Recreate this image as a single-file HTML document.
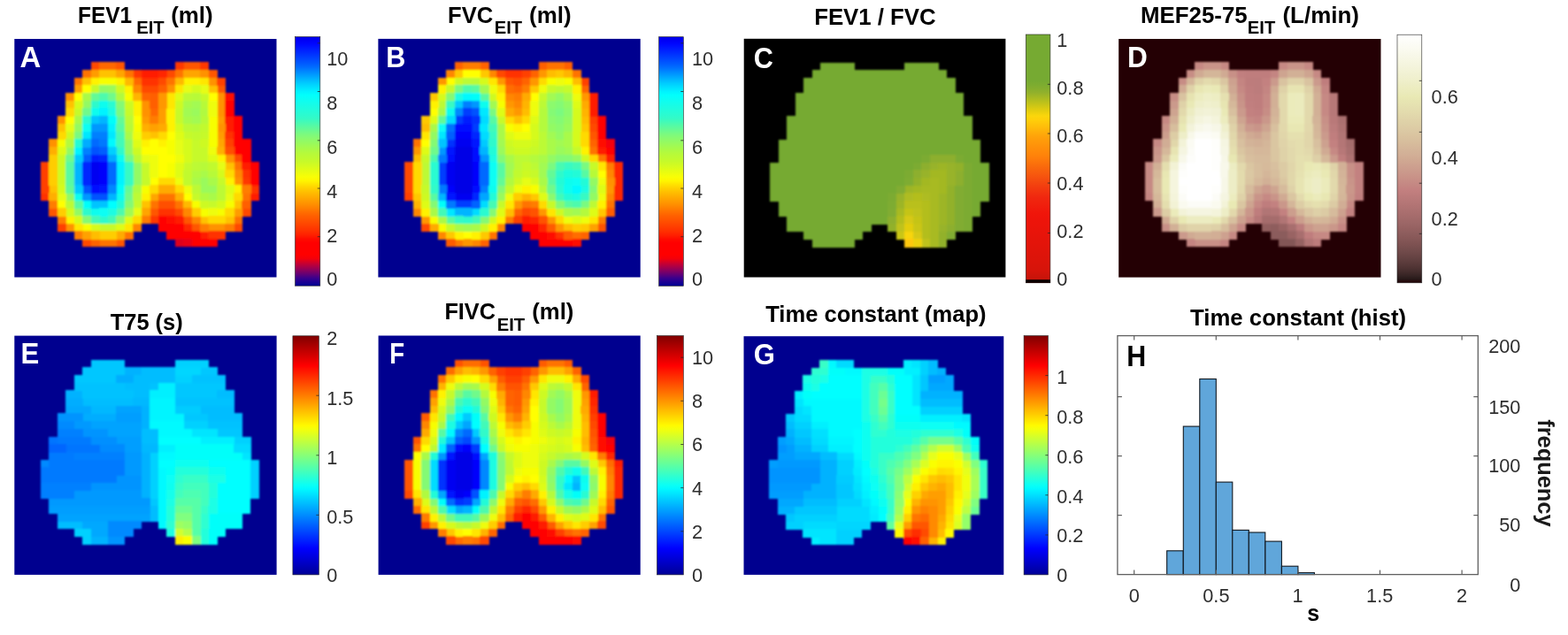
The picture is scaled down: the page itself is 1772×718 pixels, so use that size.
<!DOCTYPE html>
<html><head><meta charset="utf-8"><title>EIT regional lung function maps</title>
<style>html,body{margin:0;padding:0;background:#fff}svg{display:block}text{font-family:"Liberation Sans",sans-serif}</style>
</head><body>
<svg width="1772" height="718" viewBox="0 0 1772 718">
<defs><filter id="soft" x="-5%" y="-5%" width="110%" height="110%"><feGaussianBlur stdDeviation="0.9"/></filter></defs>
<rect width="1772" height="718" fill="#fff"/>
<rect x="16.3" y="44.0" width="296.20" height="269.50" fill="#00008f"/>
<g filter="url(#soft)" shape-rendering="crispEdges">
<path fill="#ff4800" d="M102.7 70.3h10.1v9.3h-10.1zM188.0 79.0h10.1v9.3h-10.1zM178.6 87.7h10.1v9.3h-10.1zM159.6 96.3h19.6v9.3h-19.6zM263.9 174.6h10.1v9.3h-10.1zM197.5 235.4h10.1v9.3h-10.1zM273.4 235.4h10.1v9.3h-10.1zM263.9 252.8h10.1v9.3h-10.1zM93.2 270.1h10.1v9.3h-10.1z"/>
<path fill="#ff6800" d="M112.2 70.3h19.6v9.3h-19.6zM150.1 87.7h10.1v9.3h-10.1zM169.1 122.4h10.1v9.3h-10.1z"/>
<path fill="#ff5700" d="M131.2 70.3h10.1v9.3h-10.1zM207.0 70.3h19.6v9.3h-19.6zM235.4 79.0h10.1v9.3h-10.1zM244.9 96.3h10.1v9.3h-10.1zM55.3 235.4h10.1v9.3h-10.1zM169.1 235.4h10.1v9.3h-10.1zM207.0 244.1h10.1v9.3h-10.1zM216.5 252.8h10.1v9.3h-10.1zM131.2 270.1h10.1v9.3h-10.1z"/>
<path fill="#ff3800" d="M197.5 70.3h10.1v9.3h-10.1zM226.0 70.3h10.1v9.3h-10.1zM150.1 79.0h10.1v9.3h-10.1zM273.4 200.6h10.1v9.3h-10.1zM169.1 244.1h10.1v9.3h-10.1z"/>
<path fill="#ff7300" d="M93.2 79.0h10.1v9.3h-10.1zM140.6 79.0h10.1v9.3h-10.1zM197.5 79.0h10.1v9.3h-10.1zM83.8 87.7h10.1v9.3h-10.1zM188.0 87.7h10.1v9.3h-10.1zM263.9 183.2h10.1v9.3h-10.1zM178.6 218.0h19.6v9.3h-19.6zM273.4 218.0h10.1v9.3h-10.1zM169.1 226.7h10.1v9.3h-10.1zM197.5 226.7h10.1v9.3h-10.1zM263.9 244.1h10.1v9.3h-10.1zM140.6 261.4h10.1v9.3h-10.1zM112.2 270.1h19.6v9.3h-19.6z"/>
<path fill="#ff9c00" d="M102.7 79.0h10.1v9.3h-10.1zM83.8 96.3h10.1v9.3h-10.1zM178.6 122.4h10.1v9.3h-10.1zM159.6 131.1h10.1v9.3h-10.1zM178.6 131.1h10.1v9.3h-10.1zM244.9 131.1h10.1v9.3h-10.1zM244.9 148.5h10.1v9.3h-10.1zM263.9 235.4h10.1v9.3h-10.1z"/>
<path fill="#ffc200" d="M112.2 79.0h19.6v9.3h-19.6zM93.2 87.7h10.1v9.3h-10.1zM235.4 96.3h10.1v9.3h-10.1zM74.3 113.7h10.1v9.3h-10.1zM64.8 139.8h10.1v9.3h-10.1zM169.1 148.5h10.1v9.3h-10.1zM254.4 183.2h10.1v9.3h-10.1zM55.3 209.3h10.1v9.3h-10.1zM159.6 226.7h10.1v9.3h-10.1zM263.9 226.7h10.1v9.3h-10.1zM226.0 244.1h10.1v9.3h-10.1zM254.4 244.1h10.1v9.3h-10.1z"/>
<path fill="#ffa500" d="M131.2 79.0h10.1v9.3h-10.1zM207.0 79.0h19.6v9.3h-19.6zM244.9 157.2h10.1v9.3h-10.1zM169.1 218.0h10.1v9.3h-10.1zM159.6 235.4h10.1v9.3h-10.1z"/>
<path fill="#ff1b00" d="M159.6 79.0h19.6v9.3h-19.6zM254.4 131.1h10.1v9.3h-10.1zM254.4 139.8h10.1v9.3h-10.1zM273.4 183.2h10.1v9.3h-10.1zM282.8 218.0h10.1v9.3h-10.1zM197.5 244.1h10.1v9.3h-10.1zM226.0 261.4h10.1v9.3h-10.1z"/>
<path fill="#ff2800" d="M178.6 79.0h10.1v9.3h-10.1zM207.0 252.8h10.1v9.3h-10.1z"/>
<path fill="#ff9200" d="M226.0 79.0h10.1v9.3h-10.1zM235.4 87.7h10.1v9.3h-10.1zM188.0 96.3h10.1v9.3h-10.1zM74.3 105.0h10.1v9.3h-10.1zM244.9 105.0h10.1v9.3h-10.1zM159.6 113.7h10.1v9.3h-10.1zM244.9 113.7h10.1v9.3h-10.1zM159.6 122.4h10.1v9.3h-10.1zM244.9 122.4h10.1v9.3h-10.1zM64.8 131.1h10.1v9.3h-10.1zM244.9 139.8h10.1v9.3h-10.1zM55.3 157.2h10.1v9.3h-10.1zM254.4 174.6h10.1v9.3h-10.1zM263.9 200.6h10.1v9.3h-10.1zM74.3 252.8h10.1v9.3h-10.1zM235.4 252.8h19.6v9.3h-19.6z"/>
<path fill="#fff200" d="M102.7 87.7h10.1v9.3h-10.1zM131.2 87.7h10.1v9.3h-10.1zM207.0 87.7h19.6v9.3h-19.6zM140.6 96.3h10.1v9.3h-10.1zM150.1 113.7h10.1v9.3h-10.1zM150.1 122.4h10.1v9.3h-10.1zM188.0 122.4h10.1v9.3h-10.1zM188.0 131.1h10.1v9.3h-10.1zM188.0 139.8h10.1v9.3h-10.1zM159.6 157.2h10.1v9.3h-10.1zM178.6 157.2h10.1v9.3h-10.1zM244.9 174.6h10.1v9.3h-10.1zM254.4 200.6h10.1v9.3h-10.1zM263.9 209.3h10.1v9.3h-10.1zM159.6 218.0h10.1v9.3h-10.1zM74.3 244.1h10.1v9.3h-10.1z"/>
<path fill="#f7fe06" d="M112.2 87.7h19.6v9.3h-19.6zM140.6 105.0h10.1v9.3h-10.1zM235.4 131.1h10.1v9.3h-10.1zM150.1 139.8h10.1v9.3h-10.1zM235.4 139.8h10.1v9.3h-10.1zM235.4 148.5h10.1v9.3h-10.1zM64.8 157.2h10.1v9.3h-10.1zM188.0 157.2h10.1v9.3h-10.1zM235.4 157.2h10.1v9.3h-10.1zM188.0 165.9h10.1v9.3h-10.1zM188.0 183.2h10.1v9.3h-10.1zM188.0 191.9h10.1v9.3h-10.1zM159.6 209.3h10.1v9.3h-10.1zM216.5 226.7h10.1v9.3h-10.1zM254.4 226.7h10.1v9.3h-10.1zM226.0 235.4h10.1v9.3h-10.1zM244.9 235.4h10.1v9.3h-10.1zM93.2 252.8h10.1v9.3h-10.1z"/>
<path fill="#ffb900" d="M140.6 87.7h10.1v9.3h-10.1zM197.5 87.7h10.1v9.3h-10.1zM207.0 226.7h10.1v9.3h-10.1z"/>
<path fill="#ff3000" d="M159.6 87.7h19.6v9.3h-19.6zM254.4 148.5h10.1v9.3h-10.1zM273.4 191.9h10.1v9.3h-10.1zM282.8 209.3h10.1v9.3h-10.1zM45.8 218.0h10.1v9.3h-10.1zM178.6 235.4h19.6v9.3h-19.6zM235.4 261.4h19.6v9.3h-19.6z"/>
<path fill="#ffe600" d="M226.0 87.7h10.1v9.3h-10.1zM197.5 96.3h10.1v9.3h-10.1zM188.0 105.0h10.1v9.3h-10.1zM188.0 113.7h10.1v9.3h-10.1zM83.8 252.8h10.1v9.3h-10.1zM140.6 252.8h10.1v9.3h-10.1z"/>
<path fill="#ff4000" d="M244.9 87.7h10.1v9.3h-10.1zM254.4 157.2h10.1v9.3h-10.1zM45.8 183.2h10.1v9.3h-10.1zM45.8 191.9h10.1v9.3h-10.1zM45.8 200.6h10.1v9.3h-10.1zM45.8 209.3h10.1v9.3h-10.1zM64.8 252.8h10.1v9.3h-10.1z"/>
<path fill="#ffff00" d="M93.2 96.3h10.1v9.3h-10.1zM83.8 105.0h10.1v9.3h-10.1zM235.4 105.0h10.1v9.3h-10.1zM74.3 131.1h10.1v9.3h-10.1zM150.1 131.1h10.1v9.3h-10.1zM188.0 148.5h10.1v9.3h-10.1zM169.1 157.2h10.1v9.3h-10.1zM159.6 165.9h29.0v9.3h-29.0zM178.6 174.6h19.6v9.3h-19.6zM178.6 183.2h10.1v9.3h-10.1zM178.6 191.9h10.1v9.3h-10.1zM169.1 200.6h10.1v9.3h-10.1zM207.0 218.0h10.1v9.3h-10.1zM64.8 226.7h10.1v9.3h-10.1z"/>
<path fill="#c6fa2a" d="M102.7 96.3h10.1v9.3h-10.1zM226.0 105.0h10.1v9.3h-10.1zM83.8 122.4h10.1v9.3h-10.1zM140.6 122.4h10.1v9.3h-10.1zM197.5 122.4h10.1v9.3h-10.1zM197.5 131.1h10.1v9.3h-10.1zM207.0 148.5h10.1v9.3h-10.1zM226.0 148.5h10.1v9.3h-10.1zM216.5 157.2h10.1v9.3h-10.1zM216.5 165.9h19.6v9.3h-19.6zM216.5 174.6h19.6v9.3h-19.6zM159.6 183.2h10.1v9.3h-10.1zM207.0 183.2h10.1v9.3h-10.1zM159.6 191.9h10.1v9.3h-10.1zM159.6 200.6h10.1v9.3h-10.1zM244.9 200.6h10.1v9.3h-10.1zM216.5 218.0h10.1v9.3h-10.1zM150.1 226.7h10.1v9.3h-10.1zM235.4 226.7h10.1v9.3h-10.1zM112.2 252.8h19.6v9.3h-19.6z"/>
<path fill="#93fa64" d="M112.2 96.3h10.1v9.3h-10.1zM93.2 113.7h10.1v9.3h-10.1zM83.8 139.8h10.1v9.3h-10.1zM140.6 157.2h10.1v9.3h-10.1zM74.3 165.9h10.1v9.3h-10.1zM140.6 165.9h10.1v9.3h-10.1zM150.1 183.2h10.1v9.3h-10.1zM150.1 191.9h10.1v9.3h-10.1zM150.1 200.6h10.1v9.3h-10.1zM74.3 218.0h10.1v9.3h-10.1zM83.8 235.4h10.1v9.3h-10.1z"/>
<path fill="#9afa5b" d="M121.7 96.3h10.1v9.3h-10.1zM216.5 122.4h10.1v9.3h-10.1zM226.0 200.6h10.1v9.3h-10.1zM226.0 209.3h19.6v9.3h-19.6z"/>
<path fill="#cdfa24" d="M131.2 96.3h10.1v9.3h-10.1zM140.6 113.7h10.1v9.3h-10.1zM197.5 113.7h10.1v9.3h-10.1zM74.3 148.5h10.1v9.3h-10.1zM226.0 157.2h10.1v9.3h-10.1zM150.1 165.9h10.1v9.3h-10.1zM64.8 174.6h10.1v9.3h-10.1zM64.8 183.2h10.1v9.3h-10.1zM64.8 191.9h10.1v9.3h-10.1zM64.8 200.6h10.1v9.3h-10.1zM226.0 226.7h10.1v9.3h-10.1z"/>
<path fill="#ff8700" d="M150.1 96.3h10.1v9.3h-10.1zM263.9 191.9h10.1v9.3h-10.1zM207.0 235.4h10.1v9.3h-10.1zM216.5 244.1h10.1v9.3h-10.1zM150.1 252.8h10.1v9.3h-10.1z"/>
<path fill="#ff5f00" d="M178.6 96.3h10.1v9.3h-10.1zM169.1 105.0h10.1v9.3h-10.1zM169.1 113.7h10.1v9.3h-10.1zM273.4 226.7h10.1v9.3h-10.1z"/>
<path fill="#e6fd12" d="M207.0 96.3h10.1v9.3h-10.1zM226.0 96.3h10.1v9.3h-10.1zM74.3 139.8h10.1v9.3h-10.1zM197.5 157.2h10.1v9.3h-10.1zM197.5 165.9h10.1v9.3h-10.1zM159.6 174.6h10.1v9.3h-10.1zM244.9 183.2h10.1v9.3h-10.1zM64.8 218.0h10.1v9.3h-10.1zM254.4 218.0h10.1v9.3h-10.1zM150.1 235.4h10.1v9.3h-10.1z"/>
<path fill="#d5fb1e" d="M216.5 96.3h10.1v9.3h-10.1zM83.8 113.7h10.1v9.3h-10.1zM197.5 139.8h10.1v9.3h-10.1zM207.0 157.2h10.1v9.3h-10.1zM207.0 165.9h10.1v9.3h-10.1zM207.0 174.6h10.1v9.3h-10.1zM244.9 191.9h10.1v9.3h-10.1zM64.8 209.3h10.1v9.3h-10.1zM244.9 226.7h10.1v9.3h-10.1zM74.3 235.4h10.1v9.3h-10.1zM83.8 244.1h10.1v9.3h-10.1zM102.7 252.8h10.1v9.3h-10.1z"/>
<path fill="#a9fa49" d="M93.2 105.0h10.1v9.3h-10.1zM207.0 113.7h10.1v9.3h-10.1zM83.8 131.1h10.1v9.3h-10.1zM207.0 131.1h10.1v9.3h-10.1zM140.6 148.5h10.1v9.3h-10.1zM226.0 191.9h10.1v9.3h-10.1zM216.5 200.6h10.1v9.3h-10.1zM235.4 200.6h10.1v9.3h-10.1zM235.4 218.0h10.1v9.3h-10.1z"/>
<path fill="#64fa96" d="M102.7 105.0h10.1v9.3h-10.1zM131.2 131.1h10.1v9.3h-10.1zM74.3 209.3h10.1v9.3h-10.1zM140.6 209.3h10.1v9.3h-10.1z"/>
<path fill="#4dfaad" d="M112.2 105.0h10.1v9.3h-10.1zM131.2 235.4h10.1v9.3h-10.1z"/>
<path fill="#6ffa8b" d="M121.7 105.0h10.1v9.3h-10.1zM93.2 122.4h10.1v9.3h-10.1zM74.3 174.6h10.1v9.3h-10.1zM140.6 218.0h10.1v9.3h-10.1z"/>
<path fill="#b0fa40" d="M131.2 105.0h10.1v9.3h-10.1zM226.0 122.4h10.1v9.3h-10.1zM216.5 191.9h10.1v9.3h-10.1zM150.1 209.3h10.1v9.3h-10.1zM226.0 218.0h10.1v9.3h-10.1z"/>
<path fill="#ffb400" d="M150.1 105.0h10.1v9.3h-10.1z"/>
<path fill="#ff6300" d="M159.6 105.0h10.1v9.3h-10.1zM102.7 270.1h10.1v9.3h-10.1z"/>
<path fill="#ff9700" d="M178.6 105.0h10.1v9.3h-10.1zM178.6 113.7h10.1v9.3h-10.1z"/>
<path fill="#defc18" d="M197.5 105.0h10.1v9.3h-10.1zM197.5 148.5h10.1v9.3h-10.1zM150.1 157.2h10.1v9.3h-10.1zM64.8 165.9h10.1v9.3h-10.1zM235.4 174.6h10.1v9.3h-10.1zM197.5 183.2h10.1v9.3h-10.1zM197.5 191.9h10.1v9.3h-10.1zM254.4 209.3h10.1v9.3h-10.1zM140.6 244.1h10.1v9.3h-10.1zM131.2 252.8h10.1v9.3h-10.1z"/>
<path fill="#bcfa34" d="M207.0 105.0h10.1v9.3h-10.1zM140.6 131.1h10.1v9.3h-10.1zM207.0 139.8h10.1v9.3h-10.1zM150.1 174.6h10.1v9.3h-10.1zM216.5 183.2h10.1v9.3h-10.1zM216.5 209.3h10.1v9.3h-10.1zM244.9 209.3h10.1v9.3h-10.1zM150.1 218.0h10.1v9.3h-10.1zM244.9 218.0h10.1v9.3h-10.1zM74.3 226.7h10.1v9.3h-10.1z"/>
<path fill="#b7fa39" d="M216.5 105.0h10.1v9.3h-10.1zM226.0 113.7h10.1v9.3h-10.1zM226.0 131.1h10.1v9.3h-10.1zM140.6 139.8h10.1v9.3h-10.1zM216.5 139.8h10.1v9.3h-10.1zM226.0 183.2h10.1v9.3h-10.1zM235.4 191.9h10.1v9.3h-10.1z"/>
<path fill="#ff0d00" d="M254.4 105.0h10.1v9.3h-10.1z"/>
<path fill="#2ffacb" d="M102.7 113.7h10.1v9.3h-10.1zM131.2 165.9h10.1v9.3h-10.1zM93.2 235.4h10.1v9.3h-10.1zM112.2 244.1h10.1v9.3h-10.1z"/>
<path fill="#10fdee" d="M112.2 113.7h10.1v9.3h-10.1zM102.7 122.4h10.1v9.3h-10.1zM131.2 174.6h10.1v9.3h-10.1zM83.8 218.0h10.1v9.3h-10.1zM131.2 218.0h10.1v9.3h-10.1zM102.7 235.4h10.1v9.3h-10.1z"/>
<path fill="#2afbd1" d="M121.7 113.7h10.1v9.3h-10.1zM93.2 131.1h10.1v9.3h-10.1z"/>
<path fill="#84fa75" d="M131.2 113.7h10.1v9.3h-10.1zM140.6 226.7h10.1v9.3h-10.1zM93.2 244.1h10.1v9.3h-10.1z"/>
<path fill="#a2fa52" d="M216.5 113.7h10.1v9.3h-10.1zM207.0 122.4h10.1v9.3h-10.1zM216.5 131.1h10.1v9.3h-10.1zM140.6 235.4h10.1v9.3h-10.1z"/>
<path fill="#eefd0c" d="M235.4 113.7h10.1v9.3h-10.1zM235.4 122.4h10.1v9.3h-10.1zM150.1 148.5h10.1v9.3h-10.1zM235.4 165.9h10.1v9.3h-10.1zM169.1 174.6h10.1v9.3h-10.1zM197.5 174.6h10.1v9.3h-10.1zM169.1 183.2h10.1v9.3h-10.1zM169.1 191.9h10.1v9.3h-10.1zM197.5 200.6h10.1v9.3h-10.1zM207.0 209.3h10.1v9.3h-10.1zM235.4 235.4h10.1v9.3h-10.1z"/>
<path fill="#ff0000" d="M254.4 113.7h10.1v9.3h-10.1zM254.4 122.4h10.1v9.3h-10.1zM263.9 131.1h10.1v9.3h-10.1zM263.9 139.8h10.1v9.3h-10.1zM263.9 148.5h10.1v9.3h-10.1zM263.9 157.2h19.6v9.3h-19.6zM263.9 165.9h19.6v9.3h-19.6zM273.4 174.6h10.1v9.3h-10.1zM282.8 183.2h10.1v9.3h-10.1zM282.8 191.9h10.1v9.3h-10.1zM282.8 200.6h10.1v9.3h-10.1zM178.6 244.1h10.1v9.3h-10.1zM178.6 252.8h29.0v9.3h-29.0zM188.0 261.4h38.5v9.3h-38.5zM216.5 270.1h29.0v9.3h-29.0z"/>
<path fill="#ffda00" d="M74.3 122.4h10.1v9.3h-10.1zM64.8 148.5h10.1v9.3h-10.1zM178.6 148.5h10.1v9.3h-10.1zM254.4 191.9h10.1v9.3h-10.1zM178.6 200.6h19.6v9.3h-19.6zM169.1 209.3h10.1v9.3h-10.1zM197.5 209.3h10.1v9.3h-10.1zM263.9 218.0h10.1v9.3h-10.1zM254.4 235.4h10.1v9.3h-10.1zM150.1 244.1h10.1v9.3h-10.1zM235.4 244.1h19.6v9.3h-19.6z"/>
<path fill="#00f3ff" d="M112.2 122.4h10.1v9.3h-10.1zM121.7 139.8h10.1v9.3h-10.1zM83.8 165.9h10.1v9.3h-10.1zM131.2 183.2h10.1v9.3h-10.1zM131.2 191.9h10.1v9.3h-10.1zM131.2 200.6h10.1v9.3h-10.1z"/>
<path fill="#1afce2" d="M121.7 122.4h10.1v9.3h-10.1zM121.7 235.4h10.1v9.3h-10.1z"/>
<path fill="#7afa80" d="M131.2 122.4h10.1v9.3h-10.1zM83.8 148.5h10.1v9.3h-10.1zM140.6 174.6h10.1v9.3h-10.1z"/>
<path fill="#00c4ff" d="M102.7 131.1h10.1v9.3h-10.1zM102.7 226.7h19.6v9.3h-19.6z"/>
<path fill="#00b5ff" d="M112.2 131.1h10.1v9.3h-10.1zM83.8 183.2h10.1v9.3h-10.1zM83.8 191.9h10.1v9.3h-10.1zM83.8 200.6h10.1v9.3h-10.1zM121.7 218.0h10.1v9.3h-10.1z"/>
<path fill="#05fef9" d="M121.7 131.1h10.1v9.3h-10.1zM131.2 209.3h10.1v9.3h-10.1zM93.2 226.7h10.1v9.3h-10.1z"/>
<path fill="#ff7d00" d="M169.1 131.1h10.1v9.3h-10.1zM273.4 209.3h10.1v9.3h-10.1zM55.3 226.7h10.1v9.3h-10.1zM64.8 244.1h10.1v9.3h-10.1zM159.6 244.1h10.1v9.3h-10.1zM226.0 252.8h10.1v9.3h-10.1zM254.4 252.8h10.1v9.3h-10.1zM83.8 261.4h10.1v9.3h-10.1z"/>
<path fill="#0afef4" d="M93.2 139.8h10.1v9.3h-10.1zM112.2 235.4h10.1v9.3h-10.1z"/>
<path fill="#0097ff" d="M102.7 139.8h19.6v9.3h-19.6zM93.2 218.0h10.1v9.3h-10.1z"/>
<path fill="#58faa2" d="M131.2 139.8h10.1v9.3h-10.1zM74.3 183.2h10.1v9.3h-10.1zM74.3 191.9h10.1v9.3h-10.1zM74.3 200.6h10.1v9.3h-10.1zM83.8 226.7h10.1v9.3h-10.1z"/>
<path fill="#ffaf00" d="M159.6 139.8h10.1v9.3h-10.1zM55.3 165.9h10.1v9.3h-10.1zM244.9 165.9h10.1v9.3h-10.1zM55.3 218.0h10.1v9.3h-10.1zM197.5 218.0h10.1v9.3h-10.1z"/>
<path fill="#ffa100" d="M169.1 139.8h10.1v9.3h-10.1zM93.2 261.4h10.1v9.3h-10.1z"/>
<path fill="#ffaa00" d="M178.6 139.8h10.1v9.3h-10.1zM178.6 209.3h19.6v9.3h-19.6zM131.2 261.4h10.1v9.3h-10.1z"/>
<path fill="#c1fa2f" d="M226.0 139.8h10.1v9.3h-10.1zM216.5 148.5h10.1v9.3h-10.1zM235.4 183.2h10.1v9.3h-10.1zM207.0 191.9h10.1v9.3h-10.1zM207.0 200.6h10.1v9.3h-10.1z"/>
<path fill="#00e8ff" d="M93.2 148.5h10.1v9.3h-10.1zM121.7 148.5h10.1v9.3h-10.1z"/>
<path fill="#0080ff" d="M102.7 148.5h19.6v9.3h-19.6zM93.2 165.9h10.1v9.3h-10.1z"/>
<path fill="#47fab3" d="M131.2 148.5h10.1v9.3h-10.1z"/>
<path fill="#ffcd00" d="M159.6 148.5h10.1v9.3h-10.1zM55.3 174.6h10.1v9.3h-10.1zM55.3 183.2h10.1v9.3h-10.1zM55.3 191.9h10.1v9.3h-10.1zM55.3 200.6h10.1v9.3h-10.1zM64.8 235.4h10.1v9.3h-10.1zM216.5 235.4h10.1v9.3h-10.1zM112.2 261.4h19.6v9.3h-19.6z"/>
<path fill="#b4fa3c" d="M74.3 157.2h10.1v9.3h-10.1z"/>
<path fill="#24fbd7" d="M83.8 157.2h10.1v9.3h-10.1zM131.2 226.7h10.1v9.3h-10.1z"/>
<path fill="#00adff" d="M93.2 157.2h10.1v9.3h-10.1zM121.7 174.6h10.1v9.3h-10.1z"/>
<path fill="#006aff" d="M102.7 157.2h10.1v9.3h-10.1zM121.7 183.2h10.1v9.3h-10.1zM121.7 191.9h10.1v9.3h-10.1zM121.7 200.6h10.1v9.3h-10.1z"/>
<path fill="#0079ff" d="M112.2 157.2h10.1v9.3h-10.1z"/>
<path fill="#00f9ff" d="M121.7 157.2h10.1v9.3h-10.1z"/>
<path fill="#42fab8" d="M131.2 157.2h10.1v9.3h-10.1zM102.7 244.1h10.1v9.3h-10.1zM121.7 244.1h10.1v9.3h-10.1z"/>
<path fill="#0053ff" d="M102.7 165.9h10.1v9.3h-10.1zM93.2 209.3h10.1v9.3h-10.1zM102.7 218.0h19.6v9.3h-19.6z"/>
<path fill="#005eff" d="M112.2 165.9h10.1v9.3h-10.1zM93.2 174.6h10.1v9.3h-10.1z"/>
<path fill="#00d0ff" d="M121.7 165.9h10.1v9.3h-10.1z"/>
<path fill="#ff4f00" d="M254.4 165.9h10.1v9.3h-10.1zM178.6 226.7h19.6v9.3h-19.6z"/>
<path fill="#00caff" d="M83.8 174.6h10.1v9.3h-10.1zM83.8 209.3h10.1v9.3h-10.1z"/>
<path fill="#001dff" d="M102.7 174.6h10.1v9.3h-10.1z"/>
<path fill="#0028ff" d="M112.2 174.6h10.1v9.3h-10.1zM93.2 183.2h10.1v9.3h-10.1zM93.2 191.9h10.1v9.3h-10.1zM93.2 200.6h10.1v9.3h-10.1z"/>
<path fill="#0000f1" d="M102.7 183.2h10.1v9.3h-10.1zM102.7 191.9h10.1v9.3h-10.1zM102.7 200.6h10.1v9.3h-10.1z"/>
<path fill="#0000fc" d="M112.2 183.2h10.1v9.3h-10.1zM112.2 191.9h10.1v9.3h-10.1zM112.2 200.6h10.1v9.3h-10.1z"/>
<path fill="#37fac3" d="M140.6 183.2h10.1v9.3h-10.1zM140.6 191.9h10.1v9.3h-10.1zM140.6 200.6h10.1v9.3h-10.1z"/>
<path fill="#000dff" d="M102.7 209.3h10.1v9.3h-10.1z"/>
<path fill="#0012ff" d="M112.2 209.3h10.1v9.3h-10.1z"/>
<path fill="#0088ff" d="M121.7 209.3h10.1v9.3h-10.1z"/>
<path fill="#00ffff" d="M121.7 226.7h10.1v9.3h-10.1z"/>
<path fill="#8cfa6d" d="M131.2 244.1h10.1v9.3h-10.1z"/>
<path fill="#ff0700" d="M188.0 244.1h10.1v9.3h-10.1z"/>
<path fill="#ffbd00" d="M102.7 261.4h10.1v9.3h-10.1z"/>
<path fill="#de001e" d="M197.5 270.1h10.1v9.3h-10.1z"/>
<path fill="#e90014" d="M207.0 270.1h10.1v9.3h-10.1z"/>
</g>
<rect x="427.4" y="43.9" width="296.30" height="269.60" fill="#00008f"/>
<g filter="url(#soft)" shape-rendering="crispEdges">
<path fill="#ff6300" d="M513.9 70.3h10.1v9.3h-10.1zM542.4 70.3h10.1v9.3h-10.1zM599.2 79.0h10.1v9.3h-10.1zM589.8 87.7h10.1v9.3h-10.1zM580.3 96.3h10.1v9.3h-10.1zM656.1 96.3h10.1v9.3h-10.1zM665.6 157.2h10.1v9.3h-10.1zM580.3 235.4h10.1v9.3h-10.1zM656.1 261.4h10.1v9.3h-10.1zM542.4 270.1h10.1v9.3h-10.1z"/>
<path fill="#ff7d00" d="M523.4 70.3h19.6v9.3h-19.6zM589.8 96.3h10.1v9.3h-10.1zM580.3 105.0h10.1v9.3h-10.1zM684.6 183.2h10.1v9.3h-10.1zM599.2 226.7h10.1v9.3h-10.1zM570.8 244.1h10.1v9.3h-10.1zM675.1 244.1h10.1v9.3h-10.1zM513.9 270.1h10.1v9.3h-10.1z"/>
<path fill="#ff5f00" d="M608.7 70.3h10.1v9.3h-10.1zM637.2 70.3h10.1v9.3h-10.1z"/>
<path fill="#ff7300" d="M618.2 70.3h19.6v9.3h-19.6zM646.6 79.0h10.1v9.3h-10.1zM466.5 157.2h10.1v9.3h-10.1zM665.6 165.9h10.1v9.3h-10.1zM675.1 174.6h10.1v9.3h-10.1zM589.8 226.7h10.1v9.3h-10.1zM684.6 226.7h10.1v9.3h-10.1zM551.8 261.4h10.1v9.3h-10.1z"/>
<path fill="#ff8700" d="M504.4 79.0h10.1v9.3h-10.1zM551.8 79.0h10.1v9.3h-10.1zM570.8 105.0h10.1v9.3h-10.1zM580.3 113.7h10.1v9.3h-10.1zM684.6 191.9h10.1v9.3h-10.1zM684.6 218.0h10.1v9.3h-10.1zM466.5 235.4h10.1v9.3h-10.1zM561.3 252.8h10.1v9.3h-10.1zM495.0 261.4h10.1v9.3h-10.1zM532.9 270.1h10.1v9.3h-10.1z"/>
<path fill="#ffc800" d="M513.9 79.0h10.1v9.3h-10.1zM542.4 79.0h10.1v9.3h-10.1zM627.7 79.0h10.1v9.3h-10.1zM599.2 96.3h10.1v9.3h-10.1zM485.5 105.0h10.1v9.3h-10.1zM476.0 131.1h10.1v9.3h-10.1zM656.1 139.8h10.1v9.3h-10.1zM466.5 218.0h10.1v9.3h-10.1zM599.2 218.0h10.1v9.3h-10.1zM675.1 235.4h10.1v9.3h-10.1zM656.1 252.8h10.1v9.3h-10.1zM504.4 261.4h10.1v9.3h-10.1zM542.4 261.4h10.1v9.3h-10.1z"/>
<path fill="#ffff00" d="M523.4 79.0h19.6v9.3h-19.6zM504.4 87.7h10.1v9.3h-10.1zM599.2 105.0h10.1v9.3h-10.1zM485.5 122.4h10.1v9.3h-10.1zM589.8 139.8h10.1v9.3h-10.1zM476.0 157.2h10.1v9.3h-10.1zM675.1 191.9h10.1v9.3h-10.1zM523.4 261.4h10.1v9.3h-10.1z"/>
<path fill="#ff4800" d="M561.3 79.0h10.1v9.3h-10.1zM665.6 139.8h10.1v9.3h-10.1zM457.0 183.2h10.1v9.3h-10.1zM457.0 191.9h10.1v9.3h-10.1zM457.0 200.6h10.1v9.3h-10.1zM457.0 209.3h10.1v9.3h-10.1zM589.8 235.4h10.1v9.3h-10.1zM476.0 252.8h10.1v9.3h-10.1z"/>
<path fill="#ff3000" d="M570.8 79.0h19.6v9.3h-19.6zM627.7 261.4h10.1v9.3h-10.1z"/>
<path fill="#ff4000" d="M589.8 79.0h10.1v9.3h-10.1zM656.1 87.7h10.1v9.3h-10.1zM665.6 131.1h10.1v9.3h-10.1zM457.0 218.0h10.1v9.3h-10.1zM580.3 244.1h10.1v9.3h-10.1z"/>
<path fill="#ff9700" d="M608.7 79.0h10.1v9.3h-10.1zM495.0 87.7h10.1v9.3h-10.1zM561.3 87.7h10.1v9.3h-10.1zM599.2 87.7h10.1v9.3h-10.1zM656.1 105.0h10.1v9.3h-10.1zM570.8 113.7h10.1v9.3h-10.1zM580.3 122.4h10.1v9.3h-10.1zM466.5 165.9h10.1v9.3h-10.1zM684.6 209.3h10.1v9.3h-10.1zM580.3 226.7h10.1v9.3h-10.1zM608.7 235.4h10.1v9.3h-10.1zM476.0 244.1h10.1v9.3h-10.1zM618.2 244.1h10.1v9.3h-10.1zM627.7 252.8h10.1v9.3h-10.1zM523.4 270.1h10.1v9.3h-10.1z"/>
<path fill="#ffbd00" d="M618.2 79.0h10.1v9.3h-10.1zM646.6 87.7h10.1v9.3h-10.1zM589.8 122.4h10.1v9.3h-10.1zM580.3 131.1h10.1v9.3h-10.1zM656.1 131.1h10.1v9.3h-10.1zM476.0 139.8h10.1v9.3h-10.1zM466.5 174.6h10.1v9.3h-10.1zM570.8 235.4h10.1v9.3h-10.1zM637.2 252.8h10.1v9.3h-10.1z"/>
<path fill="#ffb400" d="M637.2 79.0h10.1v9.3h-10.1zM589.8 113.7h10.1v9.3h-10.1zM656.1 122.4h10.1v9.3h-10.1zM589.8 218.0h10.1v9.3h-10.1zM466.5 226.7h10.1v9.3h-10.1z"/>
<path fill="#cdfa24" d="M513.9 87.7h10.1v9.3h-10.1zM551.8 105.0h10.1v9.3h-10.1zM570.8 157.2h10.1v9.3h-10.1zM599.2 157.2h10.1v9.3h-10.1zM580.3 165.9h19.6v9.3h-19.6zM656.1 174.6h10.1v9.3h-10.1zM589.8 191.9h10.1v9.3h-10.1zM580.3 200.6h10.1v9.3h-10.1zM476.0 218.0h10.1v9.3h-10.1zM627.7 235.4h10.1v9.3h-10.1zM551.8 244.1h10.1v9.3h-10.1zM542.4 252.8h10.1v9.3h-10.1z"/>
<path fill="#bcfa34" d="M523.4 87.7h19.6v9.3h-19.6zM627.7 96.3h10.1v9.3h-10.1zM495.0 113.7h10.1v9.3h-10.1zM608.7 113.7h10.1v9.3h-10.1zM608.7 148.5h10.1v9.3h-10.1zM608.7 157.2h10.1v9.3h-10.1zM608.7 165.9h10.1v9.3h-10.1zM580.3 174.6h19.6v9.3h-19.6zM476.0 183.2h10.1v9.3h-10.1zM580.3 183.2h10.1v9.3h-10.1zM599.2 183.2h10.1v9.3h-10.1zM476.0 191.9h10.1v9.3h-10.1zM476.0 200.6h10.1v9.3h-10.1zM608.7 209.3h10.1v9.3h-10.1zM665.6 226.7h10.1v9.3h-10.1z"/>
<path fill="#d5fb1e" d="M542.4 87.7h10.1v9.3h-10.1zM495.0 105.0h10.1v9.3h-10.1zM646.6 122.4h10.1v9.3h-10.1zM646.6 131.1h10.1v9.3h-10.1zM599.2 139.8h10.1v9.3h-10.1zM646.6 139.8h10.1v9.3h-10.1zM599.2 148.5h10.1v9.3h-10.1zM646.6 148.5h10.1v9.3h-10.1zM580.3 157.2h19.6v9.3h-19.6zM646.6 157.2h10.1v9.3h-10.1zM599.2 200.6h10.1v9.3h-10.1z"/>
<path fill="#ffe600" d="M551.8 87.7h10.1v9.3h-10.1zM476.0 148.5h10.1v9.3h-10.1zM675.1 183.2h10.1v9.3h-10.1zM570.8 226.7h10.1v9.3h-10.1zM618.2 235.4h10.1v9.3h-10.1zM665.6 244.1h10.1v9.3h-10.1z"/>
<path fill="#ff5700" d="M570.8 87.7h10.1v9.3h-10.1zM665.6 148.5h10.1v9.3h-10.1z"/>
<path fill="#ff4f00" d="M580.3 87.7h10.1v9.3h-10.1z"/>
<path fill="#ffda00" d="M608.7 87.7h10.1v9.3h-10.1zM561.3 96.3h10.1v9.3h-10.1zM570.8 131.1h10.1v9.3h-10.1zM589.8 131.1h10.1v9.3h-10.1zM656.1 148.5h10.1v9.3h-10.1zM656.1 157.2h10.1v9.3h-10.1zM665.6 174.6h10.1v9.3h-10.1zM466.5 183.2h10.1v9.3h-10.1zM466.5 191.9h10.1v9.3h-10.1zM466.5 200.6h10.1v9.3h-10.1zM466.5 209.3h10.1v9.3h-10.1zM608.7 226.7h10.1v9.3h-10.1zM627.7 244.1h10.1v9.3h-10.1z"/>
<path fill="#f7fe06" d="M618.2 87.7h10.1v9.3h-10.1zM637.2 87.7h10.1v9.3h-10.1zM561.3 113.7h10.1v9.3h-10.1zM570.8 139.8h10.1v9.3h-10.1zM599.2 209.3h10.1v9.3h-10.1zM485.5 244.1h10.1v9.3h-10.1zM495.0 252.8h10.1v9.3h-10.1z"/>
<path fill="#eefd0c" d="M627.7 87.7h10.1v9.3h-10.1zM551.8 96.3h10.1v9.3h-10.1zM608.7 96.3h10.1v9.3h-10.1zM646.6 105.0h10.1v9.3h-10.1zM599.2 113.7h10.1v9.3h-10.1zM599.2 122.4h10.1v9.3h-10.1zM580.3 148.5h19.6v9.3h-19.6zM675.1 200.6h10.1v9.3h-10.1zM580.3 209.3h10.1v9.3h-10.1zM570.8 218.0h10.1v9.3h-10.1zM675.1 218.0h10.1v9.3h-10.1zM637.2 244.1h10.1v9.3h-10.1zM656.1 244.1h10.1v9.3h-10.1z"/>
<path fill="#fff200" d="M495.0 96.3h10.1v9.3h-10.1zM646.6 96.3h10.1v9.3h-10.1zM561.3 105.0h10.1v9.3h-10.1zM485.5 113.7h10.1v9.3h-10.1zM580.3 139.8h10.1v9.3h-10.1zM656.1 165.9h10.1v9.3h-10.1zM589.8 209.3h10.1v9.3h-10.1zM675.1 226.7h10.1v9.3h-10.1zM476.0 235.4h10.1v9.3h-10.1zM561.3 244.1h10.1v9.3h-10.1zM551.8 252.8h10.1v9.3h-10.1zM513.9 261.4h10.1v9.3h-10.1zM532.9 261.4h10.1v9.3h-10.1z"/>
<path fill="#c6fa2a" d="M504.4 96.3h10.1v9.3h-10.1zM618.2 96.3h10.1v9.3h-10.1zM637.2 96.3h10.1v9.3h-10.1zM608.7 105.0h10.1v9.3h-10.1zM561.3 131.1h10.1v9.3h-10.1zM570.8 165.9h10.1v9.3h-10.1zM599.2 165.9h10.1v9.3h-10.1zM646.6 165.9h10.1v9.3h-10.1zM476.0 174.6h10.1v9.3h-10.1zM589.8 183.2h10.1v9.3h-10.1zM665.6 183.2h10.1v9.3h-10.1zM599.2 191.9h10.1v9.3h-10.1zM476.0 209.3h10.1v9.3h-10.1zM570.8 209.3h10.1v9.3h-10.1zM561.3 226.7h10.1v9.3h-10.1zM618.2 226.7h10.1v9.3h-10.1zM504.4 252.8h10.1v9.3h-10.1z"/>
<path fill="#7afa80" d="M513.9 96.3h10.1v9.3h-10.1zM551.8 122.4h10.1v9.3h-10.1zM627.7 122.4h10.1v9.3h-10.1zM618.2 183.2h10.1v9.3h-10.1zM656.1 183.2h10.1v9.3h-10.1zM656.1 226.7h10.1v9.3h-10.1z"/>
<path fill="#4dfaad" d="M523.4 96.3h10.1v9.3h-10.1zM485.5 174.6h10.1v9.3h-10.1zM646.6 226.7h10.1v9.3h-10.1z"/>
<path fill="#58faa2" d="M532.9 96.3h10.1v9.3h-10.1zM542.4 105.0h10.1v9.3h-10.1zM551.8 131.1h10.1v9.3h-10.1zM561.3 183.2h10.1v9.3h-10.1zM561.3 191.9h10.1v9.3h-10.1zM656.1 191.9h10.1v9.3h-10.1zM618.2 200.6h10.1v9.3h-10.1zM485.5 218.0h10.1v9.3h-10.1zM637.2 226.7h10.1v9.3h-10.1zM504.4 244.1h10.1v9.3h-10.1z"/>
<path fill="#a2fa52" d="M542.4 96.3h10.1v9.3h-10.1zM618.2 105.0h10.1v9.3h-10.1zM551.8 113.7h10.1v9.3h-10.1zM618.2 148.5h10.1v9.3h-10.1zM561.3 157.2h10.1v9.3h-10.1zM627.7 157.2h10.1v9.3h-10.1zM637.2 165.9h10.1v9.3h-10.1zM570.8 183.2h10.1v9.3h-10.1zM608.7 183.2h10.1v9.3h-10.1zM570.8 191.9h10.1v9.3h-10.1zM608.7 191.9h10.1v9.3h-10.1zM646.6 235.4h10.1v9.3h-10.1zM523.4 252.8h10.1v9.3h-10.1z"/>
<path fill="#ff6d00" d="M570.8 96.3h10.1v9.3h-10.1zM646.6 261.4h10.1v9.3h-10.1z"/>
<path fill="#84fa75" d="M504.4 105.0h10.1v9.3h-10.1zM627.7 113.7h10.1v9.3h-10.1zM618.2 122.4h10.1v9.3h-10.1zM627.7 131.1h10.1v9.3h-10.1zM485.5 157.2h10.1v9.3h-10.1zM561.3 174.6h10.1v9.3h-10.1zM627.7 174.6h19.6v9.3h-19.6zM561.3 209.3h10.1v9.3h-10.1zM665.6 209.3h10.1v9.3h-10.1zM485.5 226.7h10.1v9.3h-10.1zM627.7 226.7h10.1v9.3h-10.1zM551.8 235.4h10.1v9.3h-10.1zM542.4 244.1h10.1v9.3h-10.1z"/>
<path fill="#1afce2" d="M513.9 105.0h10.1v9.3h-10.1zM551.8 174.6h10.1v9.3h-10.1zM656.1 209.3h10.1v9.3h-10.1zM646.6 218.0h10.1v9.3h-10.1z"/>
<path fill="#00f9ff" d="M523.4 105.0h10.1v9.3h-10.1zM646.6 209.3h10.1v9.3h-10.1z"/>
<path fill="#05fef9" d="M532.9 105.0h10.1v9.3h-10.1zM495.0 226.7h10.1v9.3h-10.1z"/>
<path fill="#ffaa00" d="M589.8 105.0h10.1v9.3h-10.1zM656.1 113.7h10.1v9.3h-10.1zM570.8 122.4h10.1v9.3h-10.1zM485.5 252.8h10.1v9.3h-10.1z"/>
<path fill="#93fa64" d="M627.7 105.0h10.1v9.3h-10.1zM637.2 113.7h10.1v9.3h-10.1zM637.2 131.1h10.1v9.3h-10.1zM618.2 139.8h10.1v9.3h-10.1zM485.5 148.5h10.1v9.3h-10.1zM627.7 148.5h10.1v9.3h-10.1zM618.2 174.6h10.1v9.3h-10.1zM646.6 174.6h10.1v9.3h-10.1zM665.6 200.6h10.1v9.3h-10.1zM665.6 218.0h10.1v9.3h-10.1z"/>
<path fill="#a9fa49" d="M637.2 105.0h10.1v9.3h-10.1zM495.0 122.4h10.1v9.3h-10.1zM485.5 139.8h10.1v9.3h-10.1zM561.3 139.8h10.1v9.3h-10.1zM561.3 148.5h10.1v9.3h-10.1zM637.2 148.5h10.1v9.3h-10.1zM618.2 157.2h10.1v9.3h-10.1zM637.2 157.2h10.1v9.3h-10.1zM618.2 165.9h10.1v9.3h-10.1zM570.8 174.6h10.1v9.3h-10.1zM608.7 174.6h10.1v9.3h-10.1zM608.7 200.6h10.1v9.3h-10.1zM485.5 235.4h10.1v9.3h-10.1zM637.2 235.4h10.1v9.3h-10.1zM495.0 244.1h10.1v9.3h-10.1zM513.9 252.8h10.1v9.3h-10.1zM532.9 252.8h10.1v9.3h-10.1z"/>
<path fill="#ff1b00" d="M665.6 105.0h10.1v9.3h-10.1zM665.6 113.7h10.1v9.3h-10.1zM665.6 122.4h10.1v9.3h-10.1zM675.1 165.9h10.1v9.3h-10.1zM684.6 174.6h10.1v9.3h-10.1zM589.8 244.1h10.1v9.3h-10.1z"/>
<path fill="#37fac3" d="M504.4 113.7h10.1v9.3h-10.1zM551.8 148.5h10.1v9.3h-10.1zM637.2 183.2h10.1v9.3h-10.1zM656.1 218.0h10.1v9.3h-10.1z"/>
<path fill="#00caff" d="M513.9 113.7h10.1v9.3h-10.1zM542.4 157.2h10.1v9.3h-10.1z"/>
<path fill="#0080ff" d="M523.4 113.7h10.1v9.3h-10.1zM542.4 209.3h10.1v9.3h-10.1z"/>
<path fill="#0097ff" d="M532.9 113.7h10.1v9.3h-10.1zM495.0 165.9h10.1v9.3h-10.1zM542.4 174.6h10.1v9.3h-10.1z"/>
<path fill="#10fdee" d="M542.4 113.7h10.1v9.3h-10.1zM504.4 122.4h10.1v9.3h-10.1zM637.2 200.6h10.1v9.3h-10.1zM551.8 209.3h10.1v9.3h-10.1z"/>
<path fill="#8cfa6d" d="M618.2 113.7h10.1v9.3h-10.1zM637.2 122.4h10.1v9.3h-10.1zM618.2 131.1h10.1v9.3h-10.1zM627.7 139.8h10.1v9.3h-10.1zM618.2 218.0h10.1v9.3h-10.1z"/>
<path fill="#defc18" d="M646.6 113.7h10.1v9.3h-10.1zM561.3 122.4h10.1v9.3h-10.1zM485.5 131.1h10.1v9.3h-10.1zM599.2 131.1h10.1v9.3h-10.1zM570.8 148.5h10.1v9.3h-10.1zM476.0 165.9h10.1v9.3h-10.1zM675.1 209.3h10.1v9.3h-10.1zM608.7 218.0h10.1v9.3h-10.1zM476.0 226.7h10.1v9.3h-10.1zM561.3 235.4h10.1v9.3h-10.1zM665.6 235.4h10.1v9.3h-10.1zM646.6 244.1h10.1v9.3h-10.1z"/>
<path fill="#0088ff" d="M513.9 122.4h10.1v9.3h-10.1z"/>
<path fill="#003dff" d="M523.4 122.4h10.1v9.3h-10.1zM513.9 131.1h10.1v9.3h-10.1zM532.9 139.8h10.1v9.3h-10.1zM495.0 183.2h10.1v9.3h-10.1zM495.0 191.9h10.1v9.3h-10.1zM495.0 200.6h10.1v9.3h-10.1zM513.9 226.7h19.6v9.3h-19.6z"/>
<path fill="#0053ff" d="M532.9 122.4h10.1v9.3h-10.1z"/>
<path fill="#00e8ff" d="M542.4 122.4h10.1v9.3h-10.1zM542.4 139.8h10.1v9.3h-10.1zM495.0 148.5h10.1v9.3h-10.1zM504.4 235.4h10.1v9.3h-10.1z"/>
<path fill="#b4fa3c" d="M608.7 122.4h10.1v9.3h-10.1zM608.7 131.1h10.1v9.3h-10.1zM608.7 139.8h10.1v9.3h-10.1zM599.2 174.6h10.1v9.3h-10.1zM656.1 235.4h10.1v9.3h-10.1z"/>
<path fill="#64fa96" d="M495.0 131.1h10.1v9.3h-10.1zM618.2 191.9h10.1v9.3h-10.1zM561.3 200.6h10.1v9.3h-10.1z"/>
<path fill="#00dcff" d="M504.4 131.1h10.1v9.3h-10.1zM542.4 131.1h10.1v9.3h-10.1zM542.4 148.5h10.1v9.3h-10.1zM542.4 226.7h10.1v9.3h-10.1zM532.9 235.4h10.1v9.3h-10.1z"/>
<path fill="#001dff" d="M523.4 131.1h10.1v9.3h-10.1z"/>
<path fill="#0033ff" d="M532.9 131.1h10.1v9.3h-10.1zM504.4 157.2h10.1v9.3h-10.1z"/>
<path fill="#ff0000" d="M675.1 131.1h10.1v9.3h-10.1zM675.1 139.8h10.1v9.3h-10.1zM675.1 148.5h10.1v9.3h-10.1zM684.6 165.9h10.1v9.3h-10.1zM589.8 252.8h19.6v9.3h-19.6zM599.2 261.4h19.6v9.3h-19.6zM608.7 270.1h38.5v9.3h-38.5z"/>
<path fill="#0afef4" d="M495.0 139.8h10.1v9.3h-10.1zM551.8 183.2h10.1v9.3h-10.1zM551.8 191.9h10.1v9.3h-10.1zM551.8 200.6h10.1v9.3h-10.1zM646.6 200.6h10.1v9.3h-10.1z"/>
<path fill="#0071ff" d="M504.4 139.8h10.1v9.3h-10.1z"/>
<path fill="#0008ff" d="M513.9 139.8h19.6v9.3h-19.6zM532.9 165.9h10.1v9.3h-10.1zM504.4 174.6h10.1v9.3h-10.1zM532.9 174.6h10.1v9.3h-10.1zM532.9 209.3h10.1v9.3h-10.1z"/>
<path fill="#42fab8" d="M551.8 139.8h10.1v9.3h-10.1zM646.6 183.2h10.1v9.3h-10.1zM627.7 218.0h10.1v9.3h-10.1zM495.0 235.4h10.1v9.3h-10.1zM532.9 244.1h10.1v9.3h-10.1z"/>
<path fill="#9afa5b" d="M637.2 139.8h10.1v9.3h-10.1zM561.3 165.9h10.1v9.3h-10.1zM627.7 165.9h10.1v9.3h-10.1zM561.3 218.0h10.1v9.3h-10.1z"/>
<path fill="#005eff" d="M504.4 148.5h10.1v9.3h-10.1z"/>
<path fill="#0000fc" d="M513.9 148.5h19.6v9.3h-19.6zM532.9 183.2h10.1v9.3h-10.1zM532.9 191.9h10.1v9.3h-10.1zM532.9 200.6h10.1v9.3h-10.1zM504.4 209.3h10.1v9.3h-10.1z"/>
<path fill="#0028ff" d="M532.9 148.5h10.1v9.3h-10.1zM532.9 218.0h10.1v9.3h-10.1z"/>
<path fill="#00c4ff" d="M495.0 157.2h10.1v9.3h-10.1z"/>
<path fill="#0000f1" d="M513.9 157.2h19.6v9.3h-19.6zM504.4 183.2h10.1v9.3h-10.1zM504.4 191.9h10.1v9.3h-10.1zM504.4 200.6h10.1v9.3h-10.1zM513.9 218.0h19.6v9.3h-19.6z"/>
<path fill="#0012ff" d="M532.9 157.2h10.1v9.3h-10.1zM504.4 165.9h10.1v9.3h-10.1z"/>
<path fill="#2ffacb" d="M551.8 157.2h10.1v9.3h-10.1zM627.7 191.9h10.1v9.3h-10.1zM523.4 244.1h10.1v9.3h-10.1z"/>
<path fill="#ff0d00" d="M675.1 157.2h10.1v9.3h-10.1zM618.2 261.4h10.1v9.3h-10.1zM646.6 270.1h10.1v9.3h-10.1z"/>
<path fill="#f4000a" d="M684.6 157.2h10.1v9.3h-10.1z"/>
<path fill="#6ffa8b" d="M485.5 165.9h10.1v9.3h-10.1zM618.2 209.3h10.1v9.3h-10.1z"/>
<path fill="#0000e6" d="M513.9 165.9h19.6v9.3h-19.6zM513.9 174.6h19.6v9.3h-19.6zM513.9 183.2h19.6v9.3h-19.6zM513.9 191.9h19.6v9.3h-19.6zM513.9 200.6h19.6v9.3h-19.6zM513.9 209.3h19.6v9.3h-19.6z"/>
<path fill="#00b5ff" d="M542.4 165.9h10.1v9.3h-10.1zM495.0 218.0h10.1v9.3h-10.1zM513.9 235.4h19.6v9.3h-19.6z"/>
<path fill="#24fbd7" d="M551.8 165.9h10.1v9.3h-10.1zM646.6 191.9h10.1v9.3h-10.1zM627.7 200.6h10.1v9.3h-10.1zM656.1 200.6h10.1v9.3h-10.1zM551.8 218.0h10.1v9.3h-10.1zM637.2 218.0h10.1v9.3h-10.1z"/>
<path fill="#0079ff" d="M495.0 174.6h10.1v9.3h-10.1zM495.0 209.3h10.1v9.3h-10.1zM504.4 226.7h10.1v9.3h-10.1z"/>
<path fill="#2afbd1" d="M485.5 183.2h10.1v9.3h-10.1zM485.5 191.9h10.1v9.3h-10.1zM485.5 200.6h10.1v9.3h-10.1zM627.7 209.3h10.1v9.3h-10.1zM542.4 235.4h10.1v9.3h-10.1z"/>
<path fill="#006aff" d="M542.4 183.2h10.1v9.3h-10.1zM542.4 191.9h10.1v9.3h-10.1zM542.4 200.6h10.1v9.3h-10.1z"/>
<path fill="#47fab3" d="M627.7 183.2h10.1v9.3h-10.1zM551.8 226.7h10.1v9.3h-10.1z"/>
<path fill="#ff2800" d="M694.0 183.2h10.1v9.3h-10.1zM694.0 191.9h10.1v9.3h-10.1zM694.0 200.6h10.1v9.3h-10.1zM694.0 209.3h10.1v9.3h-10.1zM694.0 218.0h10.1v9.3h-10.1zM599.2 244.1h10.1v9.3h-10.1zM608.7 252.8h10.1v9.3h-10.1z"/>
<path fill="#c1fa2f" d="M580.3 191.9h10.1v9.3h-10.1z"/>
<path fill="#1ffcdd" d="M637.2 191.9h10.1v9.3h-10.1z"/>
<path fill="#b7fa39" d="M665.6 191.9h10.1v9.3h-10.1z"/>
<path fill="#b0fa40" d="M570.8 200.6h10.1v9.3h-10.1z"/>
<path fill="#e6fd12" d="M589.8 200.6h10.1v9.3h-10.1z"/>
<path fill="#ff9200" d="M684.6 200.6h10.1v9.3h-10.1z"/>
<path fill="#31fac9" d="M485.5 209.3h10.1v9.3h-10.1zM513.9 244.1h10.1v9.3h-10.1z"/>
<path fill="#0dfef1" d="M637.2 209.3h10.1v9.3h-10.1z"/>
<path fill="#0018ff" d="M504.4 218.0h10.1v9.3h-10.1z"/>
<path fill="#00a6ff" d="M542.4 218.0h10.1v9.3h-10.1z"/>
<path fill="#ffcd00" d="M580.3 218.0h10.1v9.3h-10.1zM646.6 252.8h10.1v9.3h-10.1z"/>
<path fill="#0063ff" d="M532.9 226.7h10.1v9.3h-10.1z"/>
<path fill="#ff5300" d="M599.2 235.4h10.1v9.3h-10.1zM608.7 244.1h10.1v9.3h-10.1zM675.1 252.8h10.1v9.3h-10.1z"/>
<path fill="#ff5b00" d="M684.6 235.4h10.1v9.3h-10.1zM618.2 252.8h10.1v9.3h-10.1zM637.2 261.4h10.1v9.3h-10.1zM504.4 270.1h10.1v9.3h-10.1z"/>
<path fill="#ffa100" d="M665.6 252.8h10.1v9.3h-10.1z"/>
</g>
<rect x="840.7" y="43.8" width="295.70" height="269.70" fill="#000000"/>
<g filter="url(#soft)" shape-rendering="crispEdges">
<path fill="#76aa32" d="M927.3 70.6h38.5v9.3h-38.5zM1022.1 70.6h38.5v9.3h-38.5zM917.8 79.3h152.3v9.3h-152.3zM908.4 87.9h171.2v9.3h-171.2zM908.4 96.6h171.2v9.3h-171.2zM898.9 105.3h190.2v9.3h-190.2zM898.9 114.0h190.2v9.3h-190.2zM898.9 122.7h190.2v9.3h-190.2zM889.4 131.4h209.2v9.3h-209.2zM889.4 140.1h209.2v9.3h-209.2zM889.4 148.8h209.2v9.3h-209.2zM879.9 157.5h228.1v9.3h-228.1zM879.9 166.2h228.1v9.3h-228.1zM879.9 174.8h161.8v9.3h-161.8zM1088.5 174.8h19.6v9.3h-19.6zM870.4 183.5h161.8v9.3h-161.8zM1098.0 183.5h19.6v9.3h-19.6zM870.4 192.2h152.3v9.3h-152.3zM1098.0 192.2h19.6v9.3h-19.6zM870.4 200.9h152.3v9.3h-152.3zM1098.0 200.9h19.6v9.3h-19.6zM870.4 209.6h142.8v9.3h-142.8zM1098.0 209.6h19.6v9.3h-19.6zM870.4 218.3h133.3v9.3h-133.3zM1098.0 218.3h19.6v9.3h-19.6zM879.9 227.0h123.8v9.3h-123.8zM1098.0 227.0h10.1v9.3h-10.1zM879.9 235.7h123.8v9.3h-123.8zM1098.0 235.7h10.1v9.3h-10.1zM889.4 244.4h114.4v9.3h-114.4zM889.4 253.1h95.4v9.3h-95.4zM908.4 261.8h67.0v9.3h-67.0zM917.8 270.4h48.0v9.3h-48.0z"/>
<path fill="#7bab31" d="M1041.1 174.8h10.1v9.3h-10.1zM1079.0 174.8h10.1v9.3h-10.1zM1031.6 183.5h10.1v9.3h-10.1zM1088.5 183.5h10.1v9.3h-10.1zM1022.1 192.2h10.1v9.3h-10.1zM1088.5 192.2h10.1v9.3h-10.1zM1088.5 200.9h10.1v9.3h-10.1zM1088.5 209.6h10.1v9.3h-10.1zM1003.2 218.3h10.1v9.3h-10.1zM1088.5 218.3h10.1v9.3h-10.1zM1088.5 227.0h10.1v9.3h-10.1zM1088.5 235.7h10.1v9.3h-10.1zM1088.5 244.4h10.1v9.3h-10.1zM1088.5 253.1h10.1v9.3h-10.1z"/>
<path fill="#8daf2d" d="M1050.6 174.8h29.0v9.3h-29.0zM1041.1 183.5h10.1v9.3h-10.1zM1031.6 192.2h10.1v9.3h-10.1zM1079.0 192.2h10.1v9.3h-10.1zM1079.0 200.9h10.1v9.3h-10.1zM1003.2 244.4h10.1v9.3h-10.1zM1069.5 253.1h10.1v9.3h-10.1z"/>
<path fill="#98b329" d="M1050.6 183.5h10.1v9.3h-10.1zM1069.5 183.5h10.1v9.3h-10.1zM1041.1 192.2h10.1v9.3h-10.1zM1069.5 192.2h10.1v9.3h-10.1zM1069.5 200.9h10.1v9.3h-10.1zM1012.6 218.3h10.1v9.3h-10.1zM1060.0 253.1h10.1v9.3h-10.1z"/>
<path fill="#9db527" d="M1060.0 183.5h10.1v9.3h-10.1zM1022.1 209.6h10.1v9.3h-10.1zM1060.0 218.3h10.1v9.3h-10.1zM1012.6 227.0h10.1v9.3h-10.1zM1060.0 227.0h10.1v9.3h-10.1zM1060.0 235.7h10.1v9.3h-10.1zM1060.0 244.4h10.1v9.3h-10.1z"/>
<path fill="#92b12b" d="M1079.0 183.5h10.1v9.3h-10.1zM1031.6 200.9h10.1v9.3h-10.1zM1069.5 209.6h10.1v9.3h-10.1zM1069.5 218.3h10.1v9.3h-10.1zM1069.5 227.0h10.1v9.3h-10.1zM1069.5 235.7h10.1v9.3h-10.1zM1069.5 244.4h10.1v9.3h-10.1zM1003.2 253.1h10.1v9.3h-10.1zM1060.0 261.8h10.1v9.3h-10.1zM1060.0 270.4h10.1v9.3h-10.1z"/>
<path fill="#a3b824" d="M1050.6 192.2h19.6v9.3h-19.6zM1041.1 200.9h10.1v9.3h-10.1zM1060.0 200.9h10.1v9.3h-10.1zM1031.6 209.6h10.1v9.3h-10.1zM1060.0 209.6h10.1v9.3h-10.1z"/>
<path fill="#7eac30" d="M1022.1 200.9h10.1v9.3h-10.1zM1003.2 227.0h10.1v9.3h-10.1z"/>
<path fill="#a8ba22" d="M1050.6 200.9h10.1v9.3h-10.1zM1041.1 209.6h19.6v9.3h-19.6zM1050.6 218.3h10.1v9.3h-10.1zM1050.6 227.0h10.1v9.3h-10.1zM1012.6 235.7h10.1v9.3h-10.1zM1050.6 235.7h10.1v9.3h-10.1zM1050.6 244.4h10.1v9.3h-10.1zM1050.6 253.1h10.1v9.3h-10.1zM1050.6 261.8h10.1v9.3h-10.1zM1050.6 270.4h10.1v9.3h-10.1z"/>
<path fill="#81ac30" d="M1012.6 209.6h10.1v9.3h-10.1zM1079.0 209.6h10.1v9.3h-10.1zM1079.0 218.3h10.1v9.3h-10.1zM1079.0 227.0h10.1v9.3h-10.1zM1003.2 235.7h10.1v9.3h-10.1zM1079.0 235.7h10.1v9.3h-10.1zM1079.0 244.4h10.1v9.3h-10.1zM1079.0 253.1h10.1v9.3h-10.1zM1069.5 261.8h10.1v9.3h-10.1z"/>
<path fill="#aebc20" d="M1022.1 218.3h10.1v9.3h-10.1zM1041.1 218.3h10.1v9.3h-10.1z"/>
<path fill="#b3be1e" d="M1031.6 218.3h10.1v9.3h-10.1zM1041.1 227.0h10.1v9.3h-10.1zM1041.1 235.7h10.1v9.3h-10.1zM1012.6 244.4h10.1v9.3h-10.1zM1041.1 244.4h10.1v9.3h-10.1zM1041.1 253.1h10.1v9.3h-10.1zM1041.1 261.8h10.1v9.3h-10.1z"/>
<path fill="#b9c01c" d="M1022.1 227.0h19.6v9.3h-19.6z"/>
<path fill="#c5c418" d="M1022.1 235.7h10.1v9.3h-10.1zM1031.6 244.4h10.1v9.3h-10.1z"/>
<path fill="#bfc21a" d="M1031.6 235.7h10.1v9.3h-10.1zM1012.6 253.1h10.1v9.3h-10.1zM1041.1 270.4h10.1v9.3h-10.1z"/>
<path fill="#d6c913" d="M1022.1 244.4h10.1v9.3h-10.1zM1031.6 261.8h10.1v9.3h-10.1z"/>
<path fill="#e2cd0f" d="M1022.1 253.1h10.1v9.3h-10.1z"/>
<path fill="#cac616" d="M1031.6 253.1h10.1v9.3h-10.1zM1012.6 261.8h10.1v9.3h-10.1z"/>
<path fill="#f8d50b" d="M1022.1 261.8h10.1v9.3h-10.1z"/>
<path fill="#ffc80a" d="M1022.1 270.4h10.1v9.3h-10.1z"/>
<path fill="#edd10d" d="M1031.6 270.4h10.1v9.3h-10.1z"/>
</g>
<rect x="1264.2" y="44.0" width="296.30" height="269.60" fill="#240004"/>
<g filter="url(#soft)" shape-rendering="crispEdges">
<path fill="#c68984" d="M1350.4 70.3h10.1v9.3h-10.1zM1378.9 70.3h10.1v9.3h-10.1zM1445.2 70.3h10.1v9.3h-10.1zM1473.7 70.3h10.1v9.3h-10.1zM1483.1 79.0h10.1v9.3h-10.1zM1397.8 96.3h10.1v9.3h-10.1zM1426.3 105.0h10.1v9.3h-10.1zM1492.6 105.0h10.1v9.3h-10.1zM1426.3 113.7h10.1v9.3h-10.1zM1492.6 113.7h10.1v9.3h-10.1zM1492.6 122.4h10.1v9.3h-10.1zM1312.5 131.1h10.1v9.3h-10.1zM1407.3 131.1h10.1v9.3h-10.1zM1303.0 157.2h10.1v9.3h-10.1zM1502.1 165.9h10.1v9.3h-10.1zM1293.5 183.2h10.1v9.3h-10.1zM1293.5 191.9h10.1v9.3h-10.1zM1293.5 200.6h10.1v9.3h-10.1zM1293.5 209.3h10.1v9.3h-10.1zM1426.3 218.0h10.1v9.3h-10.1zM1416.8 226.7h10.1v9.3h-10.1zM1521.1 226.7h10.1v9.3h-10.1zM1407.3 244.1h10.1v9.3h-10.1zM1397.8 252.8h10.1v9.3h-10.1zM1388.3 261.4h10.1v9.3h-10.1zM1483.1 261.4h19.6v9.3h-19.6z"/>
<path fill="#c99489" d="M1359.9 70.3h19.6v9.3h-19.6zM1454.7 70.3h19.6v9.3h-19.6zM1397.8 113.7h10.1v9.3h-10.1zM1312.5 139.8h10.1v9.3h-10.1zM1416.8 139.8h10.1v9.3h-10.1zM1492.6 139.8h10.1v9.3h-10.1zM1303.0 165.9h10.1v9.3h-10.1zM1521.1 200.6h10.1v9.3h-10.1zM1416.8 218.0h10.1v9.3h-10.1zM1435.7 218.0h10.1v9.3h-10.1zM1521.1 218.0h10.1v9.3h-10.1z"/>
<path fill="#c78d85" d="M1340.9 79.0h10.1v9.3h-10.1zM1331.5 87.7h10.1v9.3h-10.1zM1322.0 105.0h10.1v9.3h-10.1zM1426.3 122.4h10.1v9.3h-10.1z"/>
<path fill="#d0aa93" d="M1350.4 79.0h10.1v9.3h-10.1zM1378.9 79.0h10.1v9.3h-10.1zM1331.5 96.3h10.1v9.3h-10.1zM1435.7 96.3h10.1v9.3h-10.1zM1483.1 96.3h10.1v9.3h-10.1zM1407.3 148.5h10.1v9.3h-10.1zM1492.6 165.9h10.1v9.3h-10.1zM1445.2 218.0h10.1v9.3h-10.1zM1312.5 244.1h10.1v9.3h-10.1zM1502.1 244.1h10.1v9.3h-10.1zM1340.9 261.4h10.1v9.3h-10.1z"/>
<path fill="#d4b699" d="M1359.9 79.0h19.6v9.3h-19.6zM1340.9 87.7h10.1v9.3h-10.1zM1483.1 139.8h10.1v9.3h-10.1zM1426.3 157.2h10.1v9.3h-10.1zM1426.3 191.9h10.1v9.3h-10.1zM1511.6 200.6h10.1v9.3h-10.1zM1511.6 218.0h10.1v9.3h-10.1zM1454.7 226.7h10.1v9.3h-10.1zM1397.8 235.4h10.1v9.3h-10.1zM1492.6 244.1h10.1v9.3h-10.1z"/>
<path fill="#c89087" d="M1388.3 79.0h10.1v9.3h-10.1zM1397.8 105.0h10.1v9.3h-10.1zM1492.6 131.1h10.1v9.3h-10.1zM1521.1 183.2h10.1v9.3h-10.1zM1521.1 191.9h10.1v9.3h-10.1zM1511.6 244.1h10.1v9.3h-10.1zM1312.5 252.8h10.1v9.3h-10.1zM1350.4 270.1h29.0v9.3h-29.0z"/>
<path fill="#c17f7f" d="M1397.8 79.0h10.1v9.3h-10.1zM1407.3 113.7h10.1v9.3h-10.1zM1416.8 122.4h10.1v9.3h-10.1zM1530.5 218.0h10.1v9.3h-10.1z"/>
<path fill="#bf7d7d" d="M1407.3 79.0h29.0v9.3h-29.0zM1492.6 87.7h10.1v9.3h-10.1zM1407.3 96.3h10.1v9.3h-10.1zM1416.8 105.0h10.1v9.3h-10.1zM1416.8 113.7h10.1v9.3h-10.1zM1511.6 174.6h10.1v9.3h-10.1zM1426.3 226.7h10.1v9.3h-10.1zM1416.8 235.4h10.1v9.3h-10.1zM1473.7 261.4h10.1v9.3h-10.1z"/>
<path fill="#c48582" d="M1435.7 79.0h10.1v9.3h-10.1zM1397.8 87.7h10.1v9.3h-10.1zM1426.3 96.3h10.1v9.3h-10.1zM1492.6 96.3h10.1v9.3h-10.1zM1416.8 131.1h10.1v9.3h-10.1zM1293.5 218.0h10.1v9.3h-10.1zM1511.6 252.8h10.1v9.3h-10.1zM1340.9 270.1h10.1v9.3h-10.1zM1378.9 270.1h10.1v9.3h-10.1z"/>
<path fill="#cea490" d="M1445.2 79.0h10.1v9.3h-10.1zM1473.7 79.0h10.1v9.3h-10.1zM1322.0 122.4h10.1v9.3h-10.1zM1397.8 131.1h10.1v9.3h-10.1zM1426.3 139.8h10.1v9.3h-10.1zM1416.8 148.5h10.1v9.3h-10.1zM1416.8 209.3h10.1v9.3h-10.1zM1435.7 209.3h10.1v9.3h-10.1zM1407.3 226.7h10.1v9.3h-10.1zM1388.3 252.8h10.1v9.3h-10.1z"/>
<path fill="#d2b096" d="M1454.7 79.0h19.6v9.3h-19.6zM1388.3 105.0h10.1v9.3h-10.1zM1435.7 105.0h10.1v9.3h-10.1zM1483.1 105.0h10.1v9.3h-10.1zM1435.7 113.7h10.1v9.3h-10.1zM1483.1 113.7h10.1v9.3h-10.1zM1483.1 122.4h10.1v9.3h-10.1zM1322.0 131.1h10.1v9.3h-10.1zM1397.8 139.8h10.1v9.3h-10.1zM1426.3 148.5h10.1v9.3h-10.1zM1416.8 157.2h10.1v9.3h-10.1zM1303.0 183.2h10.1v9.3h-10.1zM1511.6 183.2h10.1v9.3h-10.1zM1426.3 200.6h10.1v9.3h-10.1zM1407.3 218.0h10.1v9.3h-10.1zM1303.0 226.7h10.1v9.3h-10.1zM1473.7 244.1h10.1v9.3h-10.1zM1322.0 252.8h10.1v9.3h-10.1zM1350.4 261.4h19.6v9.3h-19.6z"/>
<path fill="#dfd2a8" d="M1350.4 87.7h10.1v9.3h-10.1zM1454.7 87.7h19.6v9.3h-19.6zM1340.9 96.3h10.1v9.3h-10.1zM1445.2 96.3h10.1v9.3h-10.1zM1473.7 96.3h10.1v9.3h-10.1zM1331.5 113.7h10.1v9.3h-10.1zM1388.3 139.8h10.1v9.3h-10.1zM1445.2 165.9h10.1v9.3h-10.1zM1445.2 174.6h10.1v9.3h-10.1zM1502.1 183.2h10.1v9.3h-10.1zM1454.7 209.3h10.1v9.3h-10.1zM1397.8 218.0h10.1v9.3h-10.1zM1322.0 244.1h10.1v9.3h-10.1z"/>
<path fill="#e3dbad" d="M1359.9 87.7h10.1v9.3h-10.1zM1388.3 157.2h10.1v9.3h-10.1zM1454.7 157.2h10.1v9.3h-10.1zM1397.8 191.9h10.1v9.3h-10.1zM1397.8 200.6h10.1v9.3h-10.1zM1464.2 218.0h10.1v9.3h-10.1zM1473.7 226.7h10.1v9.3h-10.1zM1492.6 226.7h10.1v9.3h-10.1z"/>
<path fill="#e1d7aa" d="M1369.4 87.7h10.1v9.3h-10.1zM1388.3 148.5h10.1v9.3h-10.1zM1322.0 157.2h10.1v9.3h-10.1zM1454.7 191.9h10.1v9.3h-10.1zM1502.1 191.9h10.1v9.3h-10.1zM1454.7 200.6h10.1v9.3h-10.1z"/>
<path fill="#dac6a1" d="M1378.9 87.7h10.1v9.3h-10.1zM1435.7 148.5h10.1v9.3h-10.1zM1435.7 157.2h10.1v9.3h-10.1zM1397.8 165.9h10.1v9.3h-10.1zM1435.7 165.9h10.1v9.3h-10.1zM1483.1 165.9h10.1v9.3h-10.1zM1312.5 174.6h10.1v9.3h-10.1zM1435.7 174.6h10.1v9.3h-10.1zM1407.3 183.2h10.1v9.3h-10.1zM1407.3 200.6h10.1v9.3h-10.1zM1445.2 200.6h10.1v9.3h-10.1zM1454.7 218.0h10.1v9.3h-10.1zM1397.8 226.7h10.1v9.3h-10.1z"/>
<path fill="#cda18f" d="M1388.3 87.7h10.1v9.3h-10.1zM1492.6 157.2h10.1v9.3h-10.1zM1511.6 235.4h10.1v9.3h-10.1zM1397.8 244.1h10.1v9.3h-10.1zM1483.1 252.8h19.6v9.3h-19.6zM1378.9 261.4h10.1v9.3h-10.1z"/>
<path fill="#bd7c7c" d="M1407.3 87.7h10.1v9.3h-10.1z"/>
<path fill="#bc7b7b" d="M1416.8 87.7h10.1v9.3h-10.1zM1416.8 96.3h10.1v9.3h-10.1zM1502.1 139.8h10.1v9.3h-10.1zM1464.2 252.8h10.1v9.3h-10.1zM1483.1 270.1h10.1v9.3h-10.1z"/>
<path fill="#c38180" d="M1426.3 87.7h10.1v9.3h-10.1zM1407.3 122.4h10.1v9.3h-10.1zM1502.1 157.2h10.1v9.3h-10.1zM1530.5 183.2h10.1v9.3h-10.1zM1530.5 191.9h10.1v9.3h-10.1zM1530.5 200.6h10.1v9.3h-10.1zM1530.5 209.3h10.1v9.3h-10.1zM1435.7 226.7h10.1v9.3h-10.1zM1445.2 235.4h10.1v9.3h-10.1zM1521.1 235.4h10.1v9.3h-10.1zM1454.7 244.1h10.1v9.3h-10.1z"/>
<path fill="#cb9a8c" d="M1435.7 87.7h10.1v9.3h-10.1zM1483.1 87.7h10.1v9.3h-10.1zM1322.0 113.7h10.1v9.3h-10.1zM1397.8 122.4h10.1v9.3h-10.1zM1407.3 139.8h10.1v9.3h-10.1zM1492.6 148.5h10.1v9.3h-10.1zM1303.0 174.6h10.1v9.3h-10.1zM1502.1 174.6h10.1v9.3h-10.1zM1426.3 209.3h10.1v9.3h-10.1zM1303.0 235.4h10.1v9.3h-10.1zM1331.5 261.4h10.1v9.3h-10.1z"/>
<path fill="#d9c3a0" d="M1445.2 87.7h10.1v9.3h-10.1zM1473.7 87.7h10.1v9.3h-10.1zM1331.5 105.0h10.1v9.3h-10.1z"/>
<path fill="#e8e6b3" d="M1350.4 96.3h10.1v9.3h-10.1z"/>
<path fill="#eaeaba" d="M1359.9 96.3h10.1v9.3h-10.1zM1473.7 191.9h10.1v9.3h-10.1z"/>
<path fill="#e9e9b6" d="M1369.4 96.3h10.1v9.3h-10.1zM1340.9 113.7h10.1v9.3h-10.1zM1378.9 122.4h10.1v9.3h-10.1zM1331.5 139.8h10.1v9.3h-10.1z"/>
<path fill="#e0d4a9" d="M1378.9 96.3h10.1v9.3h-10.1zM1502.1 218.0h10.1v9.3h-10.1z"/>
<path fill="#cfa792" d="M1388.3 96.3h10.1v9.3h-10.1z"/>
<path fill="#e7e4b2" d="M1454.7 96.3h19.6v9.3h-19.6zM1322.0 165.9h10.1v9.3h-10.1zM1492.6 183.2h10.1v9.3h-10.1zM1464.2 200.6h10.1v9.3h-10.1zM1464.2 209.3h10.1v9.3h-10.1zM1312.5 218.0h10.1v9.3h-10.1z"/>
<path fill="#e6e3b1" d="M1340.9 105.0h10.1v9.3h-10.1z"/>
<path fill="#ececc0" d="M1350.4 105.0h10.1v9.3h-10.1z"/>
<path fill="#eeeec7" d="M1359.9 105.0h10.1v9.3h-10.1z"/>
<path fill="#ededc3" d="M1369.4 105.0h10.1v9.3h-10.1z"/>
<path fill="#e5e0b0" d="M1378.9 105.0h10.1v9.3h-10.1z"/>
<path fill="#c07e7e" d="M1407.3 105.0h10.1v9.3h-10.1zM1502.1 148.5h10.1v9.3h-10.1z"/>
<path fill="#e2d9ac" d="M1445.2 105.0h10.1v9.3h-10.1zM1473.7 105.0h10.1v9.3h-10.1zM1445.2 113.7h10.1v9.3h-10.1zM1473.7 113.7h10.1v9.3h-10.1zM1331.5 122.4h10.1v9.3h-10.1zM1445.2 122.4h10.1v9.3h-10.1zM1473.7 122.4h10.1v9.3h-10.1zM1445.2 131.1h10.1v9.3h-10.1zM1473.7 131.1h10.1v9.3h-10.1zM1454.7 165.9h10.1v9.3h-10.1zM1473.7 165.9h10.1v9.3h-10.1zM1454.7 174.6h10.1v9.3h-10.1zM1397.8 183.2h10.1v9.3h-10.1zM1502.1 200.6h10.1v9.3h-10.1zM1397.8 209.3h10.1v9.3h-10.1zM1502.1 209.3h10.1v9.3h-10.1zM1378.9 244.1h10.1v9.3h-10.1z"/>
<path fill="#ebebbb" d="M1454.7 105.0h10.1v9.3h-10.1zM1454.7 113.7h10.1v9.3h-10.1zM1454.7 122.4h10.1v9.3h-10.1zM1322.0 174.6h10.1v9.3h-10.1zM1492.6 200.6h10.1v9.3h-10.1zM1492.6 209.3h10.1v9.3h-10.1zM1483.1 218.0h10.1v9.3h-10.1zM1322.0 235.4h10.1v9.3h-10.1z"/>
<path fill="#ebebbd" d="M1464.2 105.0h10.1v9.3h-10.1zM1464.2 113.7h10.1v9.3h-10.1zM1464.2 122.4h10.1v9.3h-10.1z"/>
<path fill="#b77878" d="M1502.1 105.0h10.1v9.3h-10.1zM1502.1 113.7h10.1v9.3h-10.1zM1502.1 122.4h10.1v9.3h-10.1zM1511.6 165.9h10.1v9.3h-10.1zM1416.8 244.1h10.1v9.3h-10.1z"/>
<path fill="#eeeec9" d="M1350.4 113.7h10.1v9.3h-10.1z"/>
<path fill="#f0f0ce" d="M1359.9 113.7h10.1v9.3h-10.1z"/>
<path fill="#efefcb" d="M1369.4 113.7h10.1v9.3h-10.1zM1378.9 139.8h10.1v9.3h-10.1z"/>
<path fill="#e7e5b2" d="M1378.9 113.7h10.1v9.3h-10.1z"/>
<path fill="#d5b89a" d="M1388.3 113.7h10.1v9.3h-10.1zM1435.7 131.1h10.1v9.3h-10.1zM1397.8 148.5h10.1v9.3h-10.1zM1483.1 148.5h10.1v9.3h-10.1zM1312.5 165.9h10.1v9.3h-10.1zM1426.3 165.9h10.1v9.3h-10.1zM1492.6 174.6h10.1v9.3h-10.1zM1303.0 191.9h10.1v9.3h-10.1zM1416.8 200.6h10.1v9.3h-10.1zM1435.7 200.6h10.1v9.3h-10.1zM1511.6 209.3h10.1v9.3h-10.1zM1303.0 218.0h10.1v9.3h-10.1zM1464.2 235.4h10.1v9.3h-10.1zM1483.1 244.1h10.1v9.3h-10.1z"/>
<path fill="#ececc2" d="M1340.9 122.4h10.1v9.3h-10.1zM1388.3 183.2h10.1v9.3h-10.1z"/>
<path fill="#f1f1d4" d="M1350.4 122.4h10.1v9.3h-10.1zM1369.4 122.4h10.1v9.3h-10.1z"/>
<path fill="#f2f2d7" d="M1359.9 122.4h10.1v9.3h-10.1z"/>
<path fill="#d8c09f" d="M1388.3 122.4h10.1v9.3h-10.1zM1435.7 139.8h10.1v9.3h-10.1zM1397.8 157.2h10.1v9.3h-10.1zM1483.1 157.2h10.1v9.3h-10.1zM1435.7 183.2h10.1v9.3h-10.1zM1388.3 244.1h10.1v9.3h-10.1z"/>
<path fill="#d3b398" d="M1435.7 122.4h10.1v9.3h-10.1zM1483.1 131.1h10.1v9.3h-10.1zM1407.3 157.2h10.1v9.3h-10.1zM1511.6 191.9h10.1v9.3h-10.1z"/>
<path fill="#e6e2b1" d="M1331.5 131.1h10.1v9.3h-10.1zM1464.2 191.9h10.1v9.3h-10.1z"/>
<path fill="#efefcd" d="M1340.9 131.1h10.1v9.3h-10.1z"/>
<path fill="#f4f4dd" d="M1350.4 131.1h10.1v9.3h-10.1z"/>
<path fill="#f6f6e3" d="M1359.9 131.1h10.1v9.3h-10.1z"/>
<path fill="#f4f4dc" d="M1369.4 131.1h10.1v9.3h-10.1z"/>
<path fill="#ececbf" d="M1378.9 131.1h10.1v9.3h-10.1zM1483.1 191.9h10.1v9.3h-10.1zM1473.7 200.6h10.1v9.3h-10.1zM1473.7 209.3h10.1v9.3h-10.1zM1388.3 218.0h10.1v9.3h-10.1z"/>
<path fill="#dccba4" d="M1388.3 131.1h10.1v9.3h-10.1zM1445.2 183.2h10.1v9.3h-10.1zM1445.2 191.9h10.1v9.3h-10.1zM1502.1 226.7h10.1v9.3h-10.1zM1492.6 235.4h10.1v9.3h-10.1zM1331.5 252.8h10.1v9.3h-10.1z"/>
<path fill="#ca978a" d="M1426.3 131.1h10.1v9.3h-10.1zM1521.1 209.3h10.1v9.3h-10.1zM1445.2 226.7h10.1v9.3h-10.1zM1407.3 235.4h10.1v9.3h-10.1zM1473.7 252.8h10.1v9.3h-10.1zM1502.1 252.8h10.1v9.3h-10.1z"/>
<path fill="#eaeab8" d="M1454.7 131.1h19.6v9.3h-19.6zM1483.1 183.2h10.1v9.3h-10.1zM1369.4 244.1h10.1v9.3h-10.1z"/>
<path fill="#b97979" d="M1502.1 131.1h10.1v9.3h-10.1z"/>
<path fill="#ab7070" d="M1511.6 131.1h10.1v9.3h-10.1z"/>
<path fill="#d7be9d" d="M1322.0 139.8h10.1v9.3h-10.1zM1416.8 183.2h10.1v9.3h-10.1zM1416.8 191.9h10.1v9.3h-10.1zM1435.7 191.9h10.1v9.3h-10.1zM1303.0 200.6h10.1v9.3h-10.1zM1303.0 209.3h10.1v9.3h-10.1zM1378.9 252.8h10.1v9.3h-10.1z"/>
<path fill="#f3f3da" d="M1340.9 139.8h10.1v9.3h-10.1z"/>
<path fill="#f8f8e9" d="M1350.4 139.8h10.1v9.3h-10.1zM1340.9 148.5h10.1v9.3h-10.1z"/>
<path fill="#f9f9ee" d="M1359.9 139.8h10.1v9.3h-10.1z"/>
<path fill="#f7f7e7" d="M1369.4 139.8h10.1v9.3h-10.1zM1378.9 174.6h10.1v9.3h-10.1zM1378.9 200.6h10.1v9.3h-10.1zM1378.9 209.3h10.1v9.3h-10.1z"/>
<path fill="#e2d8ab" d="M1445.2 139.8h10.1v9.3h-10.1zM1473.7 139.8h10.1v9.3h-10.1zM1388.3 235.4h10.1v9.3h-10.1z"/>
<path fill="#e8e7b3" d="M1454.7 139.8h19.6v9.3h-19.6zM1388.3 174.6h10.1v9.3h-10.1zM1312.5 191.9h10.1v9.3h-10.1zM1492.6 218.0h10.1v9.3h-10.1z"/>
<path fill="#ae7272" d="M1511.6 139.8h10.1v9.3h-10.1zM1521.1 174.6h10.1v9.3h-10.1z"/>
<path fill="#cc9e8d" d="M1312.5 148.5h10.1v9.3h-10.1zM1454.7 235.4h10.1v9.3h-10.1zM1464.2 244.1h10.1v9.3h-10.1z"/>
<path fill="#ddcda5" d="M1322.0 148.5h10.1v9.3h-10.1zM1397.8 174.6h10.1v9.3h-10.1zM1464.2 226.7h10.1v9.3h-10.1zM1312.5 235.4h10.1v9.3h-10.1z"/>
<path fill="#eeeec8" d="M1331.5 148.5h10.1v9.3h-10.1z"/>
<path fill="#fcfcf7" d="M1350.4 148.5h19.6v9.3h-19.6zM1340.9 165.9h10.1v9.3h-10.1zM1331.5 183.2h10.1v9.3h-10.1zM1331.5 218.0h10.1v9.3h-10.1zM1369.4 218.0h10.1v9.3h-10.1zM1340.9 226.7h29.0v9.3h-29.0z"/>
<path fill="#fbfbf2" d="M1369.4 148.5h10.1v9.3h-10.1z"/>
<path fill="#f2f2d6" d="M1378.9 148.5h10.1v9.3h-10.1z"/>
<path fill="#e1d6aa" d="M1445.2 148.5h10.1v9.3h-10.1zM1473.7 148.5h10.1v9.3h-10.1zM1473.7 157.2h10.1v9.3h-10.1zM1454.7 183.2h10.1v9.3h-10.1z"/>
<path fill="#e5e0af" d="M1454.7 148.5h19.6v9.3h-19.6zM1388.3 165.9h10.1v9.3h-10.1zM1464.2 174.6h10.1v9.3h-10.1zM1464.2 183.2h10.1v9.3h-10.1zM1483.1 226.7h10.1v9.3h-10.1z"/>
<path fill="#b17474" d="M1511.6 148.5h10.1v9.3h-10.1zM1426.3 235.4h10.1v9.3h-10.1zM1445.2 244.1h10.1v9.3h-10.1zM1473.7 270.1h10.1v9.3h-10.1z"/>
<path fill="#d1ad95" d="M1312.5 157.2h10.1v9.3h-10.1zM1511.6 226.7h10.1v9.3h-10.1z"/>
<path fill="#f3f3d8" d="M1331.5 157.2h10.1v9.3h-10.1zM1378.9 226.7h10.1v9.3h-10.1zM1331.5 235.4h10.1v9.3h-10.1z"/>
<path fill="#fbfbf3" d="M1340.9 157.2h10.1v9.3h-10.1z"/>
<path fill="#ffffff" d="M1350.4 157.2h19.6v9.3h-19.6zM1350.4 165.9h19.6v9.3h-19.6zM1350.4 174.6h19.6v9.3h-19.6zM1340.9 183.2h29.0v9.3h-29.0zM1340.9 191.9h38.5v9.3h-38.5zM1331.5 200.6h48.0v9.3h-48.0zM1340.9 209.3h29.0v9.3h-29.0zM1340.9 218.0h29.0v9.3h-29.0z"/>
<path fill="#fefefb" d="M1369.4 157.2h10.1v9.3h-10.1z"/>
<path fill="#f5f5e1" d="M1378.9 157.2h10.1v9.3h-10.1zM1331.5 165.9h10.1v9.3h-10.1zM1378.9 218.0h10.1v9.3h-10.1zM1340.9 235.4h29.0v9.3h-29.0z"/>
<path fill="#e0d3a9" d="M1445.2 157.2h10.1v9.3h-10.1zM1340.9 252.8h29.0v9.3h-29.0z"/>
<path fill="#e4deae" d="M1464.2 157.2h10.1v9.3h-10.1zM1464.2 165.9h10.1v9.3h-10.1zM1473.7 174.6h10.1v9.3h-10.1zM1312.5 183.2h10.1v9.3h-10.1zM1312.5 226.7h10.1v9.3h-10.1z"/>
<path fill="#b47676" d="M1511.6 157.2h10.1v9.3h-10.1zM1435.7 235.4h10.1v9.3h-10.1z"/>
<path fill="#a56c6c" d="M1521.1 157.2h10.1v9.3h-10.1zM1426.3 244.1h19.6v9.3h-19.6z"/>
<path fill="#fefefc" d="M1369.4 165.9h10.1v9.3h-10.1zM1369.4 174.6h10.1v9.3h-10.1zM1369.4 183.2h10.1v9.3h-10.1zM1331.5 191.9h10.1v9.3h-10.1zM1331.5 209.3h10.1v9.3h-10.1zM1369.4 209.3h10.1v9.3h-10.1z"/>
<path fill="#f6f6e4" d="M1378.9 165.9h10.1v9.3h-10.1z"/>
<path fill="#d6bb9c" d="M1407.3 165.9h10.1v9.3h-10.1zM1416.8 174.6h19.6v9.3h-19.6zM1407.3 209.3h10.1v9.3h-10.1zM1445.2 209.3h10.1v9.3h-10.1zM1502.1 235.4h10.1v9.3h-10.1z"/>
<path fill="#d5b79a" d="M1416.8 165.9h10.1v9.3h-10.1z"/>
<path fill="#a86e6e" d="M1521.1 165.9h10.1v9.3h-10.1zM1454.7 252.8h10.1v9.3h-10.1zM1464.2 261.4h10.1v9.3h-10.1z"/>
<path fill="#f8f8ea" d="M1331.5 174.6h10.1v9.3h-10.1zM1378.9 183.2h10.1v9.3h-10.1zM1378.9 191.9h10.1v9.3h-10.1z"/>
<path fill="#fdfdfa" d="M1340.9 174.6h10.1v9.3h-10.1z"/>
<path fill="#d8bf9e" d="M1407.3 174.6h10.1v9.3h-10.1z"/>
<path fill="#ded0a7" d="M1483.1 174.6h10.1v9.3h-10.1zM1483.1 235.4h10.1v9.3h-10.1zM1369.4 252.8h10.1v9.3h-10.1z"/>
<path fill="#f2f2d5" d="M1322.0 183.2h10.1v9.3h-10.1zM1322.0 226.7h10.1v9.3h-10.1z"/>
<path fill="#d6ba9b" d="M1426.3 183.2h10.1v9.3h-10.1z"/>
<path fill="#e9e9b4" d="M1473.7 183.2h10.1v9.3h-10.1zM1492.6 191.9h10.1v9.3h-10.1zM1312.5 200.6h10.1v9.3h-10.1zM1312.5 209.3h10.1v9.3h-10.1zM1473.7 218.0h10.1v9.3h-10.1zM1388.3 226.7h10.1v9.3h-10.1zM1331.5 244.1h10.1v9.3h-10.1z"/>
<path fill="#f5f5de" d="M1322.0 191.9h10.1v9.3h-10.1zM1322.0 200.6h10.1v9.3h-10.1zM1322.0 209.3h10.1v9.3h-10.1z"/>
<path fill="#ededc6" d="M1388.3 191.9h10.1v9.3h-10.1zM1388.3 200.6h10.1v9.3h-10.1zM1483.1 200.6h10.1v9.3h-10.1zM1388.3 209.3h10.1v9.3h-10.1zM1483.1 209.3h10.1v9.3h-10.1zM1378.9 235.4h10.1v9.3h-10.1z"/>
<path fill="#dbc8a3" d="M1407.3 191.9h10.1v9.3h-10.1zM1473.7 235.4h10.1v9.3h-10.1z"/>
<path fill="#f4f4db" d="M1322.0 218.0h10.1v9.3h-10.1zM1369.4 235.4h10.1v9.3h-10.1z"/>
<path fill="#fafaef" d="M1331.5 226.7h10.1v9.3h-10.1zM1369.4 226.7h10.1v9.3h-10.1z"/>
<path fill="#ececc1" d="M1340.9 244.1h29.0v9.3h-29.0z"/>
<path fill="#925f5f" d="M1426.3 252.8h10.1v9.3h-10.1z"/>
<path fill="#8e5d5d" d="M1435.7 252.8h10.1v9.3h-10.1z"/>
<path fill="#996464" d="M1445.2 252.8h10.1v9.3h-10.1zM1454.7 261.4h10.1v9.3h-10.1z"/>
<path fill="#d2ae95" d="M1369.4 261.4h10.1v9.3h-10.1z"/>
<path fill="#8b5b5b" d="M1435.7 261.4h19.6v9.3h-19.6z"/>
<path fill="#835656" d="M1445.2 270.1h19.6v9.3h-19.6z"/>
<path fill="#956262" d="M1464.2 270.1h10.1v9.3h-10.1z"/>
</g>
<rect x="16.3" y="379.6" width="296.30" height="270.30" fill="#00008f"/>
<g filter="url(#soft)" shape-rendering="crispEdges">
<path fill="#00c7ff" d="M102.7 406.6h38.5v9.3h-38.5zM93.2 415.3h48.0v9.3h-48.0zM226.0 415.3h19.6v9.3h-19.6zM83.8 423.9h48.0v9.3h-48.0zM197.5 432.6h57.5v9.3h-57.5zM197.5 441.3h48.0v9.3h-48.0zM207.0 467.4h29.0v9.3h-29.0zM244.9 484.8h29.0v9.3h-29.0zM169.1 563.0h10.1v9.3h-10.1z"/>
<path fill="#00d1ff" d="M197.5 406.6h38.5v9.3h-38.5zM197.5 423.9h19.6v9.3h-19.6zM207.0 476.1h29.0v9.3h-29.0zM263.9 493.5h19.6v9.3h-19.6zM169.1 510.9h10.1v9.3h-10.1zM169.1 519.5h10.1v9.3h-10.1zM282.8 519.5h10.1v9.3h-10.1zM169.1 528.2h10.1v9.3h-10.1zM282.8 528.2h10.1v9.3h-10.1zM169.1 536.9h10.1v9.3h-10.1zM282.8 536.9h10.1v9.3h-10.1zM169.1 545.6h10.1v9.3h-10.1zM282.8 545.6h10.1v9.3h-10.1zM169.1 554.3h10.1v9.3h-10.1zM282.8 554.3h10.1v9.3h-10.1zM83.8 597.8h19.6v9.3h-19.6zM93.2 606.4h10.1v9.3h-10.1z"/>
<path fill="#00b2ff" d="M140.6 415.3h19.6v9.3h-19.6zM74.3 441.3h19.6v9.3h-19.6zM159.6 458.7h10.1v9.3h-10.1zM159.6 467.4h10.1v9.3h-10.1zM159.6 476.1h10.1v9.3h-10.1zM159.6 510.9h10.1v9.3h-10.1zM159.6 519.5h10.1v9.3h-10.1zM159.6 528.2h10.1v9.3h-10.1zM159.6 536.9h10.1v9.3h-10.1zM159.6 545.6h10.1v9.3h-10.1zM159.6 554.3h10.1v9.3h-10.1zM102.7 606.4h19.6v9.3h-19.6z"/>
<path fill="#00bdff" d="M159.6 415.3h38.5v9.3h-38.5zM150.1 423.9h48.0v9.3h-48.0zM140.6 432.6h29.0v9.3h-29.0zM150.1 441.3h19.6v9.3h-19.6zM244.9 441.3h19.6v9.3h-19.6zM93.2 450.0h57.5v9.3h-57.5zM226.0 458.7h38.5v9.3h-38.5zM235.4 467.4h38.5v9.3h-38.5zM159.6 484.8h19.6v9.3h-19.6zM159.6 493.5h19.6v9.3h-19.6zM169.1 571.7h10.1v9.3h-10.1zM169.1 580.4h10.1v9.3h-10.1zM64.8 589.1h29.0v9.3h-29.0z"/>
<path fill="#00d6ff" d="M197.5 415.3h29.0v9.3h-29.0z"/>
<path fill="#00adff" d="M131.2 423.9h19.6v9.3h-19.6zM74.3 450.0h19.6v9.3h-19.6zM93.2 467.4h38.5v9.3h-38.5z"/>
<path fill="#00c2ff" d="M216.5 423.9h38.5v9.3h-38.5zM83.8 432.6h57.5v9.3h-57.5zM169.1 432.6h10.1v9.3h-10.1zM93.2 441.3h57.5v9.3h-57.5zM197.5 450.0h67.0v9.3h-67.0zM235.4 476.1h38.5v9.3h-38.5z"/>
<path fill="#00f0ff" d="M178.6 432.6h19.6v9.3h-19.6zM169.1 441.3h29.0v9.3h-29.0zM226.0 493.5h38.5v9.3h-38.5zM178.6 502.2h19.6v9.3h-19.6z"/>
<path fill="#00b8ff" d="M150.1 450.0h19.6v9.3h-19.6zM102.7 458.7h29.0v9.3h-29.0zM159.6 502.2h19.6v9.3h-19.6z"/>
<path fill="#00f5ff" d="M169.1 450.0h29.0v9.3h-29.0zM169.1 458.7h29.0v9.3h-29.0zM169.1 467.4h38.5v9.3h-38.5z"/>
<path fill="#00a8ff" d="M74.3 458.7h29.0v9.3h-29.0zM93.2 589.1h29.0v9.3h-29.0zM102.7 597.8h19.6v9.3h-19.6z"/>
<path fill="#00a3ff" d="M131.2 458.7h29.0v9.3h-29.0zM102.7 476.1h57.5v9.3h-57.5zM121.7 484.8h38.5v9.3h-38.5zM64.8 580.4h104.9v9.3h-104.9z"/>
<path fill="#00ccff" d="M197.5 458.7h29.0v9.3h-29.0z"/>
<path fill="#0094ff" d="M64.8 467.4h29.0v9.3h-29.0zM93.2 484.8h29.0v9.3h-29.0zM131.2 536.9h29.0v9.3h-29.0zM102.7 545.6h57.5v9.3h-57.5zM121.7 606.4h19.6v9.3h-19.6z"/>
<path fill="#009eff" d="M131.2 467.4h29.0v9.3h-29.0zM131.2 493.5h29.0v9.3h-29.0zM140.6 502.2h19.6v9.3h-19.6zM55.3 571.7h114.4v9.3h-114.4z"/>
<path fill="#008aff" d="M64.8 476.1h19.6v9.3h-19.6zM112.2 502.2h29.0v9.3h-29.0zM45.8 519.5h10.1v9.3h-10.1zM121.7 589.1h38.5v9.3h-38.5zM121.7 597.8h29.0v9.3h-29.0z"/>
<path fill="#0099ff" d="M83.8 476.1h19.6v9.3h-19.6zM140.6 510.9h19.6v9.3h-19.6zM140.6 519.5h19.6v9.3h-19.6zM140.6 528.2h19.6v9.3h-19.6zM83.8 554.3h76.4v9.3h-76.4zM55.3 563.0h114.4v9.3h-114.4z"/>
<path fill="#00faff" d="M169.1 476.1h38.5v9.3h-38.5zM178.6 484.8h38.5v9.3h-38.5zM178.6 510.9h19.6v9.3h-19.6zM178.6 528.2h10.1v9.3h-10.1zM178.6 536.9h10.1v9.3h-10.1zM178.6 545.6h10.1v9.3h-10.1zM178.6 554.3h10.1v9.3h-10.1zM178.6 563.0h10.1v9.3h-10.1zM178.6 571.7h10.1v9.3h-10.1zM178.6 580.4h10.1v9.3h-10.1zM178.6 589.1h10.1v9.3h-10.1z"/>
<path fill="#0080ff" d="M64.8 484.8h29.0v9.3h-29.0zM83.8 510.9h57.5v9.3h-57.5zM45.8 545.6h57.5v9.3h-57.5zM45.8 554.3h38.5v9.3h-38.5z"/>
<path fill="#00e5ff" d="M216.5 484.8h29.0v9.3h-29.0zM273.4 510.9h10.1v9.3h-10.1z"/>
<path fill="#0075ff" d="M55.3 493.5h10.1v9.3h-10.1zM74.3 502.2h38.5v9.3h-38.5z"/>
<path fill="#007aff" d="M64.8 493.5h38.5v9.3h-38.5zM55.3 510.9h29.0v9.3h-29.0zM55.3 519.5h85.9v9.3h-85.9zM45.8 528.2h95.4v9.3h-95.4zM45.8 536.9h85.9v9.3h-85.9z"/>
<path fill="#008fff" d="M102.7 493.5h29.0v9.3h-29.0z"/>
<path fill="#00ffff" d="M178.6 493.5h48.0v9.3h-48.0zM178.6 519.5h19.6v9.3h-19.6zM235.4 519.5h48.0v9.3h-48.0zM254.4 528.2h29.0v9.3h-29.0zM254.4 536.9h29.0v9.3h-29.0zM244.9 545.6h38.5v9.3h-38.5zM244.9 554.3h38.5v9.3h-38.5zM244.9 563.0h38.5v9.3h-38.5zM244.9 571.7h38.5v9.3h-38.5z"/>
<path fill="#0066ff" d="M55.3 502.2h19.6v9.3h-19.6z"/>
<path fill="#05fffa" d="M197.5 502.2h67.0v9.3h-67.0zM197.5 510.9h76.4v9.3h-76.4zM188.0 528.2h10.1v9.3h-10.1zM235.4 580.4h38.5v9.3h-38.5zM235.4 589.1h38.5v9.3h-38.5zM235.4 597.8h19.6v9.3h-19.6zM235.4 606.4h10.1v9.3h-10.1z"/>
<path fill="#00dbff" d="M263.9 502.2h19.6v9.3h-19.6z"/>
<path fill="#0ffff0" d="M197.5 519.5h38.5v9.3h-38.5zM235.4 528.2h19.6v9.3h-19.6zM188.0 545.6h10.1v9.3h-10.1z"/>
<path fill="#24ffdb" d="M197.5 528.2h38.5v9.3h-38.5zM235.4 545.6h10.1v9.3h-10.1zM235.4 554.3h10.1v9.3h-10.1zM188.0 571.7h10.1v9.3h-10.1zM188.0 580.4h10.1v9.3h-10.1zM226.0 597.8h10.1v9.3h-10.1zM226.0 606.4h10.1v9.3h-10.1z"/>
<path fill="#0afff5" d="M188.0 536.9h10.1v9.3h-10.1z"/>
<path fill="#2effd1" d="M197.5 536.9h10.1v9.3h-10.1zM226.0 580.4h10.1v9.3h-10.1zM188.0 589.1h10.1v9.3h-10.1zM226.0 589.1h10.1v9.3h-10.1z"/>
<path fill="#38ffc7" d="M207.0 536.9h29.0v9.3h-29.0zM197.5 545.6h10.1v9.3h-10.1zM226.0 571.7h10.1v9.3h-10.1z"/>
<path fill="#1affe5" d="M235.4 536.9h19.6v9.3h-19.6zM188.0 563.0h10.1v9.3h-10.1zM235.4 563.0h10.1v9.3h-10.1zM235.4 571.7h10.1v9.3h-10.1zM188.0 597.8h10.1v9.3h-10.1z"/>
<path fill="#42ffbd" d="M207.0 545.6h29.0v9.3h-29.0zM197.5 554.3h10.1v9.3h-10.1zM226.0 554.3h10.1v9.3h-10.1zM226.0 563.0h10.1v9.3h-10.1z"/>
<path fill="#14ffeb" d="M188.0 554.3h10.1v9.3h-10.1z"/>
<path fill="#4dffb2" d="M207.0 554.3h19.6v9.3h-19.6z"/>
<path fill="#57ffa8" d="M197.5 563.0h29.0v9.3h-29.0zM216.5 571.7h10.1v9.3h-10.1zM216.5 580.4h10.1v9.3h-10.1zM216.5 589.1h10.1v9.3h-10.1zM216.5 597.8h10.1v9.3h-10.1z"/>
<path fill="#6bff94" d="M197.5 571.7h19.6v9.3h-19.6z"/>
<path fill="#80ff80" d="M197.5 580.4h19.6v9.3h-19.6zM216.5 606.4h10.1v9.3h-10.1z"/>
<path fill="#9eff61" d="M197.5 589.1h10.1v9.3h-10.1z"/>
<path fill="#94ff6b" d="M207.0 589.1h10.1v9.3h-10.1z"/>
<path fill="#d1ff2e" d="M197.5 597.8h10.1v9.3h-10.1z"/>
<path fill="#b3ff4c" d="M207.0 597.8h10.1v9.3h-10.1z"/>
<path fill="#fff000" d="M197.5 606.4h10.1v9.3h-10.1z"/>
<path fill="#faff05" d="M207.0 606.4h10.1v9.3h-10.1z"/>
</g>
<rect x="427.6" y="379.5" width="296.10" height="270.40" fill="#00008f"/>
<g filter="url(#soft)" shape-rendering="crispEdges">
<path fill="#ff5300" d="M513.9 406.6h10.1v9.3h-10.1zM542.4 406.6h10.1v9.3h-10.1zM570.8 432.6h19.6v9.3h-19.6zM665.6 484.8h10.1v9.3h-10.1zM466.5 493.5h10.1v9.3h-10.1zM589.8 563.0h10.1v9.3h-10.1zM684.6 571.7h10.1v9.3h-10.1z"/>
<path fill="#ff6d00" d="M523.4 406.6h19.6v9.3h-19.6zM504.4 415.3h10.1v9.3h-10.1zM684.6 519.5h10.1v9.3h-10.1zM599.2 563.0h10.1v9.3h-10.1zM466.5 571.7h10.1v9.3h-10.1zM561.3 589.1h10.1v9.3h-10.1zM513.9 606.4h10.1v9.3h-10.1z"/>
<path fill="#ff5b00" d="M608.7 406.6h10.1v9.3h-10.1zM637.2 406.6h10.1v9.3h-10.1zM561.3 423.9h10.1v9.3h-10.1zM589.8 423.9h10.1v9.3h-10.1zM580.3 441.3h10.1v9.3h-10.1zM580.3 450.0h10.1v9.3h-10.1zM476.0 467.4h10.1v9.3h-10.1zM665.6 493.5h10.1v9.3h-10.1zM608.7 580.4h10.1v9.3h-10.1zM618.2 589.1h10.1v9.3h-10.1z"/>
<path fill="#ff7300" d="M618.2 406.6h19.6v9.3h-19.6zM495.0 423.9h10.1v9.3h-10.1zM589.8 432.6h10.1v9.3h-10.1zM485.5 441.3h10.1v9.3h-10.1zM570.8 458.7h10.1v9.3h-10.1zM466.5 502.2h10.1v9.3h-10.1zM675.1 580.4h10.1v9.3h-10.1zM646.6 597.8h10.1v9.3h-10.1zM532.9 606.4h10.1v9.3h-10.1z"/>
<path fill="#ffa100" d="M513.9 415.3h10.1v9.3h-10.1zM637.2 415.3h10.1v9.3h-10.1zM551.8 423.9h10.1v9.3h-10.1zM485.5 450.0h10.1v9.3h-10.1zM656.1 450.0h10.1v9.3h-10.1zM589.8 458.7h10.1v9.3h-10.1zM580.3 554.3h10.1v9.3h-10.1zM627.7 589.1h10.1v9.3h-10.1zM665.6 589.1h10.1v9.3h-10.1z"/>
<path fill="#ffbd00" d="M523.4 415.3h10.1v9.3h-10.1zM618.2 415.3h19.6v9.3h-19.6zM485.5 458.7h10.1v9.3h-10.1zM570.8 476.1h10.1v9.3h-10.1zM656.1 476.1h10.1v9.3h-10.1zM656.1 484.8h10.1v9.3h-10.1zM656.1 502.2h10.1v9.3h-10.1zM589.8 545.6h10.1v9.3h-10.1zM675.1 571.7h10.1v9.3h-10.1zM561.3 580.4h10.1v9.3h-10.1z"/>
<path fill="#ffb400" d="M532.9 415.3h10.1v9.3h-10.1zM495.0 432.6h10.1v9.3h-10.1zM561.3 450.0h10.1v9.3h-10.1zM589.8 467.4h10.1v9.3h-10.1zM656.1 467.4h10.1v9.3h-10.1zM656.1 493.5h10.1v9.3h-10.1zM618.2 580.4h10.1v9.3h-10.1zM542.4 597.8h10.1v9.3h-10.1z"/>
<path fill="#ff9700" d="M542.4 415.3h10.1v9.3h-10.1zM608.7 415.3h10.1v9.3h-10.1zM599.2 423.9h10.1v9.3h-10.1zM656.1 441.3h10.1v9.3h-10.1zM589.8 450.0h10.1v9.3h-10.1zM570.8 467.4h10.1v9.3h-10.1zM608.7 571.7h10.1v9.3h-10.1zM485.5 589.1h10.1v9.3h-10.1z"/>
<path fill="#ff6300" d="M551.8 415.3h10.1v9.3h-10.1zM599.2 415.3h10.1v9.3h-10.1zM646.6 415.3h10.1v9.3h-10.1zM656.1 432.6h10.1v9.3h-10.1zM570.8 441.3h10.1v9.3h-10.1zM570.8 450.0h10.1v9.3h-10.1zM580.3 458.7h10.1v9.3h-10.1zM665.6 502.2h10.1v9.3h-10.1zM580.3 563.0h10.1v9.3h-10.1zM684.6 563.0h10.1v9.3h-10.1zM570.8 580.4h10.1v9.3h-10.1zM551.8 597.8h10.1v9.3h-10.1zM637.2 597.8h10.1v9.3h-10.1zM656.1 597.8h10.1v9.3h-10.1z"/>
<path fill="#ff4000" d="M561.3 415.3h10.1v9.3h-10.1zM589.8 415.3h10.1v9.3h-10.1zM570.8 423.9h19.6v9.3h-19.6zM665.6 467.4h10.1v9.3h-10.1zM580.3 571.7h10.1v9.3h-10.1zM476.0 589.1h10.1v9.3h-10.1zM627.7 597.8h10.1v9.3h-10.1z"/>
<path fill="#ff3000" d="M570.8 415.3h19.6v9.3h-19.6zM665.6 458.7h10.1v9.3h-10.1z"/>
<path fill="#ffc800" d="M504.4 423.9h10.1v9.3h-10.1zM599.2 432.6h10.1v9.3h-10.1zM561.3 458.7h10.1v9.3h-10.1zM675.1 519.5h10.1v9.3h-10.1zM608.7 563.0h10.1v9.3h-10.1zM504.4 597.8h10.1v9.3h-10.1z"/>
<path fill="#fff200" d="M513.9 423.9h10.1v9.3h-10.1zM637.2 423.9h10.1v9.3h-10.1zM495.0 441.3h10.1v9.3h-10.1zM599.2 450.0h10.1v9.3h-10.1zM580.3 493.5h10.1v9.3h-10.1zM646.6 493.5h10.1v9.3h-10.1zM675.1 528.2h10.1v9.3h-10.1zM589.8 536.9h10.1v9.3h-10.1zM608.7 554.3h10.1v9.3h-10.1zM675.1 554.3h10.1v9.3h-10.1zM618.2 571.7h10.1v9.3h-10.1zM485.5 580.4h10.1v9.3h-10.1zM627.7 580.4h10.1v9.3h-10.1zM495.0 589.1h10.1v9.3h-10.1zM513.9 597.8h10.1v9.3h-10.1z"/>
<path fill="#f7fe06" d="M523.4 423.9h10.1v9.3h-10.1zM551.8 441.3h10.1v9.3h-10.1zM485.5 476.1h10.1v9.3h-10.1zM561.3 476.1h10.1v9.3h-10.1zM599.2 476.1h10.1v9.3h-10.1zM599.2 484.8h10.1v9.3h-10.1zM646.6 484.8h10.1v9.3h-10.1zM570.8 493.5h10.1v9.3h-10.1zM599.2 493.5h10.1v9.3h-10.1zM580.3 502.2h19.6v9.3h-19.6zM646.6 502.2h10.1v9.3h-10.1zM466.5 519.5h10.1v9.3h-10.1zM466.5 528.2h10.1v9.3h-10.1zM589.8 528.2h19.6v9.3h-19.6zM466.5 536.9h10.1v9.3h-10.1zM675.1 536.9h10.1v9.3h-10.1zM466.5 545.6h10.1v9.3h-10.1zM570.8 545.6h10.1v9.3h-10.1zM675.1 545.6h10.1v9.3h-10.1z"/>
<path fill="#ffff00" d="M532.9 423.9h10.1v9.3h-10.1zM599.2 458.7h10.1v9.3h-10.1zM599.2 467.4h10.1v9.3h-10.1zM589.8 493.5h10.1v9.3h-10.1zM476.0 502.2h10.1v9.3h-10.1zM466.5 510.9h10.1v9.3h-10.1zM580.3 536.9h10.1v9.3h-10.1zM599.2 536.9h10.1v9.3h-10.1zM523.4 597.8h10.1v9.3h-10.1z"/>
<path fill="#ffda00" d="M542.4 423.9h10.1v9.3h-10.1zM551.8 432.6h10.1v9.3h-10.1zM476.0 493.5h10.1v9.3h-10.1zM599.2 545.6h10.1v9.3h-10.1zM570.8 554.3h10.1v9.3h-10.1zM675.1 563.0h10.1v9.3h-10.1z"/>
<path fill="#ffe600" d="M608.7 423.9h10.1v9.3h-10.1zM646.6 432.6h10.1v9.3h-10.1zM599.2 441.3h10.1v9.3h-10.1zM485.5 467.4h10.1v9.3h-10.1zM561.3 467.4h10.1v9.3h-10.1zM570.8 484.8h10.1v9.3h-10.1zM589.8 484.8h10.1v9.3h-10.1zM665.6 510.9h10.1v9.3h-10.1zM466.5 554.3h10.1v9.3h-10.1zM476.0 571.7h10.1v9.3h-10.1zM561.3 571.7h10.1v9.3h-10.1zM665.6 580.4h10.1v9.3h-10.1zM646.6 589.1h10.1v9.3h-10.1zM532.9 597.8h10.1v9.3h-10.1z"/>
<path fill="#eefd0c" d="M618.2 423.9h19.6v9.3h-19.6zM504.4 432.6h10.1v9.3h-10.1zM646.6 441.3h10.1v9.3h-10.1zM495.0 450.0h10.1v9.3h-10.1zM551.8 450.0h10.1v9.3h-10.1zM646.6 450.0h10.1v9.3h-10.1zM646.6 458.7h10.1v9.3h-10.1zM646.6 467.4h10.1v9.3h-10.1zM646.6 476.1h10.1v9.3h-10.1zM485.5 484.8h10.1v9.3h-10.1zM561.3 484.8h10.1v9.3h-10.1zM608.7 493.5h10.1v9.3h-10.1zM570.8 502.2h10.1v9.3h-10.1zM599.2 502.2h10.1v9.3h-10.1zM589.8 510.9h19.6v9.3h-19.6zM589.8 519.5h19.6v9.3h-19.6zM580.3 528.2h10.1v9.3h-10.1zM561.3 563.0h10.1v9.3h-10.1zM551.8 580.4h10.1v9.3h-10.1zM542.4 589.1h10.1v9.3h-10.1z"/>
<path fill="#ffaa00" d="M646.6 423.9h10.1v9.3h-10.1zM561.3 441.3h10.1v9.3h-10.1zM656.1 458.7h10.1v9.3h-10.1zM580.3 476.1h10.1v9.3h-10.1zM476.0 484.8h10.1v9.3h-10.1zM599.2 554.3h10.1v9.3h-10.1zM570.8 563.0h10.1v9.3h-10.1z"/>
<path fill="#ff4800" d="M656.1 423.9h10.1v9.3h-10.1zM665.6 476.1h10.1v9.3h-10.1zM457.0 554.3h10.1v9.3h-10.1zM599.2 571.7h10.1v9.3h-10.1zM675.1 589.1h10.1v9.3h-10.1zM504.4 606.4h10.1v9.3h-10.1zM542.4 606.4h10.1v9.3h-10.1z"/>
<path fill="#bcfa34" d="M513.9 432.6h10.1v9.3h-10.1zM618.2 432.6h10.1v9.3h-10.1zM551.8 476.1h10.1v9.3h-10.1zM618.2 476.1h10.1v9.3h-10.1zM637.2 476.1h10.1v9.3h-10.1zM485.5 502.2h10.1v9.3h-10.1zM570.8 519.5h10.1v9.3h-10.1zM570.8 528.2h10.1v9.3h-10.1zM665.6 528.2h10.1v9.3h-10.1zM485.5 571.7h10.1v9.3h-10.1zM551.8 571.7h10.1v9.3h-10.1zM495.0 580.4h10.1v9.3h-10.1zM513.9 589.1h10.1v9.3h-10.1z"/>
<path fill="#a2fa52" d="M523.4 432.6h10.1v9.3h-10.1zM618.2 441.3h10.1v9.3h-10.1z"/>
<path fill="#a9fa49" d="M532.9 432.6h10.1v9.3h-10.1zM637.2 441.3h10.1v9.3h-10.1zM504.4 450.0h10.1v9.3h-10.1zM618.2 467.4h10.1v9.3h-10.1zM637.2 467.4h10.1v9.3h-10.1zM495.0 476.1h10.1v9.3h-10.1zM627.7 476.1h10.1v9.3h-10.1zM551.8 484.8h10.1v9.3h-10.1zM476.0 510.9h10.1v9.3h-10.1zM637.2 510.9h10.1v9.3h-10.1zM618.2 519.5h10.1v9.3h-10.1zM656.1 571.7h10.1v9.3h-10.1z"/>
<path fill="#d5fb1e" d="M542.4 432.6h10.1v9.3h-10.1zM495.0 458.7h10.1v9.3h-10.1zM608.7 476.1h10.1v9.3h-10.1zM485.5 493.5h10.1v9.3h-10.1zM561.3 493.5h10.1v9.3h-10.1zM627.7 493.5h10.1v9.3h-10.1zM618.2 502.2h10.1v9.3h-10.1zM637.2 502.2h10.1v9.3h-10.1zM608.7 510.9h10.1v9.3h-10.1zM656.1 510.9h10.1v9.3h-10.1zM570.8 536.9h10.1v9.3h-10.1zM608.7 536.9h10.1v9.3h-10.1zM618.2 563.0h10.1v9.3h-10.1zM646.6 580.4h10.1v9.3h-10.1zM504.4 589.1h10.1v9.3h-10.1z"/>
<path fill="#ff7d00" d="M561.3 432.6h10.1v9.3h-10.1zM580.3 467.4h10.1v9.3h-10.1zM675.1 510.9h10.1v9.3h-10.1zM684.6 528.2h10.1v9.3h-10.1zM589.8 554.3h10.1v9.3h-10.1zM684.6 554.3h10.1v9.3h-10.1zM570.8 571.7h10.1v9.3h-10.1zM476.0 580.4h10.1v9.3h-10.1zM495.0 597.8h10.1v9.3h-10.1zM523.4 606.4h10.1v9.3h-10.1z"/>
<path fill="#defc18" d="M608.7 432.6h10.1v9.3h-10.1zM551.8 458.7h10.1v9.3h-10.1zM608.7 484.8h10.1v9.3h-10.1zM618.2 493.5h10.1v9.3h-10.1zM637.2 493.5h10.1v9.3h-10.1zM608.7 502.2h10.1v9.3h-10.1zM580.3 510.9h10.1v9.3h-10.1zM580.3 519.5h10.1v9.3h-10.1zM665.6 519.5h10.1v9.3h-10.1zM608.7 545.6h10.1v9.3h-10.1zM476.0 563.0h10.1v9.3h-10.1zM665.6 571.7h10.1v9.3h-10.1zM637.2 580.4h10.1v9.3h-10.1zM656.1 580.4h10.1v9.3h-10.1z"/>
<path fill="#b4fa3c" d="M627.7 432.6h10.1v9.3h-10.1zM542.4 441.3h10.1v9.3h-10.1zM627.7 510.9h10.1v9.3h-10.1zM646.6 510.9h10.1v9.3h-10.1zM618.2 554.3h10.1v9.3h-10.1zM523.4 589.1h10.1v9.3h-10.1z"/>
<path fill="#c6fa2a" d="M637.2 432.6h10.1v9.3h-10.1zM504.4 441.3h10.1v9.3h-10.1zM608.7 450.0h10.1v9.3h-10.1zM608.7 458.7h10.1v9.3h-10.1zM495.0 467.4h10.1v9.3h-10.1zM627.7 484.8h10.1v9.3h-10.1zM561.3 502.2h10.1v9.3h-10.1zM570.8 510.9h10.1v9.3h-10.1zM618.2 510.9h10.1v9.3h-10.1zM561.3 554.3h10.1v9.3h-10.1zM665.6 563.0h10.1v9.3h-10.1zM627.7 571.7h10.1v9.3h-10.1zM532.9 589.1h10.1v9.3h-10.1z"/>
<path fill="#84fa75" d="M513.9 441.3h10.1v9.3h-10.1zM627.7 450.0h10.1v9.3h-10.1zM542.4 458.7h10.1v9.3h-10.1zM627.7 458.7h10.1v9.3h-10.1zM476.0 519.5h10.1v9.3h-10.1zM561.3 519.5h10.1v9.3h-10.1zM627.7 519.5h10.1v9.3h-10.1zM476.0 528.2h10.1v9.3h-10.1zM561.3 528.2h10.1v9.3h-10.1zM476.0 536.9h10.1v9.3h-10.1zM561.3 536.9h10.1v9.3h-10.1zM476.0 545.6h10.1v9.3h-10.1zM561.3 545.6h10.1v9.3h-10.1zM485.5 563.0h10.1v9.3h-10.1z"/>
<path fill="#58faa2" d="M523.4 441.3h10.1v9.3h-10.1zM542.4 467.4h10.1v9.3h-10.1zM495.0 484.8h10.1v9.3h-10.1zM637.2 519.5h19.6v9.3h-19.6zM532.9 580.4h10.1v9.3h-10.1z"/>
<path fill="#6ffa8b" d="M532.9 441.3h10.1v9.3h-10.1zM551.8 502.2h10.1v9.3h-10.1zM656.1 563.0h10.1v9.3h-10.1zM504.4 580.4h10.1v9.3h-10.1z"/>
<path fill="#ff8700" d="M589.8 441.3h10.1v9.3h-10.1zM476.0 476.1h10.1v9.3h-10.1zM684.6 536.9h10.1v9.3h-10.1zM684.6 545.6h10.1v9.3h-10.1z"/>
<path fill="#cdfa24" d="M608.7 441.3h10.1v9.3h-10.1zM551.8 467.4h10.1v9.3h-10.1zM608.7 467.4h10.1v9.3h-10.1zM618.2 484.8h10.1v9.3h-10.1zM637.2 484.8h10.1v9.3h-10.1zM627.7 502.2h10.1v9.3h-10.1zM608.7 519.5h10.1v9.3h-10.1zM608.7 528.2h10.1v9.3h-10.1z"/>
<path fill="#93fa64" d="M627.7 441.3h10.1v9.3h-10.1zM542.4 450.0h10.1v9.3h-10.1zM618.2 450.0h10.1v9.3h-10.1zM618.2 458.7h10.1v9.3h-10.1zM627.7 467.4h10.1v9.3h-10.1zM551.8 493.5h10.1v9.3h-10.1zM656.1 519.5h10.1v9.3h-10.1zM618.2 528.2h10.1v9.3h-10.1zM665.6 536.9h10.1v9.3h-10.1zM618.2 545.6h10.1v9.3h-10.1zM646.6 571.7h10.1v9.3h-10.1z"/>
<path fill="#ff1b00" d="M665.6 441.3h10.1v9.3h-10.1zM694.0 519.5h10.1v9.3h-10.1zM580.3 580.4h10.1v9.3h-10.1zM599.2 580.4h10.1v9.3h-10.1zM608.7 589.1h10.1v9.3h-10.1z"/>
<path fill="#47fab3" d="M513.9 450.0h10.1v9.3h-10.1z"/>
<path fill="#2afbd1" d="M523.4 450.0h10.1v9.3h-10.1zM656.1 554.3h10.1v9.3h-10.1z"/>
<path fill="#42fab8" d="M532.9 450.0h10.1v9.3h-10.1zM504.4 467.4h10.1v9.3h-10.1zM542.4 476.1h10.1v9.3h-10.1zM656.1 528.2h10.1v9.3h-10.1zM646.6 563.0h10.1v9.3h-10.1zM513.9 580.4h19.6v9.3h-19.6z"/>
<path fill="#9efa56" d="M637.2 450.0h10.1v9.3h-10.1zM637.2 458.7h10.1v9.3h-10.1zM665.6 554.3h10.1v9.3h-10.1zM637.2 571.7h10.1v9.3h-10.1zM542.4 580.4h10.1v9.3h-10.1z"/>
<path fill="#ff2800" d="M665.6 450.0h10.1v9.3h-10.1zM684.6 510.9h10.1v9.3h-10.1zM694.0 528.2h10.1v9.3h-10.1zM694.0 536.9h10.1v9.3h-10.1zM694.0 545.6h10.1v9.3h-10.1zM694.0 554.3h10.1v9.3h-10.1zM589.8 571.7h10.1v9.3h-10.1z"/>
<path fill="#8cfa6d" d="M504.4 458.7h10.1v9.3h-10.1zM561.3 510.9h10.1v9.3h-10.1zM618.2 536.9h10.1v9.3h-10.1zM665.6 545.6h10.1v9.3h-10.1zM551.8 563.0h10.1v9.3h-10.1zM627.7 563.0h10.1v9.3h-10.1z"/>
<path fill="#24fbd7" d="M513.9 458.7h10.1v9.3h-10.1zM532.9 458.7h10.1v9.3h-10.1zM495.0 493.5h10.1v9.3h-10.1zM485.5 510.9h10.1v9.3h-10.1zM637.2 528.2h10.1v9.3h-10.1zM485.5 554.3h10.1v9.3h-10.1zM542.4 563.0h10.1v9.3h-10.1z"/>
<path fill="#0afef4" d="M523.4 458.7h10.1v9.3h-10.1z"/>
<path fill="#00f9ff" d="M513.9 467.4h10.1v9.3h-10.1zM504.4 484.8h10.1v9.3h-10.1zM637.2 536.9h10.1v9.3h-10.1z"/>
<path fill="#00caff" d="M523.4 467.4h10.1v9.3h-10.1zM513.9 476.1h10.1v9.3h-10.1zM532.9 484.8h10.1v9.3h-10.1z"/>
<path fill="#05fef9" d="M532.9 467.4h10.1v9.3h-10.1zM646.6 554.3h10.1v9.3h-10.1zM495.0 563.0h10.1v9.3h-10.1zM532.9 571.7h10.1v9.3h-10.1z"/>
<path fill="#ff0000" d="M675.1 467.4h10.1v9.3h-10.1zM675.1 476.1h10.1v9.3h-10.1zM675.1 484.8h10.1v9.3h-10.1zM684.6 502.2h10.1v9.3h-10.1zM589.8 580.4h10.1v9.3h-10.1zM589.8 589.1h19.6v9.3h-19.6zM599.2 597.8h19.6v9.3h-19.6zM608.7 606.4h38.5v9.3h-38.5z"/>
<path fill="#1afce2" d="M504.4 476.1h10.1v9.3h-10.1zM542.4 493.5h10.1v9.3h-10.1zM551.8 519.5h10.1v9.3h-10.1zM551.8 528.2h10.1v9.3h-10.1zM551.8 536.9h10.1v9.3h-10.1zM551.8 545.6h10.1v9.3h-10.1z"/>
<path fill="#00a6ff" d="M523.4 476.1h10.1v9.3h-10.1zM542.4 510.9h10.1v9.3h-10.1zM495.0 554.3h10.1v9.3h-10.1zM532.9 563.0h10.1v9.3h-10.1zM513.9 571.7h10.1v9.3h-10.1z"/>
<path fill="#00ffff" d="M532.9 476.1h10.1v9.3h-10.1zM542.4 502.2h10.1v9.3h-10.1z"/>
<path fill="#ffcd00" d="M589.8 476.1h10.1v9.3h-10.1zM580.3 484.8h10.1v9.3h-10.1zM580.3 545.6h10.1v9.3h-10.1zM551.8 589.1h10.1v9.3h-10.1zM637.2 589.1h10.1v9.3h-10.1zM656.1 589.1h10.1v9.3h-10.1z"/>
<path fill="#0088ff" d="M513.9 484.8h10.1v9.3h-10.1zM542.4 519.5h10.1v9.3h-10.1zM542.4 528.2h10.1v9.3h-10.1zM542.4 536.9h10.1v9.3h-10.1zM542.4 545.6h10.1v9.3h-10.1z"/>
<path fill="#006aff" d="M523.4 484.8h10.1v9.3h-10.1zM504.4 563.0h10.1v9.3h-10.1z"/>
<path fill="#31fac9" d="M542.4 484.8h10.1v9.3h-10.1zM627.7 536.9h10.1v9.3h-10.1zM627.7 545.6h10.1v9.3h-10.1z"/>
<path fill="#00c4ff" d="M504.4 493.5h10.1v9.3h-10.1zM646.6 536.9h10.1v9.3h-10.1z"/>
<path fill="#005eff" d="M513.9 493.5h10.1v9.3h-10.1z"/>
<path fill="#0048ff" d="M523.4 493.5h10.1v9.3h-10.1z"/>
<path fill="#0097ff" d="M532.9 493.5h10.1v9.3h-10.1zM495.0 510.9h10.1v9.3h-10.1z"/>
<path fill="#ff0d00" d="M675.1 493.5h10.1v9.3h-10.1zM675.1 502.2h10.1v9.3h-10.1zM618.2 597.8h10.1v9.3h-10.1zM646.6 606.4h10.1v9.3h-10.1z"/>
<path fill="#f4000a" d="M684.6 493.5h10.1v9.3h-10.1z"/>
<path fill="#00edff" d="M495.0 502.2h10.1v9.3h-10.1z"/>
<path fill="#0063ff" d="M504.4 502.2h10.1v9.3h-10.1z"/>
<path fill="#0008ff" d="M513.9 502.2h10.1v9.3h-10.1zM532.9 510.9h10.1v9.3h-10.1z"/>
<path fill="#0000fc" d="M523.4 502.2h10.1v9.3h-10.1zM532.9 519.5h10.1v9.3h-10.1zM532.9 528.2h10.1v9.3h-10.1zM532.9 536.9h10.1v9.3h-10.1zM532.9 545.6h10.1v9.3h-10.1zM523.4 554.3h10.1v9.3h-10.1z"/>
<path fill="#003dff" d="M532.9 502.2h10.1v9.3h-10.1zM523.4 563.0h10.1v9.3h-10.1z"/>
<path fill="#0012ff" d="M504.4 510.9h10.1v9.3h-10.1zM504.4 554.3h10.1v9.3h-10.1z"/>
<path fill="#0000e6" d="M513.9 510.9h19.6v9.3h-19.6zM513.9 519.5h19.6v9.3h-19.6zM513.9 528.2h19.6v9.3h-19.6zM513.9 536.9h19.6v9.3h-19.6zM513.9 545.6h19.6v9.3h-19.6z"/>
<path fill="#1ffcdd" d="M551.8 510.9h10.1v9.3h-10.1z"/>
<path fill="#ff5700" d="M457.0 519.5h10.1v9.3h-10.1zM457.0 528.2h10.1v9.3h-10.1zM457.0 536.9h10.1v9.3h-10.1zM457.0 545.6h10.1v9.3h-10.1z"/>
<path fill="#00dcff" d="M485.5 519.5h10.1v9.3h-10.1zM485.5 528.2h10.1v9.3h-10.1zM485.5 536.9h10.1v9.3h-10.1zM485.5 545.6h10.1v9.3h-10.1zM504.4 571.7h10.1v9.3h-10.1z"/>
<path fill="#0033ff" d="M495.0 519.5h10.1v9.3h-10.1zM495.0 528.2h10.1v9.3h-10.1zM495.0 536.9h10.1v9.3h-10.1zM495.0 545.6h10.1v9.3h-10.1zM513.9 563.0h10.1v9.3h-10.1z"/>
<path fill="#0000f1" d="M504.4 519.5h10.1v9.3h-10.1zM504.4 528.2h10.1v9.3h-10.1zM504.4 536.9h10.1v9.3h-10.1zM504.4 545.6h10.1v9.3h-10.1zM513.9 554.3h10.1v9.3h-10.1z"/>
<path fill="#4dfaad" d="M627.7 528.2h10.1v9.3h-10.1zM551.8 554.3h10.1v9.3h-10.1zM627.7 554.3h10.1v9.3h-10.1zM637.2 563.0h10.1v9.3h-10.1zM495.0 571.7h10.1v9.3h-10.1zM542.4 571.7h10.1v9.3h-10.1z"/>
<path fill="#10fdee" d="M646.6 528.2h10.1v9.3h-10.1zM656.1 536.9h10.1v9.3h-10.1z"/>
<path fill="#00e8ff" d="M637.2 545.6h10.1v9.3h-10.1z"/>
<path fill="#00b5ff" d="M646.6 545.6h10.1v9.3h-10.1zM523.4 571.7h10.1v9.3h-10.1z"/>
<path fill="#08fef6" d="M656.1 545.6h10.1v9.3h-10.1z"/>
<path fill="#b0fa40" d="M476.0 554.3h10.1v9.3h-10.1z"/>
<path fill="#0053ff" d="M532.9 554.3h10.1v9.3h-10.1z"/>
<path fill="#00f3ff" d="M542.4 554.3h10.1v9.3h-10.1z"/>
<path fill="#15fde8" d="M637.2 554.3h10.1v9.3h-10.1z"/>
<path fill="#ffaf00" d="M466.5 563.0h10.1v9.3h-10.1z"/>
</g>
<rect x="840.5" y="380.2" width="293.80" height="269.70" fill="#00008f"/>
<g filter="url(#soft)" shape-rendering="crispEdges">
<path fill="#38ffc7" d="M926.1 407.1h10.1v9.3h-10.1zM983.0 424.4h19.6v9.3h-19.6zM1002.0 441.8h10.1v9.3h-10.1zM1002.0 450.5h10.1v9.3h-10.1zM1002.0 459.2h10.1v9.3h-10.1zM983.0 467.9h10.1v9.3h-10.1zM1030.4 494.0h10.1v9.3h-10.1zM992.5 511.4h19.6v9.3h-19.6zM992.5 520.0h10.1v9.3h-10.1zM992.5 528.7h10.1v9.3h-10.1zM1106.2 528.7h10.1v9.3h-10.1zM1106.2 537.4h10.1v9.3h-10.1zM1106.2 546.1h10.1v9.3h-10.1zM1106.2 554.8h10.1v9.3h-10.1zM1002.0 563.5h10.1v9.3h-10.1zM1002.0 572.2h10.1v9.3h-10.1z"/>
<path fill="#00faff" d="M935.6 407.1h10.1v9.3h-10.1zM954.6 415.8h19.6v9.3h-19.6zM907.2 450.5h67.0v9.3h-67.0zM916.6 459.2h57.5v9.3h-57.5zM916.6 467.9h57.5v9.3h-57.5zM935.6 476.6h38.5v9.3h-38.5zM1077.8 476.6h19.6v9.3h-19.6zM935.6 485.3h29.0v9.3h-29.0zM964.0 511.4h10.1v9.3h-10.1zM973.5 537.4h10.1v9.3h-10.1zM983.0 563.5h10.1v9.3h-10.1z"/>
<path fill="#00dbff" d="M945.1 407.1h19.6v9.3h-19.6zM897.7 459.2h10.1v9.3h-10.1zM897.7 467.9h19.6v9.3h-19.6zM916.6 494.0h19.6v9.3h-19.6zM945.1 511.4h19.6v9.3h-19.6zM964.0 554.8h10.1v9.3h-10.1zM945.1 572.2h38.5v9.3h-38.5zM945.1 580.9h38.5v9.3h-38.5zM907.2 589.6h38.5v9.3h-38.5z"/>
<path fill="#00f0ff" d="M1020.9 407.1h10.1v9.3h-10.1zM1020.9 415.8h19.6v9.3h-19.6zM897.7 441.8h10.1v9.3h-10.1zM1039.9 467.9h48.0v9.3h-48.0zM916.6 476.6h19.6v9.3h-19.6zM935.6 502.7h29.0v9.3h-29.0zM964.0 520.0h10.1v9.3h-10.1zM973.5 554.8h10.1v9.3h-10.1zM983.0 572.2h10.1v9.3h-10.1zM916.6 606.9h10.1v9.3h-10.1z"/>
<path fill="#00e5ff" d="M1030.4 407.1h10.1v9.3h-10.1zM1030.4 424.4h10.1v9.3h-10.1zM1030.4 433.1h10.1v9.3h-10.1zM1030.4 441.8h10.1v9.3h-10.1zM897.7 450.5h10.1v9.3h-10.1zM1030.4 450.5h10.1v9.3h-10.1zM907.2 459.2h10.1v9.3h-10.1zM1087.3 467.9h10.1v9.3h-10.1zM964.0 537.4h10.1v9.3h-10.1zM973.5 563.5h10.1v9.3h-10.1zM907.2 598.2h38.5v9.3h-38.5zM926.1 606.9h19.6v9.3h-19.6z"/>
<path fill="#00d1ff" d="M1039.9 407.1h10.1v9.3h-10.1zM1039.9 415.8h10.1v9.3h-10.1zM1039.9 459.2h48.0v9.3h-48.0zM897.7 476.6h19.6v9.3h-19.6zM916.6 502.7h19.6v9.3h-19.6zM945.1 520.0h19.6v9.3h-19.6zM945.1 528.7h19.6v9.3h-19.6zM945.1 563.5h29.0v9.3h-29.0zM897.7 580.9h48.0v9.3h-48.0zM888.2 589.6h19.6v9.3h-19.6zM945.1 598.2h29.0v9.3h-29.0zM945.1 606.9h19.6v9.3h-19.6z"/>
<path fill="#00bdff" d="M1049.4 407.1h10.1v9.3h-10.1zM1049.4 415.8h10.1v9.3h-10.1zM1039.9 450.5h48.0v9.3h-48.0zM888.2 476.6h10.1v9.3h-10.1zM897.7 494.0h19.6v9.3h-19.6zM926.1 511.4h19.6v9.3h-19.6zM907.2 563.5h38.5v9.3h-38.5z"/>
<path fill="#2effd1" d="M916.6 415.8h19.6v9.3h-19.6zM1002.0 433.1h10.1v9.3h-10.1zM1002.0 467.9h10.1v9.3h-10.1zM983.0 476.6h10.1v9.3h-10.1zM1002.0 476.6h10.1v9.3h-10.1zM983.0 485.3h19.6v9.3h-19.6zM1039.9 485.3h38.5v9.3h-38.5zM1087.3 494.0h10.1v9.3h-10.1zM1011.4 502.7h10.1v9.3h-10.1zM1106.2 520.0h10.1v9.3h-10.1zM992.5 537.4h10.1v9.3h-10.1z"/>
<path fill="#05fffa" d="M935.6 415.8h19.6v9.3h-19.6zM1002.0 415.8h19.6v9.3h-19.6zM907.2 441.8h10.1v9.3h-10.1zM1011.4 467.9h29.0v9.3h-29.0zM1087.3 485.3h10.1v9.3h-10.1zM1096.8 494.0h10.1v9.3h-10.1zM973.5 520.0h10.1v9.3h-10.1zM983.0 554.8h10.1v9.3h-10.1zM992.5 572.2h10.1v9.3h-10.1z"/>
<path fill="#1affe5" d="M973.5 415.8h29.0v9.3h-29.0zM907.2 424.4h10.1v9.3h-10.1zM926.1 424.4h10.1v9.3h-10.1zM973.5 424.4h10.1v9.3h-10.1zM916.6 433.1h10.1v9.3h-10.1zM973.5 433.1h10.1v9.3h-10.1zM973.5 441.8h10.1v9.3h-10.1zM973.5 450.5h10.1v9.3h-10.1zM973.5 459.2h10.1v9.3h-10.1zM973.5 467.9h10.1v9.3h-10.1zM1011.4 485.3h19.6v9.3h-19.6zM1077.8 485.3h10.1v9.3h-10.1zM983.0 528.7h10.1v9.3h-10.1zM992.5 554.8h10.1v9.3h-10.1z"/>
<path fill="#00b2ff" d="M1058.8 415.8h10.1v9.3h-10.1zM1039.9 441.8h48.0v9.3h-48.0zM888.2 485.3h10.1v9.3h-10.1zM897.7 502.7h19.6v9.3h-19.6zM926.1 520.0h19.6v9.3h-19.6zM926.1 528.7h19.6v9.3h-19.6zM926.1 537.4h19.6v9.3h-19.6zM916.6 546.1h29.0v9.3h-29.0zM907.2 554.8h38.5v9.3h-38.5zM878.7 572.2h19.6v9.3h-19.6z"/>
<path fill="#24ffdb" d="M916.6 424.4h10.1v9.3h-10.1zM1002.0 424.4h10.1v9.3h-10.1zM1002.0 485.3h10.1v9.3h-10.1zM1030.4 485.3h10.1v9.3h-10.1zM983.0 494.0h48.0v9.3h-48.0zM983.0 502.7h29.0v9.3h-29.0zM983.0 511.4h10.1v9.3h-10.1zM983.0 520.0h10.1v9.3h-10.1zM992.5 546.1h10.1v9.3h-10.1z"/>
<path fill="#00ffff" d="M935.6 424.4h38.5v9.3h-38.5zM1011.4 424.4h19.6v9.3h-19.6zM926.1 433.1h48.0v9.3h-48.0zM1011.4 433.1h19.6v9.3h-19.6zM916.6 441.8h57.5v9.3h-57.5zM1011.4 441.8h19.6v9.3h-19.6zM1011.4 450.5h19.6v9.3h-19.6zM1011.4 459.2h29.0v9.3h-29.0zM964.0 485.3h10.1v9.3h-10.1zM964.0 494.0h10.1v9.3h-10.1zM964.0 502.7h10.1v9.3h-10.1zM973.5 528.7h10.1v9.3h-10.1zM992.5 580.9h10.1v9.3h-10.1z"/>
<path fill="#00c7ff" d="M1039.9 424.4h10.1v9.3h-10.1zM1039.9 433.1h10.1v9.3h-10.1zM888.2 467.9h10.1v9.3h-10.1zM897.7 485.3h19.6v9.3h-19.6zM945.1 546.1h19.6v9.3h-19.6zM945.1 554.8h19.6v9.3h-19.6zM897.7 572.2h48.0v9.3h-48.0zM888.2 580.9h10.1v9.3h-10.1z"/>
<path fill="#009eff" d="M1049.4 424.4h19.6v9.3h-19.6zM878.7 494.0h10.1v9.3h-10.1zM888.2 502.7h10.1v9.3h-10.1zM878.7 511.4h19.6v9.3h-19.6zM869.2 520.0h10.1v9.3h-10.1zM869.2 554.8h38.5v9.3h-38.5z"/>
<path fill="#00a8ff" d="M1068.3 424.4h10.1v9.3h-10.1zM1049.4 433.1h29.0v9.3h-29.0zM888.2 494.0h10.1v9.3h-10.1zM897.7 511.4h29.0v9.3h-29.0zM878.7 563.5h29.0v9.3h-29.0z"/>
<path fill="#0ffff0" d="M907.2 433.1h10.1v9.3h-10.1zM973.5 476.6h10.1v9.3h-10.1zM1011.4 476.6h29.0v9.3h-29.0zM973.5 485.3h10.1v9.3h-10.1zM973.5 494.0h10.1v9.3h-10.1zM973.5 502.7h10.1v9.3h-10.1zM1096.8 502.7h10.1v9.3h-10.1zM973.5 511.4h10.1v9.3h-10.1zM983.0 537.4h10.1v9.3h-10.1zM992.5 563.5h10.1v9.3h-10.1z"/>
<path fill="#42ffbd" d="M983.0 433.1h10.1v9.3h-10.1zM983.0 441.8h10.1v9.3h-10.1zM983.0 450.5h10.1v9.3h-10.1zM983.0 459.2h10.1v9.3h-10.1zM992.5 476.6h10.1v9.3h-10.1zM1020.9 502.7h10.1v9.3h-10.1zM1096.8 511.4h10.1v9.3h-10.1zM1002.0 546.1h10.1v9.3h-10.1zM1002.0 554.8h10.1v9.3h-10.1zM1002.0 580.9h10.1v9.3h-10.1z"/>
<path fill="#57ffa8" d="M992.5 433.1h10.1v9.3h-10.1zM992.5 467.9h10.1v9.3h-10.1zM1039.9 494.0h10.1v9.3h-10.1zM1077.8 494.0h10.1v9.3h-10.1zM1002.0 528.7h10.1v9.3h-10.1z"/>
<path fill="#6bff94" d="M992.5 441.8h10.1v9.3h-10.1zM992.5 459.2h10.1v9.3h-10.1zM1096.8 572.2h10.1v9.3h-10.1z"/>
<path fill="#75ff8a" d="M992.5 450.5h10.1v9.3h-10.1zM1049.4 494.0h29.0v9.3h-29.0zM1011.4 528.7h10.1v9.3h-10.1z"/>
<path fill="#0afff5" d="M1039.9 476.6h38.5v9.3h-38.5zM983.0 546.1h10.1v9.3h-10.1z"/>
<path fill="#00e0ff" d="M916.6 485.3h19.6v9.3h-19.6zM964.0 546.1h10.1v9.3h-10.1z"/>
<path fill="#00f5ff" d="M935.6 494.0h29.0v9.3h-29.0zM973.5 546.1h10.1v9.3h-10.1z"/>
<path fill="#0094ff" d="M878.7 502.7h10.1v9.3h-10.1zM869.2 528.7h57.5v9.3h-57.5zM869.2 537.4h57.5v9.3h-57.5z"/>
<path fill="#61ff9e" d="M1030.4 502.7h10.1v9.3h-10.1zM1020.9 511.4h10.1v9.3h-10.1zM1011.4 520.0h10.1v9.3h-10.1zM1002.0 589.6h10.1v9.3h-10.1z"/>
<path fill="#8aff75" d="M1039.9 502.7h10.1v9.3h-10.1zM1011.4 554.8h10.1v9.3h-10.1z"/>
<path fill="#b3ff4c" d="M1049.4 502.7h10.1v9.3h-10.1zM1039.9 511.4h10.1v9.3h-10.1zM1011.4 580.9h10.1v9.3h-10.1z"/>
<path fill="#d1ff2e" d="M1058.8 502.7h19.6v9.3h-19.6zM1087.3 520.0h10.1v9.3h-10.1zM1030.4 528.7h10.1v9.3h-10.1zM1020.9 546.1h10.1v9.3h-10.1zM1087.3 563.5h10.1v9.3h-10.1z"/>
<path fill="#9eff61" d="M1077.8 502.7h10.1v9.3h-10.1zM1087.3 511.4h10.1v9.3h-10.1zM1020.9 528.7h10.1v9.3h-10.1zM1096.8 528.7h10.1v9.3h-10.1zM1096.8 554.8h10.1v9.3h-10.1zM1011.4 572.2h10.1v9.3h-10.1z"/>
<path fill="#4dffb2" d="M1087.3 502.7h10.1v9.3h-10.1zM1011.4 511.4h10.1v9.3h-10.1zM1002.0 520.0h10.1v9.3h-10.1zM1002.0 537.4h10.1v9.3h-10.1z"/>
<path fill="#80ff80" d="M1030.4 511.4h10.1v9.3h-10.1zM1020.9 520.0h10.1v9.3h-10.1zM1096.8 520.0h10.1v9.3h-10.1zM1011.4 537.4h10.1v9.3h-10.1zM1011.4 546.1h10.1v9.3h-10.1zM1096.8 563.5h10.1v9.3h-10.1z"/>
<path fill="#e5ff1a" d="M1049.4 511.4h10.1v9.3h-10.1zM1077.8 511.4h10.1v9.3h-10.1zM1087.3 528.7h10.1v9.3h-10.1zM1020.9 554.8h10.1v9.3h-10.1zM1087.3 554.8h10.1v9.3h-10.1zM1077.8 580.9h10.1v9.3h-10.1zM1011.4 589.6h10.1v9.3h-10.1z"/>
<path fill="#faff05" d="M1058.8 511.4h19.6v9.3h-19.6zM1049.4 520.0h10.1v9.3h-10.1zM1077.8 520.0h10.1v9.3h-10.1zM1039.9 528.7h10.1v9.3h-10.1zM1030.4 537.4h10.1v9.3h-10.1zM1020.9 563.5h10.1v9.3h-10.1zM1077.8 572.2h10.1v9.3h-10.1z"/>
<path fill="#0099ff" d="M878.7 520.0h48.0v9.3h-48.0zM869.2 546.1h48.0v9.3h-48.0z"/>
<path fill="#a8ff57" d="M1030.4 520.0h10.1v9.3h-10.1zM1096.8 537.4h10.1v9.3h-10.1zM1096.8 546.1h10.1v9.3h-10.1z"/>
<path fill="#dbff24" d="M1039.9 520.0h10.1v9.3h-10.1zM1077.8 589.6h10.1v9.3h-10.1z"/>
<path fill="#fff500" d="M1058.8 520.0h19.6v9.3h-19.6zM1077.8 528.7h10.1v9.3h-10.1z"/>
<path fill="#00ebff" d="M964.0 528.7h10.1v9.3h-10.1zM983.0 580.9h10.1v9.3h-10.1z"/>
<path fill="#fff000" d="M1049.4 528.7h10.1v9.3h-10.1zM1030.4 546.1h10.1v9.3h-10.1zM1077.8 554.8h10.1v9.3h-10.1zM1020.9 572.2h10.1v9.3h-10.1zM1058.8 606.9h10.1v9.3h-10.1z"/>
<path fill="#ffdb00" d="M1058.8 528.7h10.1v9.3h-10.1zM1068.3 580.9h10.1v9.3h-10.1z"/>
<path fill="#ffe000" d="M1068.3 528.7h10.1v9.3h-10.1z"/>
<path fill="#00ccff" d="M945.1 537.4h19.6v9.3h-19.6z"/>
<path fill="#bdff42" d="M1020.9 537.4h10.1v9.3h-10.1zM1087.3 572.2h10.1v9.3h-10.1z"/>
<path fill="#ffe500" d="M1039.9 537.4h10.1v9.3h-10.1zM1077.8 537.4h10.1v9.3h-10.1zM1077.8 546.1h10.1v9.3h-10.1zM1068.3 589.6h10.1v9.3h-10.1z"/>
<path fill="#ffc700" d="M1049.4 537.4h10.1v9.3h-10.1zM1068.3 537.4h10.1v9.3h-10.1zM1039.9 546.1h10.1v9.3h-10.1zM1068.3 563.5h10.1v9.3h-10.1z"/>
<path fill="#ffbd00" d="M1058.8 537.4h10.1v9.3h-10.1zM1068.3 546.1h10.1v9.3h-10.1zM1068.3 554.8h10.1v9.3h-10.1zM1058.8 598.2h10.1v9.3h-10.1z"/>
<path fill="#f0ff0f" d="M1087.3 537.4h10.1v9.3h-10.1zM1087.3 546.1h10.1v9.3h-10.1z"/>
<path fill="#ffb300" d="M1049.4 546.1h10.1v9.3h-10.1zM1030.4 563.5h10.1v9.3h-10.1zM1058.8 589.6h10.1v9.3h-10.1zM1049.4 606.9h10.1v9.3h-10.1z"/>
<path fill="#ffa800" d="M1058.8 546.1h10.1v9.3h-10.1zM1039.9 554.8h10.1v9.3h-10.1zM1058.8 580.9h10.1v9.3h-10.1z"/>
<path fill="#ffd100" d="M1030.4 554.8h10.1v9.3h-10.1zM1068.3 572.2h10.1v9.3h-10.1zM1020.9 580.9h10.1v9.3h-10.1z"/>
<path fill="#ff9e00" d="M1049.4 554.8h19.6v9.3h-19.6zM1058.8 563.5h10.1v9.3h-10.1zM1058.8 572.2h10.1v9.3h-10.1zM1020.9 589.6h10.1v9.3h-10.1z"/>
<path fill="#94ff6b" d="M1011.4 563.5h10.1v9.3h-10.1zM1087.3 580.9h10.1v9.3h-10.1zM1087.3 589.6h10.1v9.3h-10.1z"/>
<path fill="#ff9400" d="M1039.9 563.5h19.6v9.3h-19.6zM1030.4 572.2h10.1v9.3h-10.1z"/>
<path fill="#fffa00" d="M1077.8 563.5h10.1v9.3h-10.1zM1011.4 598.2h10.1v9.3h-10.1zM1068.3 598.2h10.1v9.3h-10.1z"/>
<path fill="#ff8000" d="M1039.9 572.2h10.1v9.3h-10.1z"/>
<path fill="#ff8a00" d="M1049.4 572.2h10.1v9.3h-10.1zM1049.4 580.9h10.1v9.3h-10.1zM1049.4 589.6h10.1v9.3h-10.1zM1049.4 598.2h10.1v9.3h-10.1z"/>
<path fill="#ff7500" d="M1030.4 580.9h10.1v9.3h-10.1z"/>
<path fill="#ff6b00" d="M1039.9 580.9h10.1v9.3h-10.1z"/>
<path fill="#00d6ff" d="M945.1 589.6h38.5v9.3h-38.5z"/>
<path fill="#ff5700" d="M1030.4 589.6h19.6v9.3h-19.6z"/>
<path fill="#ff4c00" d="M1020.9 598.2h10.1v9.3h-10.1zM1039.9 598.2h10.1v9.3h-10.1z"/>
<path fill="#ff2e00" d="M1030.4 598.2h10.1v9.3h-10.1z"/>
<path fill="#ff0500" d="M1020.9 606.9h10.1v9.3h-10.1z"/>
<path fill="#ff0f00" d="M1030.4 606.9h10.1v9.3h-10.1z"/>
<path fill="#ff6100" d="M1039.9 606.9h10.1v9.3h-10.1z"/>
</g>
<defs><linearGradient id="g1" x1="0" y1="1" x2="0" y2="0"><stop offset="0.0000" stop-color="#00008f"/><stop offset="0.0156" stop-color="#1b0094"/><stop offset="0.0312" stop-color="#3a008c"/><stop offset="0.0469" stop-color="#630076"/><stop offset="0.0625" stop-color="#8a005e"/><stop offset="0.0781" stop-color="#ad0045"/><stop offset="0.0938" stop-color="#d0002a"/><stop offset="0.1094" stop-color="#f3000b"/><stop offset="0.1250" stop-color="#ff0000"/><stop offset="0.1406" stop-color="#ff0000"/><stop offset="0.1562" stop-color="#ff0000"/><stop offset="0.1719" stop-color="#ff0000"/><stop offset="0.1875" stop-color="#ff0a00"/><stop offset="0.2031" stop-color="#ff1f00"/><stop offset="0.2188" stop-color="#ff2f00"/><stop offset="0.2344" stop-color="#ff3b00"/><stop offset="0.2500" stop-color="#ff4800"/><stop offset="0.2656" stop-color="#ff5400"/><stop offset="0.2812" stop-color="#ff6000"/><stop offset="0.2969" stop-color="#ff6f00"/><stop offset="0.3125" stop-color="#ff8000"/><stop offset="0.3281" stop-color="#ff9000"/><stop offset="0.3438" stop-color="#ff9f00"/><stop offset="0.3594" stop-color="#ffae00"/><stop offset="0.3750" stop-color="#ffbd00"/><stop offset="0.3906" stop-color="#ffce00"/><stop offset="0.4062" stop-color="#ffe100"/><stop offset="0.4219" stop-color="#fff500"/><stop offset="0.4375" stop-color="#f9fe05"/><stop offset="0.4531" stop-color="#ecfd0e"/><stop offset="0.4688" stop-color="#dffc17"/><stop offset="0.4844" stop-color="#d2fb21"/><stop offset="0.5000" stop-color="#c6fa2a"/><stop offset="0.5156" stop-color="#befa32"/><stop offset="0.5312" stop-color="#b6fa3a"/><stop offset="0.5469" stop-color="#abfa46"/><stop offset="0.5625" stop-color="#a0fa54"/><stop offset="0.5781" stop-color="#94fa62"/><stop offset="0.5938" stop-color="#89fa70"/><stop offset="0.6094" stop-color="#7bfa7f"/><stop offset="0.6250" stop-color="#69fa91"/><stop offset="0.6406" stop-color="#58faa2"/><stop offset="0.6562" stop-color="#46fab4"/><stop offset="0.6719" stop-color="#34fac6"/><stop offset="0.6875" stop-color="#2bfbd0"/><stop offset="0.7031" stop-color="#23fcd9"/><stop offset="0.7188" stop-color="#1bfce2"/><stop offset="0.7344" stop-color="#13fdeb"/><stop offset="0.7500" stop-color="#0afef4"/><stop offset="0.7656" stop-color="#02fffc"/><stop offset="0.7812" stop-color="#00f2ff"/><stop offset="0.7969" stop-color="#00e0ff"/><stop offset="0.8125" stop-color="#00cdff"/><stop offset="0.8281" stop-color="#00b7ff"/><stop offset="0.8438" stop-color="#00a0ff"/><stop offset="0.8594" stop-color="#0089ff"/><stop offset="0.8750" stop-color="#0071ff"/><stop offset="0.8906" stop-color="#005dff"/><stop offset="0.9062" stop-color="#004cff"/><stop offset="0.9219" stop-color="#003bff"/><stop offset="0.9375" stop-color="#002aff"/><stop offset="0.9531" stop-color="#001aff"/><stop offset="0.9688" stop-color="#0009ff"/><stop offset="0.9844" stop-color="#0000f7"/><stop offset="1.0000" stop-color="#0000e6"/></linearGradient></defs>
<rect x="333.5" y="41.6" width="28.30" height="281.60" fill="url(#g1)" stroke="#262626" stroke-width="0.6"/>
<defs><linearGradient id="g2" x1="0" y1="1" x2="0" y2="0"><stop offset="0.0000" stop-color="#00008f"/><stop offset="0.0156" stop-color="#1b0094"/><stop offset="0.0312" stop-color="#3a008c"/><stop offset="0.0469" stop-color="#630076"/><stop offset="0.0625" stop-color="#8a005e"/><stop offset="0.0781" stop-color="#ad0045"/><stop offset="0.0938" stop-color="#d0002a"/><stop offset="0.1094" stop-color="#f3000b"/><stop offset="0.1250" stop-color="#ff0000"/><stop offset="0.1406" stop-color="#ff0000"/><stop offset="0.1562" stop-color="#ff0000"/><stop offset="0.1719" stop-color="#ff0000"/><stop offset="0.1875" stop-color="#ff0a00"/><stop offset="0.2031" stop-color="#ff1f00"/><stop offset="0.2188" stop-color="#ff2f00"/><stop offset="0.2344" stop-color="#ff3b00"/><stop offset="0.2500" stop-color="#ff4800"/><stop offset="0.2656" stop-color="#ff5400"/><stop offset="0.2812" stop-color="#ff6000"/><stop offset="0.2969" stop-color="#ff6f00"/><stop offset="0.3125" stop-color="#ff8000"/><stop offset="0.3281" stop-color="#ff9000"/><stop offset="0.3438" stop-color="#ff9f00"/><stop offset="0.3594" stop-color="#ffae00"/><stop offset="0.3750" stop-color="#ffbd00"/><stop offset="0.3906" stop-color="#ffce00"/><stop offset="0.4062" stop-color="#ffe100"/><stop offset="0.4219" stop-color="#fff500"/><stop offset="0.4375" stop-color="#f9fe05"/><stop offset="0.4531" stop-color="#ecfd0e"/><stop offset="0.4688" stop-color="#dffc17"/><stop offset="0.4844" stop-color="#d2fb21"/><stop offset="0.5000" stop-color="#c6fa2a"/><stop offset="0.5156" stop-color="#befa32"/><stop offset="0.5312" stop-color="#b6fa3a"/><stop offset="0.5469" stop-color="#abfa46"/><stop offset="0.5625" stop-color="#a0fa54"/><stop offset="0.5781" stop-color="#94fa62"/><stop offset="0.5938" stop-color="#89fa70"/><stop offset="0.6094" stop-color="#7bfa7f"/><stop offset="0.6250" stop-color="#69fa91"/><stop offset="0.6406" stop-color="#58faa2"/><stop offset="0.6562" stop-color="#46fab4"/><stop offset="0.6719" stop-color="#34fac6"/><stop offset="0.6875" stop-color="#2bfbd0"/><stop offset="0.7031" stop-color="#23fcd9"/><stop offset="0.7188" stop-color="#1bfce2"/><stop offset="0.7344" stop-color="#13fdeb"/><stop offset="0.7500" stop-color="#0afef4"/><stop offset="0.7656" stop-color="#02fffc"/><stop offset="0.7812" stop-color="#00f2ff"/><stop offset="0.7969" stop-color="#00e0ff"/><stop offset="0.8125" stop-color="#00cdff"/><stop offset="0.8281" stop-color="#00b7ff"/><stop offset="0.8438" stop-color="#00a0ff"/><stop offset="0.8594" stop-color="#0089ff"/><stop offset="0.8750" stop-color="#0071ff"/><stop offset="0.8906" stop-color="#005dff"/><stop offset="0.9062" stop-color="#004cff"/><stop offset="0.9219" stop-color="#003bff"/><stop offset="0.9375" stop-color="#002aff"/><stop offset="0.9531" stop-color="#001aff"/><stop offset="0.9688" stop-color="#0009ff"/><stop offset="0.9844" stop-color="#0000f7"/><stop offset="1.0000" stop-color="#0000e6"/></linearGradient></defs>
<rect x="744.6" y="41.7" width="27.70" height="281.60" fill="url(#g2)" stroke="#262626" stroke-width="0.6"/>
<defs><linearGradient id="g3" x1="0" y1="1" x2="0" y2="0"><stop offset="0.0000" stop-color="#c8140a"/><stop offset="0.0156" stop-color="#c8140a"/><stop offset="0.0312" stop-color="#cd140a"/><stop offset="0.0469" stop-color="#d5140a"/><stop offset="0.0625" stop-color="#d8140a"/><stop offset="0.0781" stop-color="#da140a"/><stop offset="0.0938" stop-color="#dc140a"/><stop offset="0.1094" stop-color="#dd140a"/><stop offset="0.1250" stop-color="#df140a"/><stop offset="0.1406" stop-color="#e1140a"/><stop offset="0.1562" stop-color="#e3140a"/><stop offset="0.1719" stop-color="#e4140a"/><stop offset="0.1875" stop-color="#e6140a"/><stop offset="0.2031" stop-color="#e8140a"/><stop offset="0.2188" stop-color="#ea140a"/><stop offset="0.2344" stop-color="#ec140a"/><stop offset="0.2500" stop-color="#ed140a"/><stop offset="0.2656" stop-color="#ef140a"/><stop offset="0.2812" stop-color="#f0160a"/><stop offset="0.2969" stop-color="#f01a0c"/><stop offset="0.3125" stop-color="#f01f0d"/><stop offset="0.3281" stop-color="#f0230e"/><stop offset="0.3438" stop-color="#f0270f"/><stop offset="0.3594" stop-color="#f12f0f"/><stop offset="0.3750" stop-color="#f2370f"/><stop offset="0.3906" stop-color="#f33f0f"/><stop offset="0.4062" stop-color="#f4480f"/><stop offset="0.4219" stop-color="#f5500f"/><stop offset="0.4375" stop-color="#f7590e"/><stop offset="0.4531" stop-color="#f8610d"/><stop offset="0.4688" stop-color="#fa6a0c"/><stop offset="0.4844" stop-color="#fc730b"/><stop offset="0.5000" stop-color="#fe7c0b"/><stop offset="0.5156" stop-color="#ff840a"/><stop offset="0.5312" stop-color="#ff8a0a"/><stop offset="0.5469" stop-color="#ff900a"/><stop offset="0.5625" stop-color="#ff970a"/><stop offset="0.5781" stop-color="#ff9d0a"/><stop offset="0.5938" stop-color="#ffa50a"/><stop offset="0.6094" stop-color="#ffb00a"/><stop offset="0.6250" stop-color="#ffbb0a"/><stop offset="0.6406" stop-color="#ffc50a"/><stop offset="0.6562" stop-color="#ffcf0a"/><stop offset="0.6719" stop-color="#fbd60b"/><stop offset="0.6875" stop-color="#ead00d"/><stop offset="0.7031" stop-color="#d9ca12"/><stop offset="0.7188" stop-color="#c6c418"/><stop offset="0.7344" stop-color="#b4be1e"/><stop offset="0.7500" stop-color="#a3b824"/><stop offset="0.7656" stop-color="#92b12b"/><stop offset="0.7812" stop-color="#86ae2e"/><stop offset="0.7969" stop-color="#7dac30"/><stop offset="0.8125" stop-color="#76aa32"/><stop offset="0.8281" stop-color="#76aa32"/><stop offset="0.8438" stop-color="#76aa32"/><stop offset="0.8594" stop-color="#76aa32"/><stop offset="0.8750" stop-color="#76aa32"/><stop offset="0.8906" stop-color="#76aa32"/><stop offset="0.9062" stop-color="#76aa32"/><stop offset="0.9219" stop-color="#76aa32"/><stop offset="0.9375" stop-color="#76aa32"/><stop offset="0.9531" stop-color="#76aa32"/><stop offset="0.9688" stop-color="#76aa32"/><stop offset="0.9844" stop-color="#76aa32"/><stop offset="1.0000" stop-color="#76aa32"/></linearGradient></defs>
<rect x="1159.3" y="39.0" width="27.60" height="280.80" fill="url(#g3)" stroke="#262626" stroke-width="0.6"/>
<defs><linearGradient id="g4" x1="0" y1="1" x2="0" y2="0"><stop offset="0.0000" stop-color="#240004"/><stop offset="0.0156" stop-color="#281a1a"/><stop offset="0.0312" stop-color="#382525"/><stop offset="0.0469" stop-color="#452d2d"/><stop offset="0.0625" stop-color="#503434"/><stop offset="0.0781" stop-color="#593a3a"/><stop offset="0.0938" stop-color="#614040"/><stop offset="0.1094" stop-color="#694545"/><stop offset="0.1250" stop-color="#704a4a"/><stop offset="0.1406" stop-color="#774e4e"/><stop offset="0.1562" stop-color="#7e5252"/><stop offset="0.1719" stop-color="#845656"/><stop offset="0.1875" stop-color="#8a5a5a"/><stop offset="0.2031" stop-color="#8f5e5e"/><stop offset="0.2188" stop-color="#956161"/><stop offset="0.2344" stop-color="#9a6565"/><stop offset="0.2500" stop-color="#9f6868"/><stop offset="0.2656" stop-color="#a46b6b"/><stop offset="0.2812" stop-color="#a96e6e"/><stop offset="0.2969" stop-color="#ad7171"/><stop offset="0.3125" stop-color="#b27474"/><stop offset="0.3281" stop-color="#b67777"/><stop offset="0.3438" stop-color="#ba7a7a"/><stop offset="0.3594" stop-color="#bf7d7d"/><stop offset="0.3750" stop-color="#c38080"/><stop offset="0.3906" stop-color="#c48682"/><stop offset="0.4062" stop-color="#c68b85"/><stop offset="0.4219" stop-color="#c89187"/><stop offset="0.4375" stop-color="#ca968a"/><stop offset="0.4531" stop-color="#cb9b8c"/><stop offset="0.4688" stop-color="#cda08f"/><stop offset="0.4844" stop-color="#cfa591"/><stop offset="0.5000" stop-color="#d0aa93"/><stop offset="0.5156" stop-color="#d2af96"/><stop offset="0.5312" stop-color="#d3b398"/><stop offset="0.5469" stop-color="#d5b79a"/><stop offset="0.5625" stop-color="#d7bc9c"/><stop offset="0.5781" stop-color="#d8c09e"/><stop offset="0.5938" stop-color="#dac4a0"/><stop offset="0.6094" stop-color="#dbc8a3"/><stop offset="0.6250" stop-color="#ddcca5"/><stop offset="0.6406" stop-color="#ded0a7"/><stop offset="0.6562" stop-color="#e0d3a9"/><stop offset="0.6719" stop-color="#e1d7ab"/><stop offset="0.6875" stop-color="#e3dbad"/><stop offset="0.7031" stop-color="#e4deaf"/><stop offset="0.7188" stop-color="#e6e2b1"/><stop offset="0.7344" stop-color="#e7e5b2"/><stop offset="0.7500" stop-color="#e9e9b4"/><stop offset="0.7656" stop-color="#eaeaba"/><stop offset="0.7812" stop-color="#ececbf"/><stop offset="0.7969" stop-color="#ededc4"/><stop offset="0.8125" stop-color="#efefca"/><stop offset="0.8281" stop-color="#f0f0cf"/><stop offset="0.8438" stop-color="#f1f1d3"/><stop offset="0.8594" stop-color="#f3f3d8"/><stop offset="0.8750" stop-color="#f4f4dd"/><stop offset="0.8906" stop-color="#f6f6e1"/><stop offset="0.9062" stop-color="#f7f7e6"/><stop offset="0.9219" stop-color="#f8f8ea"/><stop offset="0.9375" stop-color="#fafaef"/><stop offset="0.9531" stop-color="#fbfbf3"/><stop offset="0.9688" stop-color="#fcfcf7"/><stop offset="0.9844" stop-color="#fefefb"/><stop offset="1.0000" stop-color="#ffffff"/></linearGradient></defs>
<rect x="1579.0" y="39.2" width="27.80" height="280.60" fill="url(#g4)" stroke="#262626" stroke-width="0.6"/>
<defs><linearGradient id="g5" x1="0" y1="1" x2="0" y2="0"><stop offset="0.0000" stop-color="#000096"/><stop offset="0.0156" stop-color="#0000a5"/><stop offset="0.0312" stop-color="#0000b4"/><stop offset="0.0469" stop-color="#0000c3"/><stop offset="0.0625" stop-color="#0000d2"/><stop offset="0.0781" stop-color="#0000e1"/><stop offset="0.0938" stop-color="#0000ef"/><stop offset="0.1094" stop-color="#0000fe"/><stop offset="0.1250" stop-color="#000fff"/><stop offset="0.1406" stop-color="#001fff"/><stop offset="0.1562" stop-color="#002eff"/><stop offset="0.1719" stop-color="#003eff"/><stop offset="0.1875" stop-color="#004eff"/><stop offset="0.2031" stop-color="#005dff"/><stop offset="0.2188" stop-color="#006dff"/><stop offset="0.2344" stop-color="#007cff"/><stop offset="0.2500" stop-color="#008cff"/><stop offset="0.2656" stop-color="#009cff"/><stop offset="0.2812" stop-color="#00abff"/><stop offset="0.2969" stop-color="#00bbff"/><stop offset="0.3125" stop-color="#00caff"/><stop offset="0.3281" stop-color="#00daff"/><stop offset="0.3438" stop-color="#00eaff"/><stop offset="0.3594" stop-color="#00f9ff"/><stop offset="0.3750" stop-color="#0afff5"/><stop offset="0.3906" stop-color="#1affe5"/><stop offset="0.4062" stop-color="#29ffd6"/><stop offset="0.4219" stop-color="#39ffc6"/><stop offset="0.4375" stop-color="#49ffb6"/><stop offset="0.4531" stop-color="#58ffa7"/><stop offset="0.4688" stop-color="#68ff97"/><stop offset="0.4844" stop-color="#77ff88"/><stop offset="0.5000" stop-color="#87ff78"/><stop offset="0.5156" stop-color="#97ff68"/><stop offset="0.5312" stop-color="#a6ff59"/><stop offset="0.5469" stop-color="#b6ff49"/><stop offset="0.5625" stop-color="#c6ff3a"/><stop offset="0.5781" stop-color="#d5ff2a"/><stop offset="0.5938" stop-color="#e5ff1a"/><stop offset="0.6094" stop-color="#f4ff0b"/><stop offset="0.6250" stop-color="#fffa00"/><stop offset="0.6406" stop-color="#ffea00"/><stop offset="0.6562" stop-color="#ffdb00"/><stop offset="0.6719" stop-color="#ffcb00"/><stop offset="0.6875" stop-color="#ffbc00"/><stop offset="0.7031" stop-color="#ffac00"/><stop offset="0.7188" stop-color="#ff9c00"/><stop offset="0.7344" stop-color="#ff8d00"/><stop offset="0.7500" stop-color="#ff7d00"/><stop offset="0.7656" stop-color="#ff6d00"/><stop offset="0.7812" stop-color="#ff5e00"/><stop offset="0.7969" stop-color="#ff4e00"/><stop offset="0.8125" stop-color="#ff3e00"/><stop offset="0.8281" stop-color="#ff2f00"/><stop offset="0.8438" stop-color="#ff1f00"/><stop offset="0.8594" stop-color="#ff1000"/><stop offset="0.8750" stop-color="#ff0000"/><stop offset="0.8906" stop-color="#ef0000"/><stop offset="0.9062" stop-color="#df0000"/><stop offset="0.9219" stop-color="#cf0000"/><stop offset="0.9375" stop-color="#c00000"/><stop offset="0.9531" stop-color="#b00000"/><stop offset="0.9688" stop-color="#a00000"/><stop offset="0.9844" stop-color="#900000"/><stop offset="1.0000" stop-color="#800000"/></linearGradient></defs>
<rect x="330.9" y="379.8" width="29.50" height="270.10" fill="url(#g5)" stroke="#262626" stroke-width="0.6"/>
<defs><linearGradient id="g6" x1="0" y1="1" x2="0" y2="0"><stop offset="0.0000" stop-color="#000096"/><stop offset="0.0156" stop-color="#0000a5"/><stop offset="0.0312" stop-color="#0000b4"/><stop offset="0.0469" stop-color="#0000c3"/><stop offset="0.0625" stop-color="#0000d2"/><stop offset="0.0781" stop-color="#0000e1"/><stop offset="0.0938" stop-color="#0000ef"/><stop offset="0.1094" stop-color="#0000fe"/><stop offset="0.1250" stop-color="#000fff"/><stop offset="0.1406" stop-color="#001fff"/><stop offset="0.1562" stop-color="#002eff"/><stop offset="0.1719" stop-color="#003eff"/><stop offset="0.1875" stop-color="#004eff"/><stop offset="0.2031" stop-color="#005dff"/><stop offset="0.2188" stop-color="#006dff"/><stop offset="0.2344" stop-color="#007cff"/><stop offset="0.2500" stop-color="#008cff"/><stop offset="0.2656" stop-color="#009cff"/><stop offset="0.2812" stop-color="#00abff"/><stop offset="0.2969" stop-color="#00bbff"/><stop offset="0.3125" stop-color="#00caff"/><stop offset="0.3281" stop-color="#00daff"/><stop offset="0.3438" stop-color="#00eaff"/><stop offset="0.3594" stop-color="#00f9ff"/><stop offset="0.3750" stop-color="#0afff5"/><stop offset="0.3906" stop-color="#1affe5"/><stop offset="0.4062" stop-color="#29ffd6"/><stop offset="0.4219" stop-color="#39ffc6"/><stop offset="0.4375" stop-color="#49ffb6"/><stop offset="0.4531" stop-color="#58ffa7"/><stop offset="0.4688" stop-color="#68ff97"/><stop offset="0.4844" stop-color="#77ff88"/><stop offset="0.5000" stop-color="#87ff78"/><stop offset="0.5156" stop-color="#97ff68"/><stop offset="0.5312" stop-color="#a6ff59"/><stop offset="0.5469" stop-color="#b6ff49"/><stop offset="0.5625" stop-color="#c6ff3a"/><stop offset="0.5781" stop-color="#d5ff2a"/><stop offset="0.5938" stop-color="#e5ff1a"/><stop offset="0.6094" stop-color="#f4ff0b"/><stop offset="0.6250" stop-color="#fffa00"/><stop offset="0.6406" stop-color="#ffea00"/><stop offset="0.6562" stop-color="#ffdb00"/><stop offset="0.6719" stop-color="#ffcb00"/><stop offset="0.6875" stop-color="#ffbc00"/><stop offset="0.7031" stop-color="#ffac00"/><stop offset="0.7188" stop-color="#ff9c00"/><stop offset="0.7344" stop-color="#ff8d00"/><stop offset="0.7500" stop-color="#ff7d00"/><stop offset="0.7656" stop-color="#ff6d00"/><stop offset="0.7812" stop-color="#ff5e00"/><stop offset="0.7969" stop-color="#ff4e00"/><stop offset="0.8125" stop-color="#ff3e00"/><stop offset="0.8281" stop-color="#ff2f00"/><stop offset="0.8438" stop-color="#ff1f00"/><stop offset="0.8594" stop-color="#ff1000"/><stop offset="0.8750" stop-color="#ff0000"/><stop offset="0.8906" stop-color="#ef0000"/><stop offset="0.9062" stop-color="#df0000"/><stop offset="0.9219" stop-color="#cf0000"/><stop offset="0.9375" stop-color="#c00000"/><stop offset="0.9531" stop-color="#b00000"/><stop offset="0.9688" stop-color="#a00000"/><stop offset="0.9844" stop-color="#900000"/><stop offset="1.0000" stop-color="#800000"/></linearGradient></defs>
<rect x="742.4" y="379.6" width="29.90" height="270.30" fill="url(#g6)" stroke="#262626" stroke-width="0.6"/>
<defs><linearGradient id="g7" x1="0" y1="1" x2="0" y2="0"><stop offset="0.0000" stop-color="#000096"/><stop offset="0.0156" stop-color="#0000a5"/><stop offset="0.0312" stop-color="#0000b4"/><stop offset="0.0469" stop-color="#0000c3"/><stop offset="0.0625" stop-color="#0000d2"/><stop offset="0.0781" stop-color="#0000e1"/><stop offset="0.0938" stop-color="#0000ef"/><stop offset="0.1094" stop-color="#0000fe"/><stop offset="0.1250" stop-color="#000fff"/><stop offset="0.1406" stop-color="#001fff"/><stop offset="0.1562" stop-color="#002eff"/><stop offset="0.1719" stop-color="#003eff"/><stop offset="0.1875" stop-color="#004eff"/><stop offset="0.2031" stop-color="#005dff"/><stop offset="0.2188" stop-color="#006dff"/><stop offset="0.2344" stop-color="#007cff"/><stop offset="0.2500" stop-color="#008cff"/><stop offset="0.2656" stop-color="#009cff"/><stop offset="0.2812" stop-color="#00abff"/><stop offset="0.2969" stop-color="#00bbff"/><stop offset="0.3125" stop-color="#00caff"/><stop offset="0.3281" stop-color="#00daff"/><stop offset="0.3438" stop-color="#00eaff"/><stop offset="0.3594" stop-color="#00f9ff"/><stop offset="0.3750" stop-color="#0afff5"/><stop offset="0.3906" stop-color="#1affe5"/><stop offset="0.4062" stop-color="#29ffd6"/><stop offset="0.4219" stop-color="#39ffc6"/><stop offset="0.4375" stop-color="#49ffb6"/><stop offset="0.4531" stop-color="#58ffa7"/><stop offset="0.4688" stop-color="#68ff97"/><stop offset="0.4844" stop-color="#77ff88"/><stop offset="0.5000" stop-color="#87ff78"/><stop offset="0.5156" stop-color="#97ff68"/><stop offset="0.5312" stop-color="#a6ff59"/><stop offset="0.5469" stop-color="#b6ff49"/><stop offset="0.5625" stop-color="#c6ff3a"/><stop offset="0.5781" stop-color="#d5ff2a"/><stop offset="0.5938" stop-color="#e5ff1a"/><stop offset="0.6094" stop-color="#f4ff0b"/><stop offset="0.6250" stop-color="#fffa00"/><stop offset="0.6406" stop-color="#ffea00"/><stop offset="0.6562" stop-color="#ffdb00"/><stop offset="0.6719" stop-color="#ffcb00"/><stop offset="0.6875" stop-color="#ffbc00"/><stop offset="0.7031" stop-color="#ffac00"/><stop offset="0.7188" stop-color="#ff9c00"/><stop offset="0.7344" stop-color="#ff8d00"/><stop offset="0.7500" stop-color="#ff7d00"/><stop offset="0.7656" stop-color="#ff6d00"/><stop offset="0.7812" stop-color="#ff5e00"/><stop offset="0.7969" stop-color="#ff4e00"/><stop offset="0.8125" stop-color="#ff3e00"/><stop offset="0.8281" stop-color="#ff2f00"/><stop offset="0.8438" stop-color="#ff1f00"/><stop offset="0.8594" stop-color="#ff1000"/><stop offset="0.8750" stop-color="#ff0000"/><stop offset="0.8906" stop-color="#ef0000"/><stop offset="0.9062" stop-color="#df0000"/><stop offset="0.9219" stop-color="#cf0000"/><stop offset="0.9375" stop-color="#c00000"/><stop offset="0.9531" stop-color="#b00000"/><stop offset="0.9688" stop-color="#a00000"/><stop offset="0.9844" stop-color="#900000"/><stop offset="1.0000" stop-color="#800000"/></linearGradient></defs>
<rect x="1157.1" y="379.6" width="27.30" height="270.30" fill="url(#g7)" stroke="#262626" stroke-width="0.6"/>
<rect x="1159.3" y="316.2" width="27.6" height="3.6" fill="#0a0000"/>
<text x="369.3" y="74.2" font-size="21.7" font-weight="normal" fill="#2e2e2e" text-anchor="start" >10</text>
<text x="369.3" y="124.1" font-size="21.7" font-weight="normal" fill="#2e2e2e" text-anchor="start" >8</text>
<text x="369.3" y="173.9" font-size="21.7" font-weight="normal" fill="#2e2e2e" text-anchor="start" >6</text>
<text x="369.3" y="223.7" font-size="21.7" font-weight="normal" fill="#2e2e2e" text-anchor="start" >4</text>
<text x="369.3" y="273.5" font-size="21.7" font-weight="normal" fill="#2e2e2e" text-anchor="start" >2</text>
<text x="369.3" y="323.3" font-size="21.7" font-weight="normal" fill="#2e2e2e" text-anchor="start" >0</text>
<text x="781.9" y="74.4" font-size="21.7" font-weight="normal" fill="#2e2e2e" text-anchor="start" >10</text>
<text x="781.9" y="124.3" font-size="21.7" font-weight="normal" fill="#2e2e2e" text-anchor="start" >8</text>
<text x="781.9" y="174.1" font-size="21.7" font-weight="normal" fill="#2e2e2e" text-anchor="start" >6</text>
<text x="781.9" y="223.9" font-size="21.7" font-weight="normal" fill="#2e2e2e" text-anchor="start" >4</text>
<text x="781.9" y="273.7" font-size="21.7" font-weight="normal" fill="#2e2e2e" text-anchor="start" >2</text>
<text x="781.9" y="323.3" font-size="21.7" font-weight="normal" fill="#2e2e2e" text-anchor="start" >0</text>
<text x="1194.3" y="53.3" font-size="21.7" font-weight="normal" fill="#2e2e2e" text-anchor="start" >1</text>
<text x="1194.3" y="106.8" font-size="21.7" font-weight="normal" fill="#2e2e2e" text-anchor="start" >0.8</text>
<text x="1194.3" y="160.9" font-size="21.7" font-weight="normal" fill="#2e2e2e" text-anchor="start" >0.6</text>
<text x="1194.3" y="215.0" font-size="21.7" font-weight="normal" fill="#2e2e2e" text-anchor="start" >0.4</text>
<text x="1194.3" y="269.1" font-size="21.7" font-weight="normal" fill="#2e2e2e" text-anchor="start" >0.2</text>
<text x="1194.3" y="323.2" font-size="21.7" font-weight="normal" fill="#2e2e2e" text-anchor="start" >0</text>
<text x="1617.6" y="117.2" font-size="21.7" font-weight="normal" fill="#2e2e2e" text-anchor="start" >0.6</text>
<text x="1617.6" y="186.0" font-size="21.7" font-weight="normal" fill="#2e2e2e" text-anchor="start" >0.4</text>
<text x="1617.6" y="254.6" font-size="21.7" font-weight="normal" fill="#2e2e2e" text-anchor="start" >0.2</text>
<text x="1617.6" y="323.0" font-size="21.7" font-weight="normal" fill="#2e2e2e" text-anchor="start" >0</text>
<text x="369.2" y="390.3" font-size="21.7" font-weight="normal" fill="#2e2e2e" text-anchor="start" >2</text>
<text x="369.2" y="457.5" font-size="21.7" font-weight="normal" fill="#2e2e2e" text-anchor="start" >1.5</text>
<text x="369.2" y="524.6" font-size="21.7" font-weight="normal" fill="#2e2e2e" text-anchor="start" >1</text>
<text x="369.2" y="591.5" font-size="21.7" font-weight="normal" fill="#2e2e2e" text-anchor="start" >0.5</text>
<text x="369.2" y="658.3" font-size="21.7" font-weight="normal" fill="#2e2e2e" text-anchor="start" >0</text>
<text x="781.9" y="411.7" font-size="21.7" font-weight="normal" fill="#2e2e2e" text-anchor="start" >10</text>
<text x="781.9" y="461.0" font-size="21.7" font-weight="normal" fill="#2e2e2e" text-anchor="start" >8</text>
<text x="781.9" y="510.4" font-size="21.7" font-weight="normal" fill="#2e2e2e" text-anchor="start" >6</text>
<text x="781.9" y="559.7" font-size="21.7" font-weight="normal" fill="#2e2e2e" text-anchor="start" >4</text>
<text x="781.9" y="609.0" font-size="21.7" font-weight="normal" fill="#2e2e2e" text-anchor="start" >2</text>
<text x="781.9" y="658.4" font-size="21.7" font-weight="normal" fill="#2e2e2e" text-anchor="start" >0</text>
<text x="1194.2" y="434.1" font-size="21.7" font-weight="normal" fill="#2e2e2e" text-anchor="start" >1</text>
<text x="1194.2" y="478.9" font-size="21.7" font-weight="normal" fill="#2e2e2e" text-anchor="start" >0.8</text>
<text x="1194.2" y="523.7" font-size="21.7" font-weight="normal" fill="#2e2e2e" text-anchor="start" >0.6</text>
<text x="1194.2" y="568.6" font-size="21.7" font-weight="normal" fill="#2e2e2e" text-anchor="start" >0.4</text>
<text x="1194.2" y="613.4" font-size="21.7" font-weight="normal" fill="#2e2e2e" text-anchor="start" >0.2</text>
<text x="1194.2" y="658.2" font-size="21.7" font-weight="normal" fill="#2e2e2e" text-anchor="start" >0</text>
<line x1="358.8" y1="48.8" x2="361.8" y2="48.8" stroke="#262626" stroke-width="0.8"/>
<line x1="358.8" y1="103.5" x2="361.8" y2="103.5" stroke="#262626" stroke-width="0.8"/>
<line x1="358.8" y1="158.8" x2="361.8" y2="158.8" stroke="#262626" stroke-width="0.8"/>
<line x1="358.8" y1="213" x2="361.8" y2="213" stroke="#262626" stroke-width="0.8"/>
<line x1="358.8" y1="267.7" x2="361.8" y2="267.7" stroke="#262626" stroke-width="0.8"/>
<line x1="769.3" y1="48.8" x2="772.3" y2="48.8" stroke="#262626" stroke-width="0.8"/>
<line x1="769.3" y1="103.5" x2="772.3" y2="103.5" stroke="#262626" stroke-width="0.8"/>
<line x1="769.3" y1="158.8" x2="772.3" y2="158.8" stroke="#262626" stroke-width="0.8"/>
<line x1="769.3" y1="213" x2="772.3" y2="213" stroke="#262626" stroke-width="0.8"/>
<line x1="769.3" y1="267.7" x2="772.3" y2="267.7" stroke="#262626" stroke-width="0.8"/>
<line x1="1183.9" y1="95.3" x2="1186.9" y2="95.3" stroke="#262626" stroke-width="0.8"/>
<line x1="1183.9" y1="151" x2="1186.9" y2="151" stroke="#262626" stroke-width="0.8"/>
<line x1="1183.9" y1="207" x2="1186.9" y2="207" stroke="#262626" stroke-width="0.8"/>
<line x1="1183.9" y1="263.5" x2="1186.9" y2="263.5" stroke="#262626" stroke-width="0.8"/>
<line x1="1603.8" y1="91.3" x2="1606.8" y2="91.3" stroke="#262626" stroke-width="0.8"/>
<line x1="1603.8" y1="149.3" x2="1606.8" y2="149.3" stroke="#262626" stroke-width="0.8"/>
<line x1="1603.8" y1="207.2" x2="1606.8" y2="207.2" stroke="#262626" stroke-width="0.8"/>
<line x1="1603.8" y1="264.3" x2="1606.8" y2="264.3" stroke="#262626" stroke-width="0.8"/>
<line x1="357.4" y1="447.2" x2="360.4" y2="447.2" stroke="#262626" stroke-width="0.8"/>
<line x1="357.4" y1="514.8" x2="360.4" y2="514.8" stroke="#262626" stroke-width="0.8"/>
<line x1="357.4" y1="582.3" x2="360.4" y2="582.3" stroke="#262626" stroke-width="0.8"/>
<line x1="769.3" y1="404.2" x2="772.3" y2="404.2" stroke="#262626" stroke-width="0.8"/>
<line x1="769.3" y1="453.3" x2="772.3" y2="453.3" stroke="#262626" stroke-width="0.8"/>
<line x1="769.3" y1="502.5" x2="772.3" y2="502.5" stroke="#262626" stroke-width="0.8"/>
<line x1="769.3" y1="551.6" x2="772.3" y2="551.6" stroke="#262626" stroke-width="0.8"/>
<line x1="769.3" y1="600.8" x2="772.3" y2="600.8" stroke="#262626" stroke-width="0.8"/>
<line x1="1181.4" y1="424.6" x2="1184.4" y2="424.6" stroke="#262626" stroke-width="0.8"/>
<line x1="1181.4" y1="469.7" x2="1184.4" y2="469.7" stroke="#262626" stroke-width="0.8"/>
<line x1="1181.4" y1="514.7" x2="1184.4" y2="514.7" stroke="#262626" stroke-width="0.8"/>
<line x1="1181.4" y1="559.8" x2="1184.4" y2="559.8" stroke="#262626" stroke-width="0.8"/>
<line x1="1181.4" y1="604.9" x2="1184.4" y2="604.9" stroke="#262626" stroke-width="0.8"/>
<text x="87.96" y="25.8" font-size="25" font-weight="bold" fill="#000" textLength="61.16" lengthAdjust="spacingAndGlyphs" xml:space="preserve">FEV1</text>
<text x="154.29" y="37.6" font-size="20" font-weight="bold" fill="#000" textLength="31.44" lengthAdjust="spacingAndGlyphs" xml:space="preserve">EIT</text>
<text x="193.16" y="25.8" font-size="25" font-weight="bold" fill="#000" textLength="47.49" lengthAdjust="spacingAndGlyphs" xml:space="preserve">(ml)</text>
<text x="506.08" y="25.8" font-size="25" font-weight="bold" fill="#000" textLength="51.22" lengthAdjust="spacingAndGlyphs" xml:space="preserve">FVC</text>
<text x="558.79" y="37.6" font-size="20" font-weight="bold" fill="#000" textLength="31.33" lengthAdjust="spacingAndGlyphs" xml:space="preserve">EIT</text>
<text x="598.06" y="25.8" font-size="25" font-weight="bold" fill="#000" textLength="47.49" lengthAdjust="spacingAndGlyphs" xml:space="preserve">(ml)</text>
<text x="920.17" y="28.2" font-size="25" font-weight="bold" fill="#000" textLength="137.50" lengthAdjust="spacingAndGlyphs" xml:space="preserve">FEV1 / FVC</text>
<text x="1289.07" y="25.9" font-size="25" font-weight="bold" fill="#000" textLength="120.67" lengthAdjust="spacingAndGlyphs" xml:space="preserve">MEF25-75</text>
<text x="1409.89" y="37.8" font-size="20" font-weight="bold" fill="#000" textLength="31.33" lengthAdjust="spacingAndGlyphs" xml:space="preserve">EIT</text>
<text x="1449.46" y="25.9" font-size="25" font-weight="bold" fill="#000" textLength="86.57" lengthAdjust="spacingAndGlyphs" xml:space="preserve">(L/min)</text>
<text x="124.70" y="372.6" font-size="25" font-weight="bold" fill="#000" textLength="82.03" lengthAdjust="spacingAndGlyphs" xml:space="preserve">T75 (s)</text>
<text x="502.41" y="361.1" font-size="25" font-weight="bold" fill="#000" textLength="57.54" lengthAdjust="spacingAndGlyphs" xml:space="preserve">FIVC</text>
<text x="561.69" y="373.6" font-size="20" font-weight="bold" fill="#000" textLength="31.54" lengthAdjust="spacingAndGlyphs" xml:space="preserve">EIT</text>
<text x="601.27" y="361.1" font-size="25" font-weight="bold" fill="#000" textLength="47.18" lengthAdjust="spacingAndGlyphs" xml:space="preserve">(ml)</text>
<text x="865.20" y="364.3" font-size="25" font-weight="bold" fill="#000" textLength="249.35" lengthAdjust="spacingAndGlyphs" xml:space="preserve">Time constant (map)</text>
<text x="1345.10" y="368.4" font-size="25" font-weight="bold" fill="#000" textLength="243.99" lengthAdjust="spacingAndGlyphs" xml:space="preserve">Time constant (hist)</text>
<text x="22.44" y="76.0" font-size="33" font-weight="bold" fill="#fff" textLength="23.70" lengthAdjust="spacingAndGlyphs" xml:space="preserve">A</text>
<text x="436.15" y="76.3" font-size="33" font-weight="bold" fill="#fff" textLength="22.11" lengthAdjust="spacingAndGlyphs" xml:space="preserve">B</text>
<text x="851.67" y="76.6" font-size="33" font-weight="bold" fill="#fff" textLength="22.11" lengthAdjust="spacingAndGlyphs" xml:space="preserve">C</text>
<text x="1273.99" y="76.0" font-size="33" font-weight="bold" fill="#fff" textLength="22.82" lengthAdjust="spacingAndGlyphs" xml:space="preserve">D</text>
<text x="23.62" y="411.0" font-size="33" font-weight="bold" fill="#fff" textLength="20.74" lengthAdjust="spacingAndGlyphs" xml:space="preserve">E</text>
<text x="440.33" y="411.0" font-size="33" font-weight="bold" fill="#fff" textLength="16.85" lengthAdjust="spacingAndGlyphs" xml:space="preserve">F</text>
<text x="851.66" y="411.6" font-size="33" font-weight="bold" fill="#fff" textLength="24.11" lengthAdjust="spacingAndGlyphs" xml:space="preserve">G</text>
<text x="1273.26" y="413.5" font-size="33" font-weight="bold" fill="#000" textLength="21.94" lengthAdjust="spacingAndGlyphs" xml:space="preserve">H</text>
<rect x="1318.7" y="622.8" width="18.5" height="26.8" fill="#60a6da" stroke="#101820" stroke-width="1.1"/>
<rect x="1337.3" y="482.1" width="18.5" height="167.5" fill="#60a6da" stroke="#101820" stroke-width="1.1"/>
<rect x="1355.8" y="428.5" width="18.5" height="221.1" fill="#60a6da" stroke="#101820" stroke-width="1.1"/>
<rect x="1374.3" y="545.1" width="18.5" height="104.5" fill="#60a6da" stroke="#101820" stroke-width="1.1"/>
<rect x="1392.8" y="599.4" width="18.5" height="50.2" fill="#60a6da" stroke="#101820" stroke-width="1.1"/>
<rect x="1411.3" y="602.0" width="18.5" height="47.6" fill="#60a6da" stroke="#101820" stroke-width="1.1"/>
<rect x="1429.9" y="612.1" width="18.5" height="37.5" fill="#60a6da" stroke="#101820" stroke-width="1.1"/>
<rect x="1448.4" y="640.2" width="18.5" height="9.4" fill="#60a6da" stroke="#101820" stroke-width="1.1"/>
<rect x="1466.9" y="647.6" width="18.5" height="2.0" fill="#60a6da" stroke="#101820" stroke-width="1.1"/>
<rect x="1262.9" y="379.6" width="407.4" height="270.0" fill="none" stroke="#606060" stroke-width="1.3"/>
<line x1="1281.7" y1="379.6" x2="1281.7" y2="384.6" stroke="#606060" stroke-width="1.2"/>
<line x1="1281.7" y1="649.6" x2="1281.7" y2="644.6" stroke="#606060" stroke-width="1.2"/>
<text x="1275.67" y="681.1" font-size="21.7" font-weight="normal" fill="#2e2e2e" xml:space="preserve">0</text>
<line x1="1374.3" y1="379.6" x2="1374.3" y2="384.6" stroke="#606060" stroke-width="1.2"/>
<line x1="1374.3" y1="649.6" x2="1374.3" y2="644.6" stroke="#606060" stroke-width="1.2"/>
<text x="1359.31" y="681.1" font-size="21.7" font-weight="normal" fill="#2e2e2e" xml:space="preserve">0.5</text>
<line x1="1466.9" y1="379.6" x2="1466.9" y2="384.6" stroke="#606060" stroke-width="1.2"/>
<line x1="1466.9" y1="649.6" x2="1466.9" y2="644.6" stroke="#606060" stroke-width="1.2"/>
<text x="1460.57" y="681.1" font-size="21.7" font-weight="normal" fill="#2e2e2e" xml:space="preserve">1</text>
<line x1="1559.5" y1="379.6" x2="1559.5" y2="384.6" stroke="#606060" stroke-width="1.2"/>
<line x1="1559.5" y1="649.6" x2="1559.5" y2="644.6" stroke="#606060" stroke-width="1.2"/>
<text x="1544.12" y="681.1" font-size="21.7" font-weight="normal" fill="#2e2e2e" xml:space="preserve">1.5</text>
<line x1="1652.1" y1="379.6" x2="1652.1" y2="384.6" stroke="#606060" stroke-width="1.2"/>
<line x1="1652.1" y1="649.6" x2="1652.1" y2="644.6" stroke="#606060" stroke-width="1.2"/>
<text x="1646.10" y="681.1" font-size="21.7" font-weight="normal" fill="#2e2e2e" xml:space="preserve">2</text>
<line x1="1262.9" y1="582.6" x2="1267.9" y2="582.6" stroke="#606060" stroke-width="1.2"/>
<line x1="1670.3" y1="582.6" x2="1665.3" y2="582.6" stroke="#606060" stroke-width="1.2"/>
<line x1="1262.9" y1="515.6" x2="1267.9" y2="515.6" stroke="#606060" stroke-width="1.2"/>
<line x1="1670.3" y1="515.6" x2="1665.3" y2="515.6" stroke="#606060" stroke-width="1.2"/>
<line x1="1262.9" y1="448.6" x2="1267.9" y2="448.6" stroke="#606060" stroke-width="1.2"/>
<line x1="1670.3" y1="448.6" x2="1665.3" y2="448.6" stroke="#606060" stroke-width="1.2"/>
<text x="1718.4" y="399.4" font-size="21.7" font-weight="normal" fill="#2e2e2e" text-anchor="end" >200</text>
<text x="1718.4" y="467.5" font-size="21.7" font-weight="normal" fill="#2e2e2e" text-anchor="end" >150</text>
<text x="1718.4" y="534.3" font-size="21.7" font-weight="normal" fill="#2e2e2e" text-anchor="end" >100</text>
<text x="1718.4" y="600.8" font-size="21.7" font-weight="normal" fill="#2e2e2e" text-anchor="end" >50</text>
<text x="1718.4" y="668.8" font-size="21.7" font-weight="normal" fill="#2e2e2e" text-anchor="end" >0</text>
<text x="1477.31" y="702.2" font-size="25" font-weight="bold" fill="#000" xml:space="preserve">s</text>
<text transform="translate(1738.1,534.9) rotate(90)" font-size="25" font-weight="bold" text-anchor="middle" fill="#1a1a1a" textLength="121.4" lengthAdjust="spacingAndGlyphs">frequency</text>
</svg>
</body></html>
